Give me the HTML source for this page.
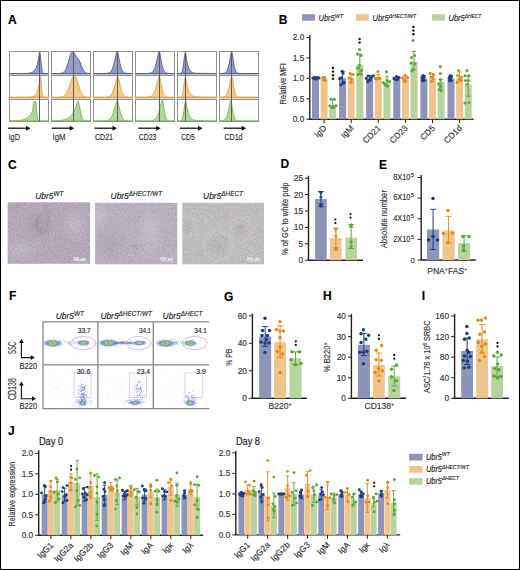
<!DOCTYPE html>
<html><head><meta charset="utf-8"><style>
html,body{margin:0;padding:0;background:#fff;overflow:hidden;width:520px;height:570px;}
svg{display:block;font-family:"Liberation Sans", sans-serif;}
text{stroke:#2a2a2a;stroke-width:0.15px;paint-order:stroke;}
text.nw{stroke:none;}
</style></head><body>
<svg width="520" height="570" viewBox="0 0 520 570">
<rect x="0.5" y="0.5" width="519" height="569" fill="#fff" stroke="#000" stroke-width="1"/>
<text x="8.00" y="23.60" font-size="12" text-anchor="start" font-weight="bold" font-style="normal" fill="#000" >A</text>
<text x="278.80" y="23.70" font-size="12" text-anchor="start" font-weight="bold" font-style="normal" fill="#000" >B</text>
<text x="8.00" y="168.50" font-size="12" text-anchor="start" font-weight="bold" font-style="normal" fill="#000" >C</text>
<text x="280.50" y="168.30" font-size="12" text-anchor="start" font-weight="bold" font-style="normal" fill="#000" >D</text>
<text x="379.00" y="168.60" font-size="12" text-anchor="start" font-weight="bold" font-style="normal" fill="#000" >E</text>
<text x="9.00" y="300.10" font-size="12" text-anchor="start" font-weight="bold" font-style="normal" fill="#000" >F</text>
<text x="224.00" y="300.80" font-size="12" text-anchor="start" font-weight="bold" font-style="normal" fill="#000" >G</text>
<text x="323.00" y="300.10" font-size="12" text-anchor="start" font-weight="bold" font-style="normal" fill="#000" >H</text>
<text x="421.80" y="300.10" font-size="12" text-anchor="start" font-weight="bold" font-style="normal" fill="#000" >I</text>
<text x="7.90" y="435.30" font-size="12" text-anchor="start" font-weight="bold" font-style="normal" fill="#000" >J</text>
<rect x="9.5" y="51.5" width="39" height="22.5" fill="none" stroke="#909090" stroke-width="1"/>
<rect x="9.5" y="75.5" width="39" height="22.299999999999997" fill="none" stroke="#909090" stroke-width="1"/>
<rect x="9.5" y="99.5" width="39" height="22" fill="none" stroke="#909090" stroke-width="1"/>
<path d="M9.60,73.50 L9.60,73.50 L9.99,73.50 L10.38,73.50 L10.76,73.50 L11.15,73.50 L11.54,73.50 L11.93,73.50 L12.32,73.50 L12.70,73.50 L13.09,73.50 L13.48,73.50 L13.87,73.50 L14.26,73.50 L14.64,73.50 L15.03,73.50 L15.42,73.50 L15.81,73.50 L16.20,73.50 L16.58,73.50 L16.97,73.50 L17.36,73.50 L17.75,73.50 L18.14,73.49 L18.52,73.49 L18.91,73.49 L19.30,73.49 L19.69,73.49 L20.08,73.49 L20.46,73.49 L20.85,73.48 L21.24,73.48 L21.63,73.48 L22.02,73.47 L22.40,73.47 L22.79,73.47 L23.18,73.46 L23.57,73.45 L23.96,73.45 L24.34,73.44 L24.73,73.43 L25.12,73.42 L25.51,73.40 L25.90,73.39 L26.28,73.37 L26.67,73.35 L27.06,73.32 L27.45,73.30 L27.84,73.26 L28.22,73.22 L28.61,73.18 L29.00,73.13 L29.39,73.07 L29.78,73.00 L30.16,72.92 L30.55,72.83 L30.94,72.72 L31.33,72.59 L31.72,72.45 L32.10,72.28 L32.49,72.08 L32.88,71.85 L33.27,71.59 L33.66,71.28 L34.04,70.92 L34.43,70.51 L34.82,70.02 L35.21,69.46 L35.60,68.81 L35.98,68.06 L36.37,67.19 L36.76,66.17 L37.15,64.99 L37.54,63.62 L37.92,62.03 L38.31,60.18 L38.70,58.04 L39.09,55.55 L39.48,52.66 L39.86,52.17 L40.25,54.64 L40.64,58.49 L41.03,62.73 L41.42,66.55 L41.80,69.45 L42.19,71.38 L42.58,72.50 L42.97,73.07 L43.36,73.34 L43.74,73.44 L44.13,73.48 L44.52,73.50 L44.91,73.50 L45.30,73.50 L45.68,73.50 L46.07,73.50 L46.46,73.50 L46.85,73.50 L47.24,73.50 L47.62,73.50 L48.01,73.50 L48.40,73.50 L48.40,73.50 Z" fill="#959cc6" stroke="#4a5a9c" stroke-width="0.9"/>
<path d="M9.60,97.30 L9.60,97.30 L9.99,97.30 L10.38,97.30 L10.76,97.30 L11.15,97.30 L11.54,97.30 L11.93,97.30 L12.32,97.30 L12.70,97.30 L13.09,97.30 L13.48,97.30 L13.87,97.30 L14.26,97.30 L14.64,97.30 L15.03,97.30 L15.42,97.30 L15.81,97.30 L16.20,97.30 L16.58,97.30 L16.97,97.30 L17.36,97.30 L17.75,97.30 L18.14,97.30 L18.52,97.30 L18.91,97.30 L19.30,97.30 L19.69,97.30 L20.08,97.30 L20.46,97.30 L20.85,97.30 L21.24,97.30 L21.63,97.30 L22.02,97.29 L22.40,97.29 L22.79,97.29 L23.18,97.29 L23.57,97.29 L23.96,97.29 L24.34,97.28 L24.73,97.28 L25.12,97.28 L25.51,97.27 L25.90,97.27 L26.28,97.26 L26.67,97.25 L27.06,97.25 L27.45,97.23 L27.84,97.22 L28.22,97.21 L28.61,97.19 L29.00,97.17 L29.39,97.14 L29.78,97.11 L30.16,97.08 L30.55,97.03 L30.94,96.98 L31.33,96.92 L31.72,96.85 L32.10,96.76 L32.49,96.66 L32.88,96.53 L33.27,96.38 L33.66,96.21 L34.04,95.99 L34.43,95.74 L34.82,95.44 L35.21,95.08 L35.60,94.66 L35.98,94.15 L36.37,93.54 L36.76,92.81 L37.15,91.95 L37.54,90.91 L37.92,89.68 L38.31,88.21 L38.70,86.46 L39.09,84.37 L39.48,81.88 L39.86,78.90 L40.25,75.89 L40.64,77.51 L41.03,81.15 L41.42,85.66 L41.80,89.90 L42.19,93.14 L42.58,95.24 L42.97,96.40 L43.36,96.95 L43.74,97.18 L44.13,97.26 L44.52,97.29 L44.91,97.30 L45.30,97.30 L45.68,97.30 L46.07,97.30 L46.46,97.30 L46.85,97.30 L47.24,97.30 L47.62,97.30 L48.01,97.30 L48.40,97.30 L48.40,97.30 Z" fill="#f6ca8c" stroke="#e39a35" stroke-width="0.9"/>
<path d="M9.60,121.00 L9.60,120.93 L9.99,120.92 L10.38,120.92 L10.76,120.91 L11.15,120.90 L11.54,120.89 L11.93,120.88 L12.32,120.87 L12.70,120.86 L13.09,120.85 L13.48,120.84 L13.87,120.82 L14.26,120.81 L14.64,120.79 L15.03,120.77 L15.42,120.75 L15.81,120.73 L16.20,120.71 L16.58,120.68 L16.97,120.66 L17.36,120.62 L17.75,120.59 L18.14,120.56 L18.52,120.52 L18.91,120.47 L19.30,120.43 L19.69,120.38 L20.08,120.32 L20.46,120.26 L20.85,120.20 L21.24,120.13 L21.63,120.05 L22.02,119.97 L22.40,119.88 L22.79,119.78 L23.18,119.67 L23.57,119.55 L23.96,119.43 L24.34,119.29 L24.73,119.14 L25.12,118.97 L25.51,118.79 L25.90,118.60 L26.28,118.39 L26.67,118.16 L27.06,117.91 L27.45,117.64 L27.84,117.34 L28.22,117.02 L28.61,116.67 L29.00,116.29 L29.39,115.87 L29.78,115.42 L30.16,114.93 L30.55,114.40 L30.94,113.82 L31.33,113.19 L31.72,112.50 L32.10,111.75 L32.49,110.94 L32.88,110.05 L33.27,103.96 L33.66,103.10 L34.04,101.77 L34.43,101.22 L34.82,101.97 L35.21,102.84 L35.60,101.24 L35.98,102.94 L36.37,107.31 L36.76,112.38 L37.15,116.49 L37.54,119.04 L37.92,120.29 L38.31,120.79 L38.70,120.95 L39.09,120.99 L39.48,121.00 L39.86,121.00 L40.25,121.00 L40.64,121.00 L41.03,121.00 L41.42,121.00 L41.80,121.00 L42.19,121.00 L42.58,121.00 L42.97,121.00 L43.36,121.00 L43.74,121.00 L44.13,121.00 L44.52,121.00 L44.91,121.00 L45.30,121.00 L45.68,121.00 L46.07,121.00 L46.46,121.00 L46.85,121.00 L47.24,121.00 L47.62,121.00 L48.01,121.00 L48.40,121.00 L48.40,121.00 Z" fill="#b3d69a" stroke="#74b255" stroke-width="0.9"/>
<line x1="39.5" y1="52" x2="39.5" y2="121.5" stroke="#5e5e5e" stroke-width="1"/>
<rect x="51.5" y="51.5" width="39" height="22.5" fill="none" stroke="#909090" stroke-width="1"/>
<rect x="51.5" y="75.5" width="39" height="22.299999999999997" fill="none" stroke="#909090" stroke-width="1"/>
<rect x="51.5" y="99.5" width="39" height="22" fill="none" stroke="#909090" stroke-width="1"/>
<path d="M51.60,73.50 L51.60,73.50 L51.99,73.50 L52.38,73.50 L52.76,73.50 L53.15,73.50 L53.54,73.50 L53.93,73.50 L54.32,73.50 L54.70,73.50 L55.09,73.50 L55.48,73.50 L55.87,73.50 L56.26,73.50 L56.64,73.50 L57.03,73.50 L57.42,73.49 L57.81,73.49 L58.20,73.48 L58.58,73.48 L58.97,73.47 L59.36,73.45 L59.75,73.43 L60.14,73.40 L60.52,73.36 L60.91,73.31 L61.30,73.24 L61.69,73.15 L62.08,73.03 L62.46,72.88 L62.85,72.69 L63.24,72.46 L63.63,72.17 L64.02,71.81 L64.40,71.39 L64.79,70.88 L65.18,70.29 L65.57,69.60 L65.96,68.81 L66.34,67.92 L66.73,66.94 L67.12,65.86 L67.51,64.69 L67.90,63.45 L68.28,62.16 L68.67,60.83 L69.06,59.49 L69.45,58.17 L69.84,56.91 L70.22,55.72 L70.61,54.65 L71.00,53.71 L71.39,52.95 L71.78,52.38 L72.16,52.02 L72.55,51.88 L72.94,51.93 L73.33,52.11 L73.72,52.41 L74.10,52.84 L74.49,53.37 L74.88,54.01 L75.27,54.75 L75.66,55.56 L76.04,56.45 L76.43,57.38 L76.82,57.98 L77.21,57.94 L77.60,58.08 L77.98,58.40 L78.37,58.88 L78.76,59.50 L79.15,60.26 L79.54,61.12 L79.92,62.06 L80.31,63.04 L80.70,64.06 L81.09,65.07 L81.48,66.06 L81.86,67.01 L82.25,67.91 L82.64,68.74 L83.03,69.49 L83.42,70.16 L83.80,70.75 L84.19,71.26 L84.58,71.70 L84.97,72.07 L85.36,72.38 L85.74,72.63 L86.13,72.83 L86.52,72.99 L86.91,73.12 L87.30,73.21 L87.68,73.27 L88.07,73.32 L88.46,73.36 L88.85,73.39 L89.24,73.41 L89.62,73.43 L90.01,73.45 L90.40,73.46 L90.40,73.50 Z" fill="#959cc6" stroke="#4a5a9c" stroke-width="0.9"/>
<path d="M51.60,97.30 L51.60,97.30 L51.99,97.30 L52.38,97.30 L52.76,97.30 L53.15,97.30 L53.54,97.30 L53.93,97.30 L54.32,97.30 L54.70,97.30 L55.09,97.30 L55.48,97.30 L55.87,97.30 L56.26,97.30 L56.64,97.30 L57.03,97.29 L57.42,97.29 L57.81,97.29 L58.20,97.28 L58.58,97.27 L58.97,97.26 L59.36,97.25 L59.75,97.23 L60.14,97.21 L60.52,97.17 L60.91,97.13 L61.30,97.08 L61.69,97.01 L62.08,96.92 L62.46,96.81 L62.85,96.68 L63.24,96.52 L63.63,96.31 L64.02,96.07 L64.40,95.78 L64.79,95.44 L65.18,95.04 L65.57,94.57 L65.96,94.04 L66.34,93.43 L66.73,92.74 L67.12,91.98 L67.51,91.14 L67.90,90.23 L68.28,89.24 L68.67,88.20 L69.06,87.10 L69.45,85.96 L69.84,84.79 L70.22,83.62 L70.61,82.46 L71.00,81.33 L71.39,80.26 L71.78,79.26 L72.16,78.35 L72.55,77.56 L72.94,76.91 L73.33,76.40 L73.72,76.06 L74.10,75.89 L74.49,75.89 L74.88,76.10 L75.27,76.51 L75.66,77.12 L76.04,77.90 L76.43,78.84 L76.82,79.90 L77.21,81.07 L77.60,82.30 L77.98,83.58 L78.37,84.87 L78.76,86.15 L79.15,87.40 L79.54,88.60 L79.92,89.72 L80.31,90.77 L80.70,91.72 L81.09,92.59 L81.48,93.36 L81.86,94.03 L82.25,94.62 L82.64,95.12 L83.03,95.55 L83.42,95.90 L83.80,96.20 L84.19,96.44 L84.58,96.64 L84.97,96.79 L85.36,96.91 L85.74,97.01 L86.13,97.08 L86.52,97.14 L86.91,97.18 L87.30,97.22 L87.68,97.24 L88.07,97.26 L88.46,97.27 L88.85,97.28 L89.24,97.29 L89.62,97.29 L90.01,97.29 L90.40,97.30 L90.40,97.30 Z" fill="#f6ca8c" stroke="#e39a35" stroke-width="0.9"/>
<path d="M51.60,121.00 L51.60,120.89 L51.99,120.88 L52.38,120.87 L52.76,120.86 L53.15,120.85 L53.54,120.84 L53.93,120.82 L54.32,120.81 L54.70,120.79 L55.09,120.78 L55.48,120.76 L55.87,120.74 L56.26,120.72 L56.64,120.70 L57.03,120.67 L57.42,120.65 L57.81,120.62 L58.20,120.59 L58.58,120.55 L58.97,120.52 L59.36,120.48 L59.75,120.44 L60.14,120.39 L60.52,120.34 L60.91,120.29 L61.30,120.23 L61.69,120.17 L62.08,120.10 L62.46,120.03 L62.85,119.95 L63.24,119.87 L63.63,119.78 L64.02,119.68 L64.40,119.57 L64.79,119.46 L65.18,119.33 L65.57,119.20 L65.96,119.05 L66.34,118.89 L66.73,118.72 L67.12,118.54 L67.51,118.34 L67.90,118.13 L68.28,117.89 L68.67,117.64 L69.06,117.37 L69.45,117.08 L69.84,116.76 L70.22,116.42 L70.61,116.05 L71.00,115.65 L71.39,115.22 L71.78,114.76 L72.16,114.25 L72.55,113.71 L72.94,113.12 L73.33,112.48 L73.72,111.80 L74.10,111.06 L74.49,110.25 L74.88,109.39 L75.27,108.45 L75.66,107.44 L76.04,106.34 L76.43,105.16 L76.82,103.88 L77.21,102.50 L77.60,101.01 L77.98,101.24 L78.37,102.00 L78.76,103.20 L79.15,104.75 L79.54,106.55 L79.92,108.48 L80.31,110.43 L80.70,112.31 L81.09,114.04 L81.48,115.57 L81.86,116.87 L82.25,117.94 L82.64,118.79 L83.03,119.45 L83.42,119.94 L83.80,120.29 L84.19,120.54 L84.58,120.71 L84.97,120.82 L85.36,120.89 L85.74,120.94 L86.13,120.96 L86.52,120.98 L86.91,120.99 L87.30,120.99 L87.68,121.00 L88.07,121.00 L88.46,121.00 L88.85,121.00 L89.24,121.00 L89.62,121.00 L90.01,121.00 L90.40,121.00 L90.40,121.00 Z" fill="#b3d69a" stroke="#74b255" stroke-width="0.9"/>
<line x1="73.5" y1="52" x2="73.5" y2="121.5" stroke="#5e5e5e" stroke-width="1"/>
<rect x="93.5" y="51.5" width="39" height="22.5" fill="none" stroke="#909090" stroke-width="1"/>
<rect x="93.5" y="75.5" width="39" height="22.299999999999997" fill="none" stroke="#909090" stroke-width="1"/>
<rect x="93.5" y="99.5" width="39" height="22" fill="none" stroke="#909090" stroke-width="1"/>
<path d="M93.60,73.50 L93.60,73.50 L93.99,73.50 L94.38,73.50 L94.76,73.50 L95.15,73.50 L95.54,73.50 L95.93,73.50 L96.32,73.50 L96.70,73.50 L97.09,73.50 L97.48,73.50 L97.87,73.50 L98.26,73.50 L98.64,73.50 L99.03,73.50 L99.42,73.50 L99.81,73.50 L100.20,73.50 L100.58,73.50 L100.97,73.50 L101.36,73.50 L101.75,73.50 L102.14,73.49 L102.52,73.49 L102.91,73.49 L103.30,73.49 L103.69,73.48 L104.08,73.48 L104.46,73.47 L104.85,73.46 L105.24,73.44 L105.63,73.42 L106.02,73.39 L106.40,73.36 L106.79,73.32 L107.18,73.26 L107.57,73.19 L107.96,73.10 L108.34,72.99 L108.73,72.84 L109.12,72.67 L109.51,72.45 L109.90,72.18 L110.28,71.85 L110.67,71.45 L111.06,70.97 L111.45,70.40 L111.84,69.73 L112.22,68.94 L112.61,68.03 L113.00,66.99 L113.39,65.81 L113.78,64.48 L114.16,63.03 L114.55,61.45 L114.94,59.77 L115.33,58.03 L115.72,56.26 L116.10,54.56 L116.49,53.00 L116.88,51.75 L117.27,51.24 L117.66,52.33 L118.04,53.96 L118.43,55.85 L118.82,57.84 L119.21,59.82 L119.60,61.70 L119.98,63.46 L120.37,65.05 L120.76,66.47 L121.15,67.71 L121.54,68.78 L121.92,69.68 L122.31,70.44 L122.70,71.07 L123.09,71.59 L123.48,72.01 L123.86,72.34 L124.25,72.61 L124.64,72.82 L125.03,72.98 L125.42,73.11 L125.80,73.21 L126.19,73.28 L126.58,73.34 L126.97,73.38 L127.36,73.41 L127.74,73.44 L128.13,73.46 L128.52,73.47 L128.91,73.48 L129.30,73.48 L129.68,73.49 L130.07,73.49 L130.46,73.49 L130.85,73.50 L131.24,73.50 L131.62,73.50 L132.01,73.50 L132.40,73.50 L132.40,73.50 Z" fill="#959cc6" stroke="#4a5a9c" stroke-width="0.9"/>
<path d="M93.60,97.30 L93.60,97.30 L93.99,97.30 L94.38,97.30 L94.76,97.30 L95.15,97.30 L95.54,97.30 L95.93,97.30 L96.32,97.30 L96.70,97.30 L97.09,97.30 L97.48,97.30 L97.87,97.30 L98.26,97.30 L98.64,97.30 L99.03,97.30 L99.42,97.30 L99.81,97.30 L100.20,97.30 L100.58,97.30 L100.97,97.30 L101.36,97.29 L101.75,97.29 L102.14,97.29 L102.52,97.28 L102.91,97.28 L103.30,97.27 L103.69,97.27 L104.08,97.26 L104.46,97.24 L104.85,97.23 L105.24,97.20 L105.63,97.18 L106.02,97.14 L106.40,97.10 L106.79,97.05 L107.18,96.98 L107.57,96.90 L107.96,96.80 L108.34,96.67 L108.73,96.52 L109.12,96.34 L109.51,96.12 L109.90,95.86 L110.28,95.55 L110.67,95.18 L111.06,94.74 L111.45,94.23 L111.84,93.65 L112.22,92.97 L112.61,92.20 L113.00,91.33 L113.39,90.35 L113.78,89.26 L114.16,88.07 L114.55,86.77 L114.94,85.39 L115.33,83.93 L115.72,82.43 L116.10,80.91 L116.49,79.43 L116.88,78.04 L117.27,76.85 L117.66,76.01 L118.04,76.28 L118.43,77.53 L118.82,79.15 L119.21,80.93 L119.60,82.76 L119.98,84.57 L120.37,86.28 L120.76,87.88 L121.15,89.32 L121.54,90.62 L121.92,91.75 L122.31,92.73 L122.70,93.58 L123.09,94.29 L123.48,94.88 L123.86,95.37 L124.25,95.78 L124.64,96.10 L125.03,96.37 L125.42,96.58 L125.80,96.75 L126.19,96.88 L126.58,96.98 L126.97,97.06 L127.36,97.12 L127.74,97.16 L128.13,97.20 L128.52,97.23 L128.91,97.25 L129.30,97.26 L129.68,97.27 L130.07,97.28 L130.46,97.29 L130.85,97.29 L131.24,97.29 L131.62,97.29 L132.01,97.30 L132.40,97.30 L132.40,97.30 Z" fill="#f6ca8c" stroke="#e39a35" stroke-width="0.9"/>
<path d="M93.60,121.00 L93.60,121.00 L93.99,121.00 L94.38,121.00 L94.76,121.00 L95.15,121.00 L95.54,121.00 L95.93,121.00 L96.32,121.00 L96.70,121.00 L97.09,121.00 L97.48,121.00 L97.87,121.00 L98.26,121.00 L98.64,121.00 L99.03,121.00 L99.42,120.99 L99.81,120.99 L100.20,120.99 L100.58,120.99 L100.97,120.99 L101.36,120.98 L101.75,120.98 L102.14,120.97 L102.52,120.96 L102.91,120.95 L103.30,120.93 L103.69,120.92 L104.08,120.90 L104.46,120.87 L104.85,120.83 L105.24,120.79 L105.63,120.74 L106.02,120.68 L106.40,120.60 L106.79,120.51 L107.18,120.40 L107.57,120.26 L107.96,120.10 L108.34,119.91 L108.73,119.69 L109.12,119.42 L109.51,119.11 L109.90,118.74 L110.28,118.32 L110.67,117.83 L111.06,117.27 L111.45,116.63 L111.84,115.92 L112.22,115.11 L112.61,114.22 L113.00,113.23 L113.39,112.16 L113.78,111.00 L114.16,109.76 L114.55,108.45 L114.94,107.10 L115.33,105.73 L115.72,104.37 L116.10,103.07 L116.49,101.89 L116.88,100.91 L117.27,100.31 L117.66,101.00 L118.04,102.34 L118.43,103.96 L118.82,105.70 L119.21,107.47 L119.60,109.19 L119.98,110.82 L120.37,112.32 L120.76,113.67 L121.15,114.88 L121.54,115.93 L121.92,116.84 L122.31,117.61 L122.70,118.27 L123.09,118.81 L123.48,119.26 L123.86,119.63 L124.25,119.93 L124.64,120.16 L125.03,120.35 L125.42,120.50 L125.80,120.62 L126.19,120.71 L126.58,120.78 L126.97,120.84 L127.36,120.88 L127.74,120.91 L128.13,120.93 L128.52,120.95 L128.91,120.96 L129.30,120.97 L129.68,120.98 L130.07,120.99 L130.46,120.99 L130.85,120.99 L131.24,121.00 L131.62,121.00 L132.01,121.00 L132.40,121.00 L132.40,121.00 Z" fill="#b3d69a" stroke="#74b255" stroke-width="0.9"/>
<line x1="117.5" y1="52" x2="117.5" y2="121.5" stroke="#5e5e5e" stroke-width="1"/>
<rect x="135.5" y="51.5" width="39" height="22.5" fill="none" stroke="#909090" stroke-width="1"/>
<rect x="135.5" y="75.5" width="39" height="22.299999999999997" fill="none" stroke="#909090" stroke-width="1"/>
<rect x="135.5" y="99.5" width="39" height="22" fill="none" stroke="#909090" stroke-width="1"/>
<path d="M135.60,73.50 L135.60,73.50 L135.99,73.50 L136.38,73.50 L136.76,73.50 L137.15,73.50 L137.54,73.50 L137.93,73.50 L138.32,73.50 L138.70,73.50 L139.09,73.50 L139.48,73.50 L139.87,73.50 L140.26,73.50 L140.64,73.50 L141.03,73.50 L141.42,73.50 L141.81,73.50 L142.20,73.50 L142.58,73.50 L142.97,73.50 L143.36,73.50 L143.75,73.50 L144.14,73.50 L144.52,73.50 L144.91,73.49 L145.30,73.49 L145.69,73.49 L146.08,73.48 L146.46,73.48 L146.85,73.47 L147.24,73.46 L147.63,73.44 L148.02,73.42 L148.40,73.40 L148.79,73.36 L149.18,73.32 L149.57,73.26 L149.96,73.19 L150.34,73.09 L150.73,72.97 L151.12,72.82 L151.51,72.62 L151.90,72.38 L152.28,72.09 L152.67,71.72 L153.06,71.28 L153.45,70.75 L153.84,70.11 L154.22,69.36 L154.61,68.48 L155.00,67.46 L155.39,66.29 L155.78,64.97 L156.16,63.50 L156.55,61.89 L156.94,60.17 L157.33,58.37 L157.72,56.53 L158.10,54.74 L158.49,53.11 L158.88,51.78 L159.27,51.25 L159.66,52.49 L160.04,54.34 L160.43,56.45 L160.82,58.63 L161.21,60.76 L161.60,62.75 L161.98,64.57 L162.37,66.17 L162.76,67.56 L163.15,68.75 L163.54,69.74 L163.92,70.55 L164.31,71.21 L164.70,71.74 L165.09,72.17 L165.48,72.49 L165.86,72.75 L166.25,72.94 L166.64,73.09 L167.03,73.20 L167.42,73.29 L167.80,73.35 L168.19,73.39 L168.58,73.42 L168.97,73.45 L169.36,73.46 L169.74,73.47 L170.13,73.48 L170.52,73.49 L170.91,73.49 L171.30,73.49 L171.68,73.50 L172.07,73.50 L172.46,73.50 L172.85,73.50 L173.24,73.50 L173.62,73.50 L174.01,73.50 L174.40,73.50 L174.40,73.50 Z" fill="#959cc6" stroke="#4a5a9c" stroke-width="0.9"/>
<path d="M135.60,97.30 L135.60,97.30 L135.99,97.30 L136.38,97.30 L136.76,97.30 L137.15,97.30 L137.54,97.30 L137.93,97.30 L138.32,97.30 L138.70,97.30 L139.09,97.30 L139.48,97.30 L139.87,97.30 L140.26,97.30 L140.64,97.30 L141.03,97.30 L141.42,97.30 L141.81,97.30 L142.20,97.30 L142.58,97.30 L142.97,97.30 L143.36,97.29 L143.75,97.29 L144.14,97.29 L144.52,97.29 L144.91,97.28 L145.30,97.27 L145.69,97.27 L146.08,97.25 L146.46,97.24 L146.85,97.22 L147.24,97.20 L147.63,97.17 L148.02,97.13 L148.40,97.09 L148.79,97.03 L149.18,96.95 L149.57,96.86 L149.96,96.75 L150.34,96.61 L150.73,96.44 L151.12,96.23 L151.51,95.98 L151.90,95.68 L152.28,95.32 L152.67,94.89 L153.06,94.39 L153.45,93.80 L153.84,93.12 L154.22,92.34 L154.61,91.46 L155.00,90.46 L155.39,89.34 L155.78,88.11 L156.16,86.77 L156.55,85.34 L156.94,83.83 L157.33,82.26 L157.72,80.69 L158.10,79.17 L158.49,77.77 L158.88,76.60 L159.27,75.88 L159.66,76.74 L160.04,78.41 L160.43,80.39 L160.82,82.49 L161.21,84.55 L161.60,86.50 L161.98,88.29 L162.37,89.89 L162.76,91.27 L163.15,92.46 L163.54,93.46 L163.92,94.28 L164.31,94.95 L164.70,95.49 L165.09,95.92 L165.48,96.26 L165.86,96.52 L166.25,96.72 L166.64,96.87 L167.03,96.99 L167.42,97.08 L167.80,97.14 L168.19,97.18 L168.58,97.22 L168.97,97.24 L169.36,97.26 L169.74,97.27 L170.13,97.28 L170.52,97.29 L170.91,97.29 L171.30,97.29 L171.68,97.30 L172.07,97.30 L172.46,97.30 L172.85,97.30 L173.24,97.30 L173.62,97.30 L174.01,97.30 L174.40,97.30 L174.40,97.30 Z" fill="#f6ca8c" stroke="#e39a35" stroke-width="0.9"/>
<path d="M135.60,121.00 L135.60,121.00 L135.99,121.00 L136.38,121.00 L136.76,121.00 L137.15,121.00 L137.54,121.00 L137.93,121.00 L138.32,121.00 L138.70,121.00 L139.09,121.00 L139.48,121.00 L139.87,121.00 L140.26,121.00 L140.64,121.00 L141.03,121.00 L141.42,121.00 L141.81,121.00 L142.20,121.00 L142.58,121.00 L142.97,121.00 L143.36,121.00 L143.75,121.00 L144.14,121.00 L144.52,121.00 L144.91,121.00 L145.30,121.00 L145.69,120.99 L146.08,120.99 L146.46,120.99 L146.85,120.99 L147.24,120.98 L147.63,120.98 L148.02,120.97 L148.40,120.96 L148.79,120.95 L149.18,120.94 L149.57,120.92 L149.96,120.90 L150.34,120.87 L150.73,120.84 L151.12,120.79 L151.51,120.74 L151.90,120.67 L152.28,120.58 L152.67,120.48 L153.06,120.35 L153.45,120.20 L153.84,120.01 L154.22,119.79 L154.61,119.52 L155.00,119.21 L155.39,118.83 L155.78,118.39 L156.16,117.88 L156.55,117.29 L156.94,116.61 L157.33,115.83 L157.72,114.96 L158.10,113.98 L158.49,112.90 L158.88,111.72 L159.27,110.44 L159.66,109.08 L160.04,107.66 L160.43,106.20 L160.82,104.74 L161.21,103.33 L161.60,102.04 L161.98,100.96 L162.37,100.31 L162.76,101.58 L163.15,103.91 L163.54,106.54 L163.92,109.15 L164.31,111.55 L164.70,113.64 L165.09,115.40 L165.48,116.82 L165.86,117.94 L166.25,118.80 L166.64,119.44 L167.03,119.92 L167.42,120.26 L167.80,120.50 L168.19,120.67 L168.58,120.78 L168.97,120.86 L169.36,120.91 L169.74,120.94 L170.13,120.96 L170.52,120.98 L170.91,120.99 L171.30,120.99 L171.68,121.00 L172.07,121.00 L172.46,121.00 L172.85,121.00 L173.24,121.00 L173.62,121.00 L174.01,121.00 L174.40,121.00 L174.40,121.00 Z" fill="#b3d69a" stroke="#74b255" stroke-width="0.9"/>
<line x1="159.5" y1="52" x2="159.5" y2="121.5" stroke="#5e5e5e" stroke-width="1"/>
<rect x="177.5" y="51.5" width="39" height="22.5" fill="none" stroke="#909090" stroke-width="1"/>
<rect x="177.5" y="75.5" width="39" height="22.299999999999997" fill="none" stroke="#909090" stroke-width="1"/>
<rect x="177.5" y="99.5" width="39" height="22" fill="none" stroke="#909090" stroke-width="1"/>
<path d="M177.60,73.50 L177.60,73.50 L177.99,73.50 L178.38,73.50 L178.76,73.50 L179.15,73.49 L179.54,73.48 L179.93,73.46 L180.32,73.41 L180.70,73.30 L181.09,73.09 L181.48,72.71 L181.87,72.08 L182.26,71.07 L182.64,69.58 L183.03,67.54 L183.42,64.95 L183.81,61.95 L184.20,58.79 L184.58,55.83 L184.97,53.48 L185.36,52.12 L185.75,53.23 L186.14,56.37 L186.52,59.03 L186.91,61.28 L187.30,63.18 L187.69,64.78 L188.08,66.13 L188.46,67.28 L188.85,68.24 L189.24,69.06 L189.63,69.75 L190.02,70.33 L190.40,70.82 L190.79,71.24 L191.18,71.59 L191.57,71.89 L191.96,72.14 L192.34,72.35 L192.73,72.53 L193.12,72.68 L193.51,72.81 L193.90,72.91 L194.28,73.00 L194.67,73.08 L195.06,73.15 L195.45,73.20 L195.84,73.22 L196.22,73.23 L196.61,73.24 L197.00,73.26 L197.39,73.27 L197.78,73.28 L198.16,73.30 L198.55,73.31 L198.94,73.32 L199.33,73.33 L199.72,73.34 L200.10,73.35 L200.49,73.36 L200.88,73.37 L201.27,73.38 L201.66,73.39 L202.04,73.40 L202.43,73.41 L202.82,73.41 L203.21,73.42 L203.60,73.43 L203.98,73.43 L204.37,73.44 L204.76,73.44 L205.15,73.45 L205.54,73.45 L205.92,73.46 L206.31,73.46 L206.70,73.47 L207.09,73.47 L207.48,73.47 L207.86,73.47 L208.25,73.48 L208.64,73.48 L209.03,73.48 L209.42,73.48 L209.80,73.49 L210.19,73.49 L210.58,73.49 L210.97,73.49 L211.36,73.49 L211.74,73.49 L212.13,73.49 L212.52,73.49 L212.91,73.49 L213.30,73.50 L213.68,73.50 L214.07,73.50 L214.46,73.50 L214.85,73.50 L215.24,73.50 L215.62,73.50 L216.01,73.50 L216.40,73.50 L216.40,73.50 Z" fill="#959cc6" stroke="#4a5a9c" stroke-width="0.9"/>
<path d="M177.60,97.30 L177.60,97.30 L177.99,97.30 L178.38,97.30 L178.76,97.30 L179.15,97.29 L179.54,97.28 L179.93,97.26 L180.32,97.21 L180.70,97.11 L181.09,96.91 L181.48,96.56 L181.87,95.95 L182.26,94.99 L182.64,93.58 L183.03,91.64 L183.42,89.20 L183.81,86.35 L184.20,83.35 L184.58,80.54 L184.97,78.32 L185.36,77.03 L185.75,77.93 L186.14,80.62 L186.52,82.93 L186.91,84.92 L187.30,86.64 L187.69,88.12 L188.08,89.39 L188.46,90.49 L188.85,91.43 L189.24,92.24 L189.63,92.94 L190.02,93.55 L190.40,94.07 L190.79,94.52 L191.18,94.90 L191.57,95.23 L191.96,95.52 L192.34,95.77 L192.73,95.98 L193.12,96.16 L193.51,96.32 L193.90,96.46 L194.28,96.53 L194.67,96.56 L195.06,96.59 L195.45,96.62 L195.84,96.66 L196.22,96.69 L196.61,96.72 L197.00,96.75 L197.39,96.78 L197.78,96.81 L198.16,96.84 L198.55,96.86 L198.94,96.89 L199.33,96.92 L199.72,96.94 L200.10,96.96 L200.49,96.99 L200.88,97.01 L201.27,97.03 L201.66,97.05 L202.04,97.07 L202.43,97.09 L202.82,97.10 L203.21,97.12 L203.60,97.13 L203.98,97.15 L204.37,97.16 L204.76,97.17 L205.15,97.18 L205.54,97.19 L205.92,97.20 L206.31,97.21 L206.70,97.22 L207.09,97.23 L207.48,97.24 L207.86,97.24 L208.25,97.25 L208.64,97.25 L209.03,97.26 L209.42,97.26 L209.80,97.27 L210.19,97.27 L210.58,97.27 L210.97,97.28 L211.36,97.28 L211.74,97.28 L212.13,97.28 L212.52,97.29 L212.91,97.29 L213.30,97.29 L213.68,97.29 L214.07,97.29 L214.46,97.29 L214.85,97.29 L215.24,97.29 L215.62,97.30 L216.01,97.30 L216.40,97.30 L216.40,97.30 Z" fill="#f6ca8c" stroke="#e39a35" stroke-width="0.9"/>
<path d="M177.60,121.00 L177.60,121.00 L177.99,121.00 L178.38,121.00 L178.76,121.00 L179.15,120.99 L179.54,120.98 L179.93,120.96 L180.32,120.91 L180.70,120.81 L181.09,120.63 L181.48,120.31 L181.87,119.78 L182.26,118.97 L182.64,117.77 L183.03,116.12 L183.42,114.02 L183.81,111.51 L184.20,108.75 L184.58,106.00 L184.97,103.56 L185.36,101.76 L185.75,100.84 L186.14,102.52 L186.52,105.08 L186.91,107.29 L187.30,109.19 L187.69,110.82 L188.08,112.24 L188.46,113.45 L188.85,114.50 L189.24,115.40 L189.63,116.17 L190.02,116.84 L190.40,117.42 L190.79,117.92 L191.18,118.34 L191.57,118.71 L191.96,119.03 L192.34,119.30 L192.73,119.54 L193.12,119.74 L193.51,119.92 L193.90,120.07 L194.28,120.20 L194.67,120.24 L195.06,120.28 L195.45,120.31 L195.84,120.34 L196.22,120.37 L196.61,120.40 L197.00,120.43 L197.39,120.46 L197.78,120.49 L198.16,120.52 L198.55,120.55 L198.94,120.57 L199.33,120.60 L199.72,120.63 L200.10,120.65 L200.49,120.67 L200.88,120.70 L201.27,120.72 L201.66,120.74 L202.04,120.76 L202.43,120.78 L202.82,120.79 L203.21,120.81 L203.60,120.82 L203.98,120.84 L204.37,120.85 L204.76,120.86 L205.15,120.88 L205.54,120.89 L205.92,120.90 L206.31,120.91 L206.70,120.92 L207.09,120.92 L207.48,120.93 L207.86,120.94 L208.25,120.94 L208.64,120.95 L209.03,120.96 L209.42,120.96 L209.80,120.96 L210.19,120.97 L210.58,120.97 L210.97,120.97 L211.36,120.98 L211.74,120.98 L212.13,120.98 L212.52,120.98 L212.91,120.99 L213.30,120.99 L213.68,120.99 L214.07,120.99 L214.46,120.99 L214.85,120.99 L215.24,120.99 L215.62,120.99 L216.01,121.00 L216.40,121.00 L216.40,121.00 Z" fill="#b3d69a" stroke="#74b255" stroke-width="0.9"/>
<line x1="185.5" y1="52" x2="185.5" y2="121.5" stroke="#5e5e5e" stroke-width="1"/>
<rect x="219.5" y="51.5" width="39" height="22.5" fill="none" stroke="#909090" stroke-width="1"/>
<rect x="219.5" y="75.5" width="39" height="22.299999999999997" fill="none" stroke="#909090" stroke-width="1"/>
<rect x="219.5" y="99.5" width="39" height="22" fill="none" stroke="#909090" stroke-width="1"/>
<path d="M219.60,73.50 L219.60,73.49 L219.99,73.49 L220.38,73.49 L220.76,73.48 L221.15,73.47 L221.54,73.46 L221.93,73.45 L222.32,73.42 L222.70,73.39 L223.09,73.35 L223.48,73.29 L223.87,73.20 L224.26,73.09 L224.64,72.95 L225.03,72.75 L225.42,72.50 L225.81,72.17 L226.20,71.75 L226.58,71.22 L226.97,70.56 L227.36,69.74 L227.75,68.76 L228.14,67.58 L228.52,66.19 L228.91,64.58 L229.30,62.77 L229.69,60.78 L230.08,58.65 L230.46,56.47 L230.85,54.36 L231.24,52.51 L231.63,51.26 L232.02,52.22 L232.40,54.47 L232.79,57.11 L233.18,59.79 L233.57,62.31 L233.96,64.58 L234.34,66.53 L234.73,68.15 L235.12,69.47 L235.51,70.51 L235.90,71.32 L236.28,71.93 L236.67,72.39 L237.06,72.72 L237.45,72.96 L237.84,73.14 L238.22,73.25 L238.61,73.34 L239.00,73.39 L239.39,73.43 L239.78,73.46 L240.16,73.47 L240.55,73.48 L240.94,73.49 L241.33,73.49 L241.72,73.50 L242.10,73.50 L242.49,73.50 L242.88,73.50 L243.27,73.50 L243.66,73.50 L244.04,73.50 L244.43,73.50 L244.82,73.50 L245.21,73.50 L245.60,73.50 L245.98,73.50 L246.37,73.50 L246.76,73.50 L247.15,73.50 L247.54,73.50 L247.92,73.50 L248.31,73.50 L248.70,73.50 L249.09,73.50 L249.48,73.50 L249.86,73.50 L250.25,73.50 L250.64,73.50 L251.03,73.50 L251.42,73.50 L251.80,73.50 L252.19,73.50 L252.58,73.50 L252.97,73.50 L253.36,73.50 L253.74,73.50 L254.13,73.50 L254.52,73.50 L254.91,73.50 L255.30,73.50 L255.68,73.50 L256.07,73.50 L256.46,73.50 L256.85,73.50 L257.24,73.50 L257.62,73.50 L258.01,73.50 L258.40,73.50 L258.40,73.50 Z" fill="#959cc6" stroke="#4a5a9c" stroke-width="0.9"/>
<path d="M219.60,97.30 L219.60,97.29 L219.99,97.28 L220.38,97.27 L220.76,97.26 L221.15,97.25 L221.54,97.22 L221.93,97.20 L222.32,97.16 L222.70,97.11 L223.09,97.04 L223.48,96.95 L223.87,96.84 L224.26,96.69 L224.64,96.50 L225.03,96.26 L225.42,95.96 L225.81,95.58 L226.20,95.11 L226.58,94.54 L226.97,93.84 L227.36,93.01 L227.75,92.03 L228.14,90.88 L228.52,89.57 L228.91,88.08 L229.30,86.44 L229.69,84.66 L230.08,82.78 L230.46,80.86 L230.85,79.01 L231.24,77.35 L231.63,76.13 L232.02,76.44 L232.40,78.42 L232.79,80.89 L233.18,83.48 L233.57,85.96 L233.96,88.20 L234.34,90.15 L234.73,91.79 L235.12,93.13 L235.51,94.20 L235.90,95.03 L236.28,95.66 L236.67,96.13 L237.06,96.48 L237.45,96.73 L237.84,96.91 L238.22,97.04 L238.61,97.13 L239.00,97.19 L239.39,97.23 L239.78,97.25 L240.16,97.27 L240.55,97.28 L240.94,97.29 L241.33,97.29 L241.72,97.30 L242.10,97.30 L242.49,97.30 L242.88,97.30 L243.27,97.30 L243.66,97.30 L244.04,97.30 L244.43,97.30 L244.82,97.30 L245.21,97.30 L245.60,97.30 L245.98,97.30 L246.37,97.30 L246.76,97.30 L247.15,97.30 L247.54,97.30 L247.92,97.30 L248.31,97.30 L248.70,97.30 L249.09,97.30 L249.48,97.30 L249.86,97.30 L250.25,97.30 L250.64,97.30 L251.03,97.30 L251.42,97.30 L251.80,97.30 L252.19,97.30 L252.58,97.30 L252.97,97.30 L253.36,97.30 L253.74,97.30 L254.13,97.30 L254.52,97.30 L254.91,97.30 L255.30,97.30 L255.68,97.30 L256.07,97.30 L256.46,97.30 L256.85,97.30 L257.24,97.30 L257.62,97.30 L258.01,97.30 L258.40,97.30 L258.40,97.30 Z" fill="#f6ca8c" stroke="#e39a35" stroke-width="0.9"/>
<path d="M219.60,121.00 L219.60,120.97 L219.99,120.96 L220.38,120.94 L220.76,120.92 L221.15,120.89 L221.54,120.85 L221.93,120.80 L222.32,120.73 L222.70,120.63 L223.09,120.51 L223.48,120.36 L223.87,120.16 L224.26,119.91 L224.64,119.60 L225.03,119.20 L225.42,118.72 L225.81,118.13 L226.20,117.42 L226.58,116.57 L226.97,115.57 L227.36,114.42 L227.75,113.09 L228.14,111.61 L228.52,109.98 L228.91,108.22 L229.30,106.39 L229.69,104.55 L230.08,102.80 L230.46,101.30 L230.85,100.34 L231.24,101.38 L231.63,103.50 L232.02,105.96 L232.40,108.44 L232.79,110.77 L233.18,112.85 L233.57,114.64 L233.96,116.13 L234.34,117.33 L234.73,118.28 L235.12,119.02 L235.51,119.58 L235.90,119.99 L236.28,120.30 L236.67,120.52 L237.06,120.67 L237.45,120.78 L237.84,120.85 L238.22,120.90 L238.61,120.94 L239.00,120.96 L239.39,120.97 L239.78,120.98 L240.16,120.99 L240.55,120.99 L240.94,121.00 L241.33,121.00 L241.72,121.00 L242.10,121.00 L242.49,121.00 L242.88,121.00 L243.27,121.00 L243.66,121.00 L244.04,121.00 L244.43,121.00 L244.82,121.00 L245.21,121.00 L245.60,121.00 L245.98,121.00 L246.37,121.00 L246.76,121.00 L247.15,121.00 L247.54,121.00 L247.92,121.00 L248.31,121.00 L248.70,121.00 L249.09,121.00 L249.48,121.00 L249.86,121.00 L250.25,121.00 L250.64,121.00 L251.03,121.00 L251.42,121.00 L251.80,121.00 L252.19,121.00 L252.58,121.00 L252.97,121.00 L253.36,121.00 L253.74,121.00 L254.13,121.00 L254.52,121.00 L254.91,121.00 L255.30,121.00 L255.68,121.00 L256.07,121.00 L256.46,121.00 L256.85,121.00 L257.24,121.00 L257.62,121.00 L258.01,121.00 L258.40,121.00 L258.40,121.00 Z" fill="#b3d69a" stroke="#74b255" stroke-width="0.9"/>
<line x1="231.5" y1="52" x2="231.5" y2="121.5" stroke="#5e5e5e" stroke-width="1"/>
<line x1="8" y1="128.2" x2="27.5" y2="128.2" stroke="#111" stroke-width="1.3"/>
<path d="M26.0,125.7 L30.5,128.2 L26.0,130.7 Z" fill="#111"/>
<text x="8.50" y="139.60" font-size="9.9" text-anchor="start" font-weight="normal" font-style="normal" fill="#2a2a2a" textLength="11.5" lengthAdjust="spacingAndGlyphs" >IgD</text>
<line x1="51.7" y1="128.2" x2="71.2" y2="128.2" stroke="#111" stroke-width="1.3"/>
<path d="M69.7,125.7 L74.2,128.2 L69.7,130.7 Z" fill="#111"/>
<text x="52.50" y="139.60" font-size="9.9" text-anchor="start" font-weight="normal" font-style="normal" fill="#2a2a2a" textLength="13" lengthAdjust="spacingAndGlyphs" >IgM</text>
<line x1="94.5" y1="128.2" x2="114.0" y2="128.2" stroke="#111" stroke-width="1.3"/>
<path d="M112.5,125.7 L117.0,128.2 L112.5,130.7 Z" fill="#111"/>
<text x="95.00" y="139.60" font-size="9.9" text-anchor="start" font-weight="normal" font-style="normal" fill="#2a2a2a" textLength="18" lengthAdjust="spacingAndGlyphs" >CD21</text>
<line x1="138.2" y1="128.2" x2="157.7" y2="128.2" stroke="#111" stroke-width="1.3"/>
<path d="M156.2,125.7 L160.7,128.2 L156.2,130.7 Z" fill="#111"/>
<text x="138.80" y="139.60" font-size="9.9" text-anchor="start" font-weight="normal" font-style="normal" fill="#2a2a2a" textLength="17.5" lengthAdjust="spacingAndGlyphs" >CD23</text>
<line x1="180" y1="128.2" x2="199.5" y2="128.2" stroke="#111" stroke-width="1.3"/>
<path d="M198.0,125.7 L202.5,128.2 L198.0,130.7 Z" fill="#111"/>
<text x="181.30" y="139.60" font-size="9.9" text-anchor="start" font-weight="normal" font-style="normal" fill="#2a2a2a" textLength="13.3" lengthAdjust="spacingAndGlyphs" >CD5</text>
<line x1="223.7" y1="128.2" x2="243.2" y2="128.2" stroke="#111" stroke-width="1.3"/>
<path d="M241.7,125.7 L246.2,128.2 L241.7,130.7 Z" fill="#111"/>
<text x="224.50" y="139.60" font-size="9.9" text-anchor="start" font-weight="normal" font-style="normal" fill="#2a2a2a" textLength="18" lengthAdjust="spacingAndGlyphs" >CD1d</text>
<rect x="302" y="14.2" width="13" height="6.5" fill="#8d93b9"/>
<text x="318.5" y="20.7" font-size="8.5" font-style="italic" fill="#222"><tspan textLength="16.3" lengthAdjust="spacingAndGlyphs">Ubr5</tspan><tspan font-size="5.61" dy="-3.2" textLength="8.5" lengthAdjust="spacingAndGlyphs">WT</tspan></text>
<rect x="356" y="14.2" width="13" height="6.5" fill="#efc58d"/>
<text x="372.5" y="20.7" font-size="8.5" font-style="italic" fill="#222"><tspan textLength="16.3" lengthAdjust="spacingAndGlyphs">Ubr5</tspan><tspan font-size="5.61" dy="-3.2" textLength="27.5" lengthAdjust="spacingAndGlyphs">ΔHECT/WT</tspan></text>
<rect x="432" y="14.2" width="13" height="6.5" fill="#b8d49e"/>
<text x="448.5" y="20.7" font-size="8.5" font-style="italic" fill="#222"><tspan textLength="16.3" lengthAdjust="spacingAndGlyphs">Ubr5</tspan><tspan font-size="5.61" dy="-3.2" textLength="16.4" lengthAdjust="spacingAndGlyphs">ΔHECT</tspan></text>
<line x1="309.8" y1="35" x2="309.8" y2="119.2" stroke="#222" stroke-width="1.4"/>
<line x1="309.1" y1="119.2" x2="473.5" y2="119.2" stroke="#222" stroke-width="1.4"/>
<line x1="306.3" y1="37.5" x2="309.8" y2="37.5" stroke="#222" stroke-width="1"/>
<text x="304.30" y="40.49" font-size="8.3" text-anchor="end" font-weight="normal" font-style="normal" fill="#333" >2.0</text>
<line x1="306.3" y1="57.925" x2="309.8" y2="57.925" stroke="#222" stroke-width="1"/>
<text x="304.30" y="60.91" font-size="8.3" text-anchor="end" font-weight="normal" font-style="normal" fill="#333" >1.5</text>
<line x1="306.3" y1="78.35" x2="309.8" y2="78.35" stroke="#222" stroke-width="1"/>
<text x="304.30" y="81.34" font-size="8.3" text-anchor="end" font-weight="normal" font-style="normal" fill="#333" >1.0</text>
<line x1="306.3" y1="98.775" x2="309.8" y2="98.775" stroke="#222" stroke-width="1"/>
<text x="304.30" y="101.76" font-size="8.3" text-anchor="end" font-weight="normal" font-style="normal" fill="#333" >0.5</text>
<line x1="306.3" y1="119.2" x2="309.8" y2="119.2" stroke="#222" stroke-width="1"/>
<text x="304.30" y="122.19" font-size="8.3" text-anchor="end" font-weight="normal" font-style="normal" fill="#333" >0.0</text>
<text transform="translate(285.50,83.70) rotate(-90)" x="0" y="0" font-size="8.5" text-anchor="middle" fill="#333" textLength="41" lengthAdjust="spacingAndGlyphs">Relative MFI</text>
<rect x="312.00" y="78.35" width="7.00" height="40.85" fill="#8d93b9"/>
<rect x="320.60" y="78.76" width="7.00" height="40.44" fill="#efc58d"/>
<rect x="329.20" y="107.35" width="7.00" height="11.85" fill="#b8d49e"/>
<line x1="315.50" y1="77.20" x2="315.50" y2="79.50" stroke="#1f3d80" stroke-width="1"/>
<line x1="313.50" y1="77.20" x2="317.50" y2="77.20" stroke="#1f3d80" stroke-width="1"/>
<line x1="313.50" y1="79.50" x2="317.50" y2="79.50" stroke="#1f3d80" stroke-width="1"/>
<circle cx="313.00" cy="78.00" r="1.55" fill="#1f3d80"/>
<circle cx="314.50" cy="77.30" r="1.55" fill="#1f3d80"/>
<circle cx="316.00" cy="78.20" r="1.55" fill="#1f3d80"/>
<circle cx="317.50" cy="77.50" r="1.55" fill="#1f3d80"/>
<circle cx="319.00" cy="78.00" r="1.55" fill="#1f3d80"/>
<circle cx="315.50" cy="79.00" r="1.55" fill="#1f3d80"/>
<line x1="324.10" y1="77.00" x2="324.10" y2="80.50" stroke="#e38b19" stroke-width="1"/>
<line x1="322.10" y1="77.00" x2="326.10" y2="77.00" stroke="#e38b19" stroke-width="1"/>
<line x1="322.10" y1="80.50" x2="326.10" y2="80.50" stroke="#e38b19" stroke-width="1"/>
<circle cx="323.00" cy="77.30" r="1.55" fill="#e38b19"/>
<circle cx="324.80" cy="77.80" r="1.55" fill="#e38b19"/>
<circle cx="323.50" cy="79.20" r="1.55" fill="#e38b19"/>
<circle cx="325.30" cy="80.20" r="1.55" fill="#e38b19"/>
<circle cx="324.20" cy="78.50" r="1.55" fill="#e38b19"/>
<line x1="332.70" y1="99.50" x2="332.70" y2="108.00" stroke="#5ba73a" stroke-width="1"/>
<line x1="330.70" y1="99.50" x2="334.70" y2="99.50" stroke="#5ba73a" stroke-width="1"/>
<line x1="330.70" y1="108.00" x2="334.70" y2="108.00" stroke="#5ba73a" stroke-width="1"/>
<circle cx="331.00" cy="99.20" r="1.55" fill="#5ba73a"/>
<circle cx="334.30" cy="99.20" r="1.55" fill="#5ba73a"/>
<circle cx="330.00" cy="106.00" r="1.55" fill="#5ba73a"/>
<circle cx="332.00" cy="106.80" r="1.55" fill="#5ba73a"/>
<circle cx="334.00" cy="106.50" r="1.55" fill="#5ba73a"/>
<circle cx="336.00" cy="105.80" r="1.55" fill="#5ba73a"/>
<circle cx="333.00" cy="107.50" r="1.55" fill="#5ba73a"/>
<line x1="324.1" y1="119.2" x2="324.1" y2="123.0" stroke="#222" stroke-width="1"/>
<text transform="translate(327.10,128.70) rotate(-45)" x="0" y="0" font-size="8.5" text-anchor="end" fill="#333">IgD</text>
<rect x="339.10" y="78.35" width="7.00" height="40.85" fill="#8d93b9"/>
<rect x="347.70" y="78.35" width="7.00" height="40.85" fill="#efc58d"/>
<rect x="356.30" y="64.87" width="7.00" height="54.33" fill="#b8d49e"/>
<line x1="342.60" y1="71.50" x2="342.60" y2="84.00" stroke="#1f3d80" stroke-width="1"/>
<line x1="340.60" y1="71.50" x2="344.60" y2="71.50" stroke="#1f3d80" stroke-width="1"/>
<line x1="340.60" y1="84.00" x2="344.60" y2="84.00" stroke="#1f3d80" stroke-width="1"/>
<circle cx="342.20" cy="71.20" r="1.55" fill="#1f3d80"/>
<circle cx="343.00" cy="73.20" r="1.55" fill="#1f3d80"/>
<circle cx="341.50" cy="77.80" r="1.55" fill="#1f3d80"/>
<circle cx="339.80" cy="78.40" r="1.55" fill="#1f3d80"/>
<circle cx="344.00" cy="82.40" r="1.55" fill="#1f3d80"/>
<circle cx="340.80" cy="84.70" r="1.55" fill="#1f3d80"/>
<line x1="351.20" y1="73.50" x2="351.20" y2="82.00" stroke="#e38b19" stroke-width="1"/>
<line x1="349.20" y1="73.50" x2="353.20" y2="73.50" stroke="#e38b19" stroke-width="1"/>
<line x1="349.20" y1="82.00" x2="353.20" y2="82.00" stroke="#e38b19" stroke-width="1"/>
<circle cx="350.00" cy="73.40" r="1.55" fill="#e38b19"/>
<circle cx="353.00" cy="74.50" r="1.55" fill="#e38b19"/>
<circle cx="349.20" cy="78.00" r="1.55" fill="#e38b19"/>
<circle cx="351.50" cy="79.00" r="1.55" fill="#e38b19"/>
<circle cx="351.00" cy="82.50" r="1.55" fill="#e38b19"/>
<line x1="359.80" y1="54.00" x2="359.80" y2="74.50" stroke="#5ba73a" stroke-width="1"/>
<line x1="357.80" y1="54.00" x2="361.80" y2="54.00" stroke="#5ba73a" stroke-width="1"/>
<line x1="357.80" y1="74.50" x2="361.80" y2="74.50" stroke="#5ba73a" stroke-width="1"/>
<circle cx="359.50" cy="49.50" r="1.55" fill="#5ba73a"/>
<circle cx="357.50" cy="54.10" r="1.55" fill="#5ba73a"/>
<circle cx="361.00" cy="55.50" r="1.55" fill="#5ba73a"/>
<circle cx="359.50" cy="65.00" r="1.55" fill="#5ba73a"/>
<circle cx="357.50" cy="68.00" r="1.55" fill="#5ba73a"/>
<circle cx="361.50" cy="70.50" r="1.55" fill="#5ba73a"/>
<circle cx="358.00" cy="74.50" r="1.55" fill="#5ba73a"/>
<circle cx="361.00" cy="74.00" r="1.55" fill="#5ba73a"/>
<line x1="351.20000000000005" y1="119.2" x2="351.20000000000005" y2="123.0" stroke="#222" stroke-width="1"/>
<text transform="translate(354.20,128.70) rotate(-45)" x="0" y="0" font-size="8.5" text-anchor="end" fill="#333">IgM</text>
<rect x="366.20" y="79.58" width="7.00" height="39.62" fill="#8d93b9"/>
<rect x="374.80" y="79.58" width="7.00" height="39.62" fill="#efc58d"/>
<rect x="383.40" y="82.44" width="7.00" height="36.77" fill="#b8d49e"/>
<line x1="369.70" y1="75.50" x2="369.70" y2="81.00" stroke="#1f3d80" stroke-width="1"/>
<line x1="367.70" y1="75.50" x2="371.70" y2="75.50" stroke="#1f3d80" stroke-width="1"/>
<line x1="367.70" y1="81.00" x2="371.70" y2="81.00" stroke="#1f3d80" stroke-width="1"/>
<circle cx="366.30" cy="78.40" r="1.55" fill="#1f3d80"/>
<circle cx="368.00" cy="76.00" r="1.55" fill="#1f3d80"/>
<circle cx="371.50" cy="77.50" r="1.55" fill="#1f3d80"/>
<circle cx="373.30" cy="75.80" r="1.55" fill="#1f3d80"/>
<circle cx="369.00" cy="80.00" r="1.55" fill="#1f3d80"/>
<circle cx="367.80" cy="81.60" r="1.55" fill="#1f3d80"/>
<circle cx="370.50" cy="79.00" r="1.55" fill="#1f3d80"/>
<line x1="378.30" y1="74.50" x2="378.30" y2="79.50" stroke="#e38b19" stroke-width="1"/>
<line x1="376.30" y1="74.50" x2="380.30" y2="74.50" stroke="#e38b19" stroke-width="1"/>
<line x1="376.30" y1="79.50" x2="380.30" y2="79.50" stroke="#e38b19" stroke-width="1"/>
<circle cx="377.90" cy="71.60" r="1.55" fill="#e38b19"/>
<circle cx="375.50" cy="78.40" r="1.55" fill="#e38b19"/>
<circle cx="377.50" cy="79.00" r="1.55" fill="#e38b19"/>
<circle cx="380.00" cy="78.60" r="1.55" fill="#e38b19"/>
<circle cx="378.50" cy="78.00" r="1.55" fill="#e38b19"/>
<line x1="386.90" y1="76.80" x2="386.90" y2="86.00" stroke="#5ba73a" stroke-width="1"/>
<line x1="384.90" y1="76.80" x2="388.90" y2="76.80" stroke="#5ba73a" stroke-width="1"/>
<line x1="384.90" y1="86.00" x2="388.90" y2="86.00" stroke="#5ba73a" stroke-width="1"/>
<circle cx="386.40" cy="71.80" r="1.55" fill="#5ba73a"/>
<circle cx="383.50" cy="82.50" r="1.55" fill="#5ba73a"/>
<circle cx="387.00" cy="80.50" r="1.55" fill="#5ba73a"/>
<circle cx="389.50" cy="81.50" r="1.55" fill="#5ba73a"/>
<circle cx="385.00" cy="84.50" r="1.55" fill="#5ba73a"/>
<circle cx="387.50" cy="86.30" r="1.55" fill="#5ba73a"/>
<line x1="378.3" y1="119.2" x2="378.3" y2="123.0" stroke="#222" stroke-width="1"/>
<text transform="translate(381.30,128.70) rotate(-45)" x="0" y="0" font-size="8.5" text-anchor="end" fill="#333">CD21</text>
<rect x="393.30" y="78.35" width="7.00" height="40.85" fill="#8d93b9"/>
<rect x="401.90" y="78.35" width="7.00" height="40.85" fill="#efc58d"/>
<rect x="410.50" y="62.01" width="7.00" height="57.19" fill="#b8d49e"/>
<line x1="396.80" y1="76.50" x2="396.80" y2="80.00" stroke="#1f3d80" stroke-width="1"/>
<line x1="394.80" y1="76.50" x2="398.80" y2="76.50" stroke="#1f3d80" stroke-width="1"/>
<line x1="394.80" y1="80.00" x2="398.80" y2="80.00" stroke="#1f3d80" stroke-width="1"/>
<circle cx="394.00" cy="78.40" r="1.55" fill="#1f3d80"/>
<circle cx="396.50" cy="76.50" r="1.55" fill="#1f3d80"/>
<circle cx="399.00" cy="77.50" r="1.55" fill="#1f3d80"/>
<circle cx="396.00" cy="79.80" r="1.55" fill="#1f3d80"/>
<circle cx="397.50" cy="79.00" r="1.55" fill="#1f3d80"/>
<line x1="405.40" y1="75.50" x2="405.40" y2="81.00" stroke="#e38b19" stroke-width="1"/>
<line x1="403.40" y1="75.50" x2="407.40" y2="75.50" stroke="#e38b19" stroke-width="1"/>
<line x1="403.40" y1="81.00" x2="407.40" y2="81.00" stroke="#e38b19" stroke-width="1"/>
<circle cx="402.50" cy="77.80" r="1.55" fill="#e38b19"/>
<circle cx="405.00" cy="75.30" r="1.55" fill="#e38b19"/>
<circle cx="407.50" cy="77.50" r="1.55" fill="#e38b19"/>
<circle cx="404.00" cy="80.00" r="1.55" fill="#e38b19"/>
<circle cx="405.00" cy="81.50" r="1.55" fill="#e38b19"/>
<line x1="414.00" y1="51.40" x2="414.00" y2="70.00" stroke="#5ba73a" stroke-width="1"/>
<line x1="412.00" y1="51.40" x2="416.00" y2="51.40" stroke="#5ba73a" stroke-width="1"/>
<line x1="412.00" y1="70.00" x2="416.00" y2="70.00" stroke="#5ba73a" stroke-width="1"/>
<circle cx="413.00" cy="40.50" r="1.55" fill="#5ba73a"/>
<circle cx="411.50" cy="57.50" r="1.55" fill="#5ba73a"/>
<circle cx="414.50" cy="55.50" r="1.55" fill="#5ba73a"/>
<circle cx="411.00" cy="63.00" r="1.55" fill="#5ba73a"/>
<circle cx="415.00" cy="63.80" r="1.55" fill="#5ba73a"/>
<circle cx="413.00" cy="69.50" r="1.55" fill="#5ba73a"/>
<circle cx="412.00" cy="71.00" r="1.55" fill="#5ba73a"/>
<line x1="405.40000000000003" y1="119.2" x2="405.40000000000003" y2="123.0" stroke="#222" stroke-width="1"/>
<text transform="translate(408.40,128.70) rotate(-45)" x="0" y="0" font-size="8.5" text-anchor="end" fill="#333">CD23</text>
<rect x="420.40" y="78.35" width="7.00" height="40.85" fill="#8d93b9"/>
<rect x="429.00" y="78.35" width="7.00" height="40.85" fill="#efc58d"/>
<rect x="437.60" y="81.62" width="7.00" height="37.58" fill="#b8d49e"/>
<line x1="423.90" y1="75.50" x2="423.90" y2="80.50" stroke="#1f3d80" stroke-width="1"/>
<line x1="421.90" y1="75.50" x2="425.90" y2="75.50" stroke="#1f3d80" stroke-width="1"/>
<line x1="421.90" y1="80.50" x2="425.90" y2="80.50" stroke="#1f3d80" stroke-width="1"/>
<circle cx="423.00" cy="75.50" r="1.55" fill="#1f3d80"/>
<circle cx="422.00" cy="77.50" r="1.55" fill="#1f3d80"/>
<circle cx="424.20" cy="77.00" r="1.55" fill="#1f3d80"/>
<circle cx="423.00" cy="79.30" r="1.55" fill="#1f3d80"/>
<circle cx="422.50" cy="80.60" r="1.55" fill="#1f3d80"/>
<circle cx="424.00" cy="80.60" r="1.55" fill="#1f3d80"/>
<line x1="432.50" y1="73.50" x2="432.50" y2="81.00" stroke="#e38b19" stroke-width="1"/>
<line x1="430.50" y1="73.50" x2="434.50" y2="73.50" stroke="#e38b19" stroke-width="1"/>
<line x1="430.50" y1="81.00" x2="434.50" y2="81.00" stroke="#e38b19" stroke-width="1"/>
<circle cx="430.00" cy="73.40" r="1.55" fill="#e38b19"/>
<circle cx="433.50" cy="75.00" r="1.55" fill="#e38b19"/>
<circle cx="431.00" cy="77.00" r="1.55" fill="#e38b19"/>
<circle cx="433.00" cy="78.40" r="1.55" fill="#e38b19"/>
<circle cx="431.50" cy="81.50" r="1.55" fill="#e38b19"/>
<line x1="441.10" y1="79.60" x2="441.10" y2="90.00" stroke="#5ba73a" stroke-width="1"/>
<line x1="439.10" y1="79.60" x2="443.10" y2="79.60" stroke="#5ba73a" stroke-width="1"/>
<line x1="439.10" y1="90.00" x2="443.10" y2="90.00" stroke="#5ba73a" stroke-width="1"/>
<circle cx="440.30" cy="66.60" r="1.55" fill="#5ba73a"/>
<circle cx="440.30" cy="73.50" r="1.55" fill="#5ba73a"/>
<circle cx="440.30" cy="79.60" r="1.55" fill="#5ba73a"/>
<circle cx="439.00" cy="84.00" r="1.55" fill="#5ba73a"/>
<circle cx="440.50" cy="86.60" r="1.55" fill="#5ba73a"/>
<circle cx="439.50" cy="89.50" r="1.55" fill="#5ba73a"/>
<circle cx="441.00" cy="90.80" r="1.55" fill="#5ba73a"/>
<line x1="432.5" y1="119.2" x2="432.5" y2="123.0" stroke="#222" stroke-width="1"/>
<text transform="translate(435.50,128.70) rotate(-45)" x="0" y="0" font-size="8.5" text-anchor="end" fill="#333">CD5</text>
<rect x="447.50" y="78.35" width="7.00" height="40.85" fill="#8d93b9"/>
<rect x="456.10" y="78.35" width="7.00" height="40.85" fill="#efc58d"/>
<rect x="464.70" y="84.48" width="7.00" height="34.72" fill="#b8d49e"/>
<line x1="451.00" y1="75.50" x2="451.00" y2="80.50" stroke="#1f3d80" stroke-width="1"/>
<line x1="449.00" y1="75.50" x2="453.00" y2="75.50" stroke="#1f3d80" stroke-width="1"/>
<line x1="449.00" y1="80.50" x2="453.00" y2="80.50" stroke="#1f3d80" stroke-width="1"/>
<circle cx="450.20" cy="75.50" r="1.55" fill="#1f3d80"/>
<circle cx="449.20" cy="77.50" r="1.55" fill="#1f3d80"/>
<circle cx="451.30" cy="77.00" r="1.55" fill="#1f3d80"/>
<circle cx="450.20" cy="79.30" r="1.55" fill="#1f3d80"/>
<circle cx="449.60" cy="80.60" r="1.55" fill="#1f3d80"/>
<circle cx="451.00" cy="80.60" r="1.55" fill="#1f3d80"/>
<line x1="459.60" y1="72.00" x2="459.60" y2="81.00" stroke="#e38b19" stroke-width="1"/>
<line x1="457.60" y1="72.00" x2="461.60" y2="72.00" stroke="#e38b19" stroke-width="1"/>
<line x1="457.60" y1="81.00" x2="461.60" y2="81.00" stroke="#e38b19" stroke-width="1"/>
<circle cx="458.50" cy="70.50" r="1.55" fill="#e38b19"/>
<circle cx="457.50" cy="75.50" r="1.55" fill="#e38b19"/>
<circle cx="461.50" cy="77.00" r="1.55" fill="#e38b19"/>
<circle cx="459.50" cy="79.00" r="1.55" fill="#e38b19"/>
<circle cx="457.00" cy="82.50" r="1.55" fill="#e38b19"/>
<circle cx="461.00" cy="80.50" r="1.55" fill="#e38b19"/>
<line x1="468.20" y1="75.80" x2="468.20" y2="96.20" stroke="#5ba73a" stroke-width="1"/>
<line x1="466.20" y1="75.80" x2="470.20" y2="75.80" stroke="#5ba73a" stroke-width="1"/>
<line x1="466.20" y1="96.20" x2="470.20" y2="96.20" stroke="#5ba73a" stroke-width="1"/>
<circle cx="467.00" cy="70.50" r="1.55" fill="#5ba73a"/>
<circle cx="465.00" cy="75.80" r="1.55" fill="#5ba73a"/>
<circle cx="469.00" cy="75.80" r="1.55" fill="#5ba73a"/>
<circle cx="465.50" cy="80.50" r="1.55" fill="#5ba73a"/>
<circle cx="468.50" cy="80.50" r="1.55" fill="#5ba73a"/>
<circle cx="467.00" cy="84.20" r="1.55" fill="#5ba73a"/>
<circle cx="465.00" cy="103.00" r="1.55" fill="#5ba73a"/>
<circle cx="469.00" cy="102.50" r="1.55" fill="#5ba73a"/>
<line x1="459.6" y1="119.2" x2="459.6" y2="123.0" stroke="#222" stroke-width="1"/>
<text transform="translate(462.60,128.70) rotate(-45)" x="0" y="0" font-size="8.5" text-anchor="end" fill="#333">CD1d</text>
<circle cx="333.00" cy="68.00" r="1.2" fill="#111"/>
<circle cx="333.00" cy="71.60" r="1.2" fill="#111"/>
<circle cx="333.00" cy="75.20" r="1.2" fill="#111"/>
<circle cx="333.00" cy="78.80" r="1.2" fill="#111"/>
<circle cx="359.60" cy="39.00" r="1.2" fill="#111"/>
<circle cx="359.60" cy="42.60" r="1.2" fill="#111"/>
<circle cx="413.40" cy="27.00" r="1.2" fill="#111"/>
<circle cx="413.40" cy="30.60" r="1.2" fill="#111"/>
<circle cx="413.40" cy="34.20" r="1.2" fill="#111"/>
<defs><filter id="tl" x="0" y="0" width="1" height="1" color-interpolation-filters="sRGB"><feTurbulence type="fractalNoise" baseFrequency="0.6" numOctaves="2" seed="4"/><feColorMatrix type="matrix" values="0 0 0 0 1  0 0 0 0 1  0 0 0 0 1  3 0 0 0 -1.5"/><feComposite in2="SourceGraphic" operator="in"/></filter><filter id="td" x="0" y="0" width="1" height="1" color-interpolation-filters="sRGB"><feTurbulence type="fractalNoise" baseFrequency="0.6" numOctaves="2" seed="9"/><feColorMatrix type="matrix" values="0 0 0 0 0.33  0 0 0 0 0.3  0 0 0 0 0.36  -3 0 0 0 1.5"/><feComposite in2="SourceGraphic" operator="in"/></filter><filter id="fb3" x="-20%" y="-20%" width="140%" height="140%"><feGaussianBlur stdDeviation="1.6"/></filter><radialGradient id="brn"><stop offset="0" stop-color="#b08a70" stop-opacity="0.45"/><stop offset="1" stop-color="#b08a70" stop-opacity="0"/></radialGradient><radialGradient id="lt"><stop offset="0" stop-color="#ffffff" stop-opacity="0.18"/><stop offset="1" stop-color="#ffffff" stop-opacity="0"/></radialGradient><radialGradient id="dk2"><stop offset="0" stop-color="#8a8890" stop-opacity="0.14"/><stop offset="1" stop-color="#8a8890" stop-opacity="0"/></radialGradient><radialGradient id="dk"><stop offset="0" stop-color="#806c90" stop-opacity="0.18"/><stop offset="1" stop-color="#806c90" stop-opacity="0"/></radialGradient></defs>
<rect x="7.6" y="202.3" width="82.5" height="61.5" fill="#b3a8b8"/>
<g clip-path="url(#clipimg0)">
<clipPath id="clipimg0"><rect x="7.6" y="202.3" width="82.5" height="61.5"/></clipPath>
<ellipse cx="38" cy="224" rx="14" ry="17" fill="url(#dk)"/>
<ellipse cx="20" cy="250" rx="20" ry="14" fill="url(#lt)"/>
<ellipse cx="75" cy="225" rx="16" ry="20" fill="url(#lt)"/>
<path d="M44,202 C45,209 50,214 49,222 C48,230 44,235 40,232 C35,228 36,220 40,216" stroke="#a07860" stroke-width="2.6" fill="none" opacity="0.32" filter="url(#fb3)"/>
<path d="M18,203 C19,206 18,209 17,212" stroke="#a07860" stroke-width="2" fill="none" opacity="0.28" filter="url(#fb3)"/>
<path d="M70,235 C74,233 80,236 86,234" stroke="#a07860" stroke-width="2" fill="none" opacity="0.2" filter="url(#fb3)"/>
<rect x="7.6" y="202.3" width="82.5" height="61.5" fill="#fff" filter="url(#tl)" opacity="0.22"/>
<rect x="7.6" y="202.3" width="82.5" height="61.5" fill="#000" filter="url(#td)" opacity="0.17"/>
</g>
<text class="nw" x="86.1" y="259.6" font-size="3.8" font-weight="bold" text-anchor="end" fill="#fff" opacity="0.9">200 µm</text>
<line x1="74.1" y1="260.5" x2="86.1" y2="260.5" stroke="#fff" stroke-width="0.6" opacity="0.9"/>
<rect x="95.1" y="202.8" width="82.20000000000002" height="61.5" fill="#b9b0bd"/>
<g clip-path="url(#clipimg1)">
<clipPath id="clipimg1"><rect x="95.1" y="202.8" width="82.20000000000002" height="61.5"/></clipPath>
<ellipse cx="110" cy="245" rx="16" ry="18" fill="url(#dk)"/>
<ellipse cx="150" cy="232" rx="14" ry="26" fill="url(#lt)"/>
<ellipse cx="100" cy="215" rx="10" ry="14" fill="url(#lt)"/>
<ellipse cx="135.2" cy="246.4" rx="5" ry="3.6" fill="url(#brn)"/>
<ellipse cx="139.2" cy="216.5" rx="2.5" ry="2" fill="url(#brn)"/>
<rect x="95.1" y="202.8" width="82.20000000000002" height="61.5" fill="#fff" filter="url(#tl)" opacity="0.22"/>
<rect x="95.1" y="202.8" width="82.20000000000002" height="61.5" fill="#000" filter="url(#td)" opacity="0.17"/>
</g>
<text class="nw" x="173.3" y="260.1" font-size="3.8" font-weight="bold" text-anchor="end" fill="#fff" opacity="0.9">200 µm</text>
<line x1="161.3" y1="261.0" x2="173.3" y2="261.0" stroke="#fff" stroke-width="0.6" opacity="0.9"/>
<rect x="182.3" y="202.8" width="81.69999999999999" height="61.5" fill="#bfbcbf"/>
<g clip-path="url(#clipimg2)">
<clipPath id="clipimg2"><rect x="182.3" y="202.8" width="81.69999999999999" height="61.5"/></clipPath>
<ellipse cx="187.5" cy="226" rx="8" ry="10" fill="url(#dk2)"/>
<ellipse cx="218" cy="246" rx="14" ry="14" fill="url(#dk2)"/>
<ellipse cx="240.8" cy="229.5" rx="10" ry="12" fill="url(#dk2)"/>
<ellipse cx="187.5" cy="226" rx="8.5" ry="10.5" stroke="#dcd9d6" stroke-width="2" fill="none" opacity="0.35" filter="url(#fb3)"/>
<ellipse cx="218" cy="246" rx="14.5" ry="14.5" stroke="#dcd9d6" stroke-width="2" fill="none" opacity="0.35" filter="url(#fb3)"/>
<ellipse cx="240.8" cy="229.5" rx="10.5" ry="12.5" stroke="#dcd9d6" stroke-width="2" fill="none" opacity="0.3" filter="url(#fb3)"/>
<ellipse cx="240.8" cy="227" rx="3.5" ry="3" fill="url(#brn)"/>
<circle cx="246.4" cy="223.5" r="0.6" fill="#b89470" opacity="0.45"/>
<circle cx="203.0" cy="252.1" r="0.6" fill="#b89470" opacity="0.45"/>
<circle cx="193.2" cy="232.2" r="0.6" fill="#b89470" opacity="0.45"/>
<circle cx="227.6" cy="240.0" r="0.6" fill="#b89470" opacity="0.45"/>
<circle cx="195.6" cy="241.1" r="0.6" fill="#b89470" opacity="0.45"/>
<circle cx="223.2" cy="253.7" r="0.6" fill="#b89470" opacity="0.45"/>
<circle cx="186.5" cy="259.8" r="0.6" fill="#b89470" opacity="0.45"/>
<circle cx="197.7" cy="251.6" r="0.6" fill="#b89470" opacity="0.45"/>
<circle cx="223.7" cy="252.9" r="0.6" fill="#b89470" opacity="0.45"/>
<circle cx="198.5" cy="223.3" r="0.6" fill="#b89470" opacity="0.45"/>
<circle cx="191.1" cy="249.6" r="0.6" fill="#b89470" opacity="0.45"/>
<circle cx="225.8" cy="216.6" r="0.6" fill="#b89470" opacity="0.45"/>
<circle cx="199.2" cy="209.5" r="0.6" fill="#b89470" opacity="0.45"/>
<circle cx="199.9" cy="237.0" r="0.6" fill="#b89470" opacity="0.45"/>
<circle cx="218.3" cy="245.3" r="0.6" fill="#b89470" opacity="0.45"/>
<circle cx="190.2" cy="253.1" r="0.6" fill="#b89470" opacity="0.45"/>
<circle cx="260.6" cy="247.3" r="0.6" fill="#b89470" opacity="0.45"/>
<circle cx="242.0" cy="253.7" r="0.6" fill="#b89470" opacity="0.45"/>
<circle cx="191.7" cy="231.3" r="0.6" fill="#b89470" opacity="0.45"/>
<circle cx="190.5" cy="249.7" r="0.6" fill="#b89470" opacity="0.45"/>
<circle cx="226.1" cy="210.9" r="0.6" fill="#b89470" opacity="0.45"/>
<circle cx="218.9" cy="249.5" r="0.6" fill="#b89470" opacity="0.45"/>
<circle cx="227.2" cy="211.8" r="0.6" fill="#b89470" opacity="0.45"/>
<circle cx="257.1" cy="208.0" r="0.6" fill="#b89470" opacity="0.45"/>
<circle cx="249.8" cy="260.8" r="0.6" fill="#b89470" opacity="0.45"/>
<circle cx="242.7" cy="259.2" r="0.6" fill="#b89470" opacity="0.45"/>
<circle cx="225.6" cy="217.4" r="0.6" fill="#b89470" opacity="0.45"/>
<circle cx="221.0" cy="247.2" r="0.6" fill="#b89470" opacity="0.45"/>
<circle cx="244.0" cy="226.9" r="0.6" fill="#b89470" opacity="0.45"/>
<circle cx="257.9" cy="206.8" r="0.6" fill="#b89470" opacity="0.45"/>
<circle cx="222.8" cy="207.1" r="0.6" fill="#b89470" opacity="0.45"/>
<circle cx="212.1" cy="261.7" r="0.6" fill="#b89470" opacity="0.45"/>
<circle cx="193.5" cy="261.5" r="0.6" fill="#b89470" opacity="0.45"/>
<circle cx="254.6" cy="244.4" r="0.6" fill="#b89470" opacity="0.45"/>
<circle cx="188.6" cy="231.9" r="0.6" fill="#b89470" opacity="0.45"/>
<circle cx="238.1" cy="210.3" r="0.6" fill="#b89470" opacity="0.45"/>
<circle cx="207.5" cy="210.1" r="0.6" fill="#b89470" opacity="0.45"/>
<circle cx="249.8" cy="257.4" r="0.6" fill="#b89470" opacity="0.45"/>
<circle cx="256.1" cy="248.0" r="0.6" fill="#b89470" opacity="0.45"/>
<circle cx="229.0" cy="208.4" r="0.6" fill="#b89470" opacity="0.45"/>
<rect x="182.3" y="202.8" width="81.69999999999999" height="61.5" fill="#fff" filter="url(#tl)" opacity="0.22"/>
<rect x="182.3" y="202.8" width="81.69999999999999" height="61.5" fill="#000" filter="url(#td)" opacity="0.17"/>
</g>
<text class="nw" x="260" y="260.1" font-size="3.8" font-weight="bold" text-anchor="end" fill="#fff" opacity="0.9">200 µm</text>
<line x1="248" y1="261.0" x2="260" y2="261.0" stroke="#fff" stroke-width="0.6" opacity="0.9"/>
<text x="49.30" y="198.50" font-size="8.4" font-style="italic" text-anchor="middle" fill="#222">Ubr5<tspan font-size="6.4" dy="-3">WT</tspan></text>
<text x="136.40" y="198.50" font-size="8.4" font-style="italic" text-anchor="middle" fill="#222">Ubr5<tspan font-size="6.4" dy="-3">ΔHECT/WT</tspan></text>
<text x="223.00" y="198.50" font-size="8.4" font-style="italic" text-anchor="middle" fill="#222">Ubr5<tspan font-size="6.4" dy="-3">ΔHECT</tspan></text>
<line x1="308.5" y1="175.7" x2="308.5" y2="260.2" stroke="#222" stroke-width="1.4"/>
<line x1="307.8" y1="260.2" x2="363" y2="260.2" stroke="#222" stroke-width="1.4"/>
<line x1="305.0" y1="178.2" x2="308.5" y2="178.2" stroke="#222" stroke-width="1"/>
<text x="303.00" y="181.19" font-size="8.3" text-anchor="end" font-weight="normal" font-style="normal" fill="#333" >25</text>
<line x1="305.0" y1="194.6" x2="308.5" y2="194.6" stroke="#222" stroke-width="1"/>
<text x="303.00" y="197.59" font-size="8.3" text-anchor="end" font-weight="normal" font-style="normal" fill="#333" >20</text>
<line x1="305.0" y1="211.0" x2="308.5" y2="211.0" stroke="#222" stroke-width="1"/>
<text x="303.00" y="213.99" font-size="8.3" text-anchor="end" font-weight="normal" font-style="normal" fill="#333" >15</text>
<line x1="305.0" y1="227.39999999999998" x2="308.5" y2="227.39999999999998" stroke="#222" stroke-width="1"/>
<text x="303.00" y="230.39" font-size="8.3" text-anchor="end" font-weight="normal" font-style="normal" fill="#333" >10</text>
<line x1="305.0" y1="243.79999999999998" x2="308.5" y2="243.79999999999998" stroke="#222" stroke-width="1"/>
<text x="303.00" y="246.79" font-size="8.3" text-anchor="end" font-weight="normal" font-style="normal" fill="#333" >5</text>
<line x1="305.0" y1="260.2" x2="308.5" y2="260.2" stroke="#222" stroke-width="1"/>
<text x="303.00" y="263.19" font-size="8.3" text-anchor="end" font-weight="normal" font-style="normal" fill="#333" >0</text>
<text transform="translate(288.00,218.75) rotate(-90)" x="0" y="0" font-size="8.8" text-anchor="middle" fill="#333" textLength="72.5" lengthAdjust="spacingAndGlyphs">% of GC to white pulp</text>
<rect x="315.10" y="198.90" width="11.60" height="61.30" fill="#8d93b9"/>
<rect x="330.00" y="238.10" width="11.60" height="22.10" fill="#efc58d"/>
<rect x="345.40" y="237.70" width="11.60" height="22.50" fill="#b8d49e"/>
<line x1="320.9" y1="191.5" x2="320.9" y2="206.6" stroke="#1f3d80" stroke-width="1"/>
<line x1="318.09999999999997" y1="191.5" x2="323.7" y2="191.5" stroke="#1f3d80" stroke-width="1"/>
<line x1="318.09999999999997" y1="206.6" x2="323.7" y2="206.6" stroke="#1f3d80" stroke-width="1"/>
<line x1="335.9" y1="228.5" x2="335.9" y2="249.9" stroke="#e38b19" stroke-width="1"/>
<line x1="333.09999999999997" y1="228.5" x2="338.7" y2="228.5" stroke="#e38b19" stroke-width="1"/>
<line x1="333.09999999999997" y1="249.9" x2="338.7" y2="249.9" stroke="#e38b19" stroke-width="1"/>
<line x1="351.1" y1="224.5" x2="351.1" y2="248.5" stroke="#5ba73a" stroke-width="1"/>
<line x1="348.3" y1="224.5" x2="353.90000000000003" y2="224.5" stroke="#5ba73a" stroke-width="1"/>
<line x1="348.3" y1="248.5" x2="353.90000000000003" y2="248.5" stroke="#5ba73a" stroke-width="1"/>
<path d="M318.30,190.92 L323.50,190.92 L320.90,195.60 Z" fill="#1f3d80"/>
<path d="M318.30,203.52 L323.50,203.52 L320.90,208.20 Z" fill="#1f3d80"/>
<circle cx="320.90" cy="196.90" r="1.5" fill="#1f3d80"/>
<path d="M333.30,227.52 L338.50,227.52 L335.90,232.20 Z" fill="#e38b19"/>
<path d="M333.30,246.92 L338.50,246.92 L335.90,251.60 Z" fill="#e38b19"/>
<circle cx="335.90" cy="236.10" r="1.6" fill="#e38b19"/>
<path d="M348.50,227.48 L353.70,227.48 L351.10,222.80 Z" fill="#5ba73a"/>
<circle cx="351.10" cy="241.80" r="1.6" fill="#5ba73a"/>
<circle cx="351.10" cy="246.50" r="1.6" fill="#5ba73a"/>
<circle cx="335.40" cy="219.50" r="1.1" fill="#111"/>
<circle cx="335.40" cy="223.10" r="1.1" fill="#111"/>
<circle cx="350.50" cy="214.00" r="1.1" fill="#111"/>
<circle cx="350.50" cy="217.60" r="1.1" fill="#111"/>
<line x1="421.2" y1="175" x2="421.2" y2="260" stroke="#222" stroke-width="1.4"/>
<line x1="420.5" y1="260" x2="475.8" y2="260" stroke="#222" stroke-width="1.4"/>
<line x1="417.7" y1="177.50" x2="421.2" y2="177.50" stroke="#222" stroke-width="1"/>
<text x="393.2" y="179.70" font-size="8.3" fill="#333"><tspan textLength="17.3" lengthAdjust="spacingAndGlyphs">8X10</tspan><tspan font-size="5.6" dy="-3.0" dx="0.3">5</tspan></text>
<line x1="417.7" y1="198.12" x2="421.2" y2="198.12" stroke="#222" stroke-width="1"/>
<text x="393.2" y="200.32" font-size="8.3" fill="#333"><tspan textLength="17.3" lengthAdjust="spacingAndGlyphs">6X10</tspan><tspan font-size="5.6" dy="-3.0" dx="0.3">5</tspan></text>
<line x1="417.7" y1="218.75" x2="421.2" y2="218.75" stroke="#222" stroke-width="1"/>
<text x="393.2" y="220.95" font-size="8.3" fill="#333"><tspan textLength="17.3" lengthAdjust="spacingAndGlyphs">4X10</tspan><tspan font-size="5.6" dy="-3.0" dx="0.3">5</tspan></text>
<line x1="417.7" y1="239.38" x2="421.2" y2="239.38" stroke="#222" stroke-width="1"/>
<text x="393.2" y="241.57" font-size="8.3" fill="#333"><tspan textLength="17.3" lengthAdjust="spacingAndGlyphs">2X10</tspan><tspan font-size="5.6" dy="-3.0" dx="0.3">5</tspan></text>
<line x1="417.7" y1="260" x2="421.2" y2="260" stroke="#222" stroke-width="1"/>
<text x="414.90" y="262.80" font-size="7.8" text-anchor="end" font-weight="normal" font-style="normal" fill="#333" >0</text>
<text transform="translate(386.50,219.20) rotate(-90)" x="0" y="0" font-size="8.8" text-anchor="middle" fill="#333" textLength="58.3" lengthAdjust="spacingAndGlyphs">Absolute number</text>
<rect x="427.00" y="229.50" width="12.20" height="30.50" fill="#8d93b9"/>
<rect x="442.50" y="230.50" width="12.20" height="29.50" fill="#efc58d"/>
<rect x="458.00" y="243.00" width="12.20" height="17.00" fill="#b8d49e"/>
<line x1="433.10" y1="209.30" x2="433.10" y2="249.50" stroke="#1f3d80" stroke-width="1"/>
<line x1="430.30" y1="209.30" x2="435.90" y2="209.30" stroke="#1f3d80" stroke-width="1"/>
<line x1="430.30" y1="249.50" x2="435.90" y2="249.50" stroke="#1f3d80" stroke-width="1"/>
<line x1="448.60" y1="216.30" x2="448.60" y2="243.00" stroke="#e38b19" stroke-width="1"/>
<line x1="445.80" y1="216.30" x2="451.40" y2="216.30" stroke="#e38b19" stroke-width="1"/>
<line x1="445.80" y1="243.00" x2="451.40" y2="243.00" stroke="#e38b19" stroke-width="1"/>
<line x1="464.10" y1="235.80" x2="464.10" y2="251.20" stroke="#5ba73a" stroke-width="1"/>
<line x1="461.30" y1="235.80" x2="466.90" y2="235.80" stroke="#5ba73a" stroke-width="1"/>
<line x1="461.30" y1="251.20" x2="466.90" y2="251.20" stroke="#5ba73a" stroke-width="1"/>
<circle cx="433.00" cy="198.50" r="1.8" fill="#1f3d80"/>
<circle cx="433.00" cy="236.50" r="1.8" fill="#1f3d80"/>
<circle cx="428.50" cy="240.00" r="1.8" fill="#1f3d80"/>
<circle cx="437.50" cy="240.00" r="1.8" fill="#1f3d80"/>
<circle cx="448.00" cy="210.50" r="1.8" fill="#e38b19"/>
<circle cx="443.50" cy="233.50" r="1.8" fill="#e38b19"/>
<circle cx="452.50" cy="233.00" r="1.8" fill="#e38b19"/>
<circle cx="448.00" cy="242.50" r="1.8" fill="#e38b19"/>
<circle cx="463.00" cy="236.50" r="1.8" fill="#5ba73a"/>
<circle cx="469.00" cy="236.50" r="1.8" fill="#5ba73a"/>
<circle cx="463.50" cy="246.00" r="1.8" fill="#5ba73a"/>
<circle cx="463.50" cy="250.00" r="1.8" fill="#5ba73a"/>
<text x="447.3" y="273.6" font-size="8.5" text-anchor="middle" fill="#333">PNA<tspan font-size="5.5" dy="-3">+</tspan><tspan dy="3">FAS</tspan><tspan font-size="5.5" dy="-3">+</tspan></text>
<defs><filter id="fb" x="-50%" y="-50%" width="200%" height="200%"><feGaussianBlur stdDeviation="0.55"/></filter></defs>
<text x="69.80" y="318.60" font-size="8.4" font-style="italic" text-anchor="middle" fill="#222">Ubr5<tspan font-size="6.4" dy="-3">WT</tspan></text>
<text x="126.20" y="318.60" font-size="8.4" font-style="italic" text-anchor="middle" fill="#222">Ubr5<tspan font-size="6.4" dy="-3">ΔHECT/WT</tspan></text>
<text x="182.50" y="318.60" font-size="8.4" font-style="italic" text-anchor="middle" fill="#222">Ubr5<tspan font-size="6.4" dy="-3">ΔHECT</tspan></text>
<rect x="78.0" y="344.6" width="0.9" height="0.9" fill="#b4b8e4" opacity="0.6"/>
<rect x="68.2" y="341.5" width="0.9" height="0.9" fill="#5470cc" opacity="0.6"/>
<rect x="59.0" y="342.6" width="0.9" height="0.9" fill="#8090d8" opacity="0.6"/>
<rect x="59.5" y="340.5" width="0.9" height="0.9" fill="#b4b8e4" opacity="0.6"/>
<rect x="69.3" y="342.7" width="0.9" height="0.9" fill="#5470cc" opacity="0.6"/>
<rect x="72.1" y="341.3" width="0.9" height="0.9" fill="#8090d8" opacity="0.6"/>
<rect x="67.7" y="342.5" width="0.9" height="0.9" fill="#5470cc" opacity="0.6"/>
<rect x="55.7" y="343.3" width="0.9" height="0.9" fill="#b4b8e4" opacity="0.6"/>
<rect x="70.3" y="345.9" width="0.9" height="0.9" fill="#b4b8e4" opacity="0.6"/>
<rect x="69.3" y="342.3" width="0.9" height="0.9" fill="#5470cc" opacity="0.6"/>
<rect x="77.6" y="342.8" width="0.9" height="0.9" fill="#8090d8" opacity="0.6"/>
<rect x="75.0" y="342.0" width="0.9" height="0.9" fill="#5470cc" opacity="0.6"/>
<rect x="69.4" y="344.0" width="0.9" height="0.9" fill="#8090d8" opacity="0.6"/>
<rect x="73.3" y="342.7" width="0.9" height="0.9" fill="#5470cc" opacity="0.6"/>
<rect x="59.0" y="343.2" width="0.9" height="0.9" fill="#8090d8" opacity="0.6"/>
<rect x="68.3" y="343.6" width="0.9" height="0.9" fill="#5470cc" opacity="0.6"/>
<rect x="69.4" y="344.1" width="0.9" height="0.9" fill="#8090d8" opacity="0.6"/>
<rect x="67.3" y="342.8" width="0.9" height="0.9" fill="#5470cc" opacity="0.6"/>
<rect x="73.0" y="341.0" width="0.9" height="0.9" fill="#8090d8" opacity="0.6"/>
<rect x="64.5" y="341.8" width="0.9" height="0.9" fill="#5470cc" opacity="0.6"/>
<rect x="83.5" y="342.4" width="0.9" height="0.9" fill="#b4b8e4" opacity="0.6"/>
<rect x="72.9" y="343.4" width="0.9" height="0.9" fill="#5470cc" opacity="0.6"/>
<rect x="65.5" y="340.4" width="0.9" height="0.9" fill="#8090d8" opacity="0.6"/>
<rect x="75.4" y="342.0" width="0.9" height="0.9" fill="#8090d8" opacity="0.6"/>
<rect x="73.4" y="340.7" width="0.9" height="0.9" fill="#8090d8" opacity="0.6"/>
<rect x="46.7" y="343.4" width="0.9" height="0.9" fill="#8090d8" opacity="0.6"/>
<rect x="60.0" y="341.4" width="0.9" height="0.9" fill="#8090d8" opacity="0.6"/>
<rect x="46.1" y="342.4" width="0.9" height="0.9" fill="#8090d8" opacity="0.6"/>
<rect x="56.9" y="345.0" width="0.9" height="0.9" fill="#8090d8" opacity="0.6"/>
<rect x="46.8" y="339.7" width="0.9" height="0.9" fill="#b4b8e4" opacity="0.6"/>
<rect x="58.3" y="343.6" width="0.9" height="0.9" fill="#5470cc" opacity="0.6"/>
<rect x="63.3" y="344.7" width="0.9" height="0.9" fill="#b4b8e4" opacity="0.6"/>
<rect x="53.4" y="341.9" width="0.9" height="0.9" fill="#5470cc" opacity="0.6"/>
<rect x="69.5" y="341.9" width="0.9" height="0.9" fill="#b4b8e4" opacity="0.6"/>
<rect x="49.3" y="340.0" width="0.9" height="0.9" fill="#8090d8" opacity="0.6"/>
<rect x="54.6" y="342.9" width="0.9" height="0.9" fill="#5470cc" opacity="0.6"/>
<rect x="52.0" y="342.4" width="0.9" height="0.9" fill="#5470cc" opacity="0.6"/>
<rect x="55.7" y="344.1" width="0.9" height="0.9" fill="#5470cc" opacity="0.6"/>
<rect x="60.6" y="343.0" width="0.9" height="0.9" fill="#8090d8" opacity="0.6"/>
<rect x="43.3" y="344.1" width="0.9" height="0.9" fill="#b4b8e4" opacity="0.6"/>
<rect x="45.5" y="342.2" width="0.9" height="0.9" fill="#8090d8" opacity="0.6"/>
<rect x="45.2" y="342.6" width="0.9" height="0.9" fill="#8090d8" opacity="0.6"/>
<rect x="49.4" y="343.0" width="0.9" height="0.9" fill="#5470cc" opacity="0.6"/>
<rect x="73.9" y="342.4" width="0.9" height="0.9" fill="#b4b8e4" opacity="0.6"/>
<rect x="59.1" y="339.6" width="0.9" height="0.9" fill="#8090d8" opacity="0.6"/>
<rect x="52.3" y="344.0" width="0.9" height="0.9" fill="#5470cc" opacity="0.6"/>
<rect x="53.5" y="343.4" width="0.9" height="0.9" fill="#5470cc" opacity="0.6"/>
<rect x="54.7" y="340.3" width="0.9" height="0.9" fill="#8090d8" opacity="0.6"/>
<rect x="57.4" y="340.8" width="0.9" height="0.9" fill="#5470cc" opacity="0.6"/>
<rect x="65.3" y="341.4" width="0.9" height="0.9" fill="#b4b8e4" opacity="0.6"/>
<rect x="58.2" y="342.6" width="0.9" height="0.9" fill="#5470cc" opacity="0.6"/>
<rect x="59.8" y="341.2" width="0.9" height="0.9" fill="#8090d8" opacity="0.6"/>
<rect x="60.0" y="342.3" width="0.9" height="0.9" fill="#8090d8" opacity="0.6"/>
<rect x="61.6" y="343.9" width="0.9" height="0.9" fill="#8090d8" opacity="0.6"/>
<rect x="54.9" y="340.8" width="0.9" height="0.9" fill="#5470cc" opacity="0.6"/>
<rect x="58.7" y="343.6" width="0.9" height="0.9" fill="#5470cc" opacity="0.6"/>
<rect x="63.9" y="341.7" width="0.9" height="0.9" fill="#b4b8e4" opacity="0.6"/>
<rect x="57.4" y="343.7" width="0.9" height="0.9" fill="#5470cc" opacity="0.6"/>
<rect x="55.7" y="343.0" width="0.9" height="0.9" fill="#5470cc" opacity="0.6"/>
<rect x="55.1" y="341.2" width="0.9" height="0.9" fill="#5470cc" opacity="0.6"/>
<rect x="48.0" y="341.7" width="0.9" height="0.9" fill="#8090d8" opacity="0.6"/>
<rect x="57.6" y="345.9" width="0.9" height="0.9" fill="#b4b8e4" opacity="0.6"/>
<rect x="59.9" y="344.9" width="0.9" height="0.9" fill="#8090d8" opacity="0.6"/>
<rect x="58.7" y="344.1" width="0.9" height="0.9" fill="#8090d8" opacity="0.6"/>
<rect x="55.2" y="344.2" width="0.9" height="0.9" fill="#5470cc" opacity="0.6"/>
<rect x="64.7" y="341.8" width="0.9" height="0.9" fill="#b4b8e4" opacity="0.6"/>
<rect x="49.9" y="346.9" width="0.9" height="0.9" fill="#b4b8e4" opacity="0.6"/>
<rect x="55.5" y="344.7" width="0.9" height="0.9" fill="#8090d8" opacity="0.6"/>
<rect x="59.3" y="340.1" width="0.9" height="0.9" fill="#8090d8" opacity="0.6"/>
<rect x="68.7" y="346.5" width="0.9" height="0.9" fill="#b4b8e4" opacity="0.6"/>
<rect x="55.1" y="344.2" width="0.9" height="0.9" fill="#5470cc" opacity="0.6"/>
<rect x="54.8" y="340.6" width="0.9" height="0.9" fill="#5470cc" opacity="0.6"/>
<rect x="53.4" y="343.4" width="0.9" height="0.9" fill="#5470cc" opacity="0.6"/>
<rect x="60.7" y="344.1" width="0.9" height="0.9" fill="#8090d8" opacity="0.6"/>
<rect x="54.4" y="345.5" width="0.9" height="0.9" fill="#8090d8" opacity="0.6"/>
<rect x="49.5" y="344.3" width="0.9" height="0.9" fill="#8090d8" opacity="0.6"/>
<rect x="60.7" y="341.9" width="0.9" height="0.9" fill="#8090d8" opacity="0.6"/>
<rect x="43.3" y="340.6" width="0.9" height="0.9" fill="#b4b8e4" opacity="0.6"/>
<rect x="55.5" y="343.7" width="0.9" height="0.9" fill="#5470cc" opacity="0.6"/>
<rect x="63.3" y="340.3" width="0.9" height="0.9" fill="#b4b8e4" opacity="0.6"/>
<rect x="54.1" y="344.0" width="0.9" height="0.9" fill="#5470cc" opacity="0.6"/>
<rect x="53.1" y="337.3" width="0.9" height="0.9" fill="#b4b8e4" opacity="0.6"/>
<rect x="58.9" y="347.6" width="0.9" height="0.9" fill="#b4b8e4" opacity="0.6"/>
<rect x="60.1" y="340.5" width="0.9" height="0.9" fill="#8090d8" opacity="0.6"/>
<rect x="51.6" y="343.0" width="0.9" height="0.9" fill="#5470cc" opacity="0.6"/>
<rect x="69.0" y="343.9" width="0.9" height="0.9" fill="#b4b8e4" opacity="0.6"/>
<rect x="54.7" y="346.0" width="0.9" height="0.9" fill="#8090d8" opacity="0.6"/>
<rect x="53.6" y="346.6" width="0.9" height="0.9" fill="#b4b8e4" opacity="0.6"/>
<rect x="49.9" y="341.5" width="0.9" height="0.9" fill="#5470cc" opacity="0.6"/>
<rect x="58.4" y="345.7" width="0.9" height="0.9" fill="#b4b8e4" opacity="0.6"/>
<rect x="58.0" y="343.2" width="0.9" height="0.9" fill="#5470cc" opacity="0.6"/>
<rect x="43.1" y="341.0" width="0.9" height="0.9" fill="#b4b8e4" opacity="0.6"/>
<rect x="50.4" y="341.4" width="0.9" height="0.9" fill="#5470cc" opacity="0.6"/>
<rect x="57.6" y="341.8" width="0.9" height="0.9" fill="#5470cc" opacity="0.6"/>
<rect x="58.8" y="342.7" width="0.9" height="0.9" fill="#5470cc" opacity="0.6"/>
<rect x="86.9" y="344.9" width="0.9" height="0.9" fill="#8090d8" opacity="0.6"/>
<rect x="80.0" y="341.0" width="0.9" height="0.9" fill="#8090d8" opacity="0.6"/>
<rect x="85.0" y="345.7" width="0.9" height="0.9" fill="#b4b8e4" opacity="0.6"/>
<rect x="85.3" y="340.5" width="0.9" height="0.9" fill="#8090d8" opacity="0.6"/>
<rect x="80.0" y="342.5" width="0.9" height="0.9" fill="#5470cc" opacity="0.6"/>
<rect x="87.7" y="342.6" width="0.9" height="0.9" fill="#5470cc" opacity="0.6"/>
<rect x="81.9" y="342.2" width="0.9" height="0.9" fill="#5470cc" opacity="0.6"/>
<rect x="84.2" y="341.3" width="0.9" height="0.9" fill="#5470cc" opacity="0.6"/>
<rect x="83.5" y="343.1" width="0.9" height="0.9" fill="#5470cc" opacity="0.6"/>
<rect x="90.7" y="342.5" width="0.9" height="0.9" fill="#b4b8e4" opacity="0.6"/>
<rect x="87.8" y="340.8" width="0.9" height="0.9" fill="#8090d8" opacity="0.6"/>
<rect x="87.3" y="342.9" width="0.9" height="0.9" fill="#5470cc" opacity="0.6"/>
<rect x="81.1" y="342.6" width="0.9" height="0.9" fill="#5470cc" opacity="0.6"/>
<rect x="87.5" y="342.0" width="0.9" height="0.9" fill="#5470cc" opacity="0.6"/>
<rect x="88.0" y="345.3" width="0.9" height="0.9" fill="#b4b8e4" opacity="0.6"/>
<rect x="90.7" y="345.5" width="0.9" height="0.9" fill="#b4b8e4" opacity="0.6"/>
<rect x="77.9" y="343.2" width="0.9" height="0.9" fill="#8090d8" opacity="0.6"/>
<rect x="80.5" y="344.3" width="0.9" height="0.9" fill="#8090d8" opacity="0.6"/>
<rect x="83.8" y="343.0" width="0.9" height="0.9" fill="#5470cc" opacity="0.6"/>
<rect x="85.5" y="341.6" width="0.9" height="0.9" fill="#5470cc" opacity="0.6"/>
<rect x="83.9" y="341.3" width="0.9" height="0.9" fill="#5470cc" opacity="0.6"/>
<rect x="92.7" y="341.8" width="0.9" height="0.9" fill="#b4b8e4" opacity="0.6"/>
<rect x="83.6" y="339.5" width="0.9" height="0.9" fill="#b4b8e4" opacity="0.6"/>
<rect x="77.0" y="341.1" width="0.9" height="0.9" fill="#b4b8e4" opacity="0.6"/>
<rect x="87.0" y="344.0" width="0.9" height="0.9" fill="#8090d8" opacity="0.6"/>
<rect x="84.8" y="341.5" width="0.9" height="0.9" fill="#5470cc" opacity="0.6"/>
<rect x="91.7" y="340.8" width="0.9" height="0.9" fill="#b4b8e4" opacity="0.6"/>
<rect x="79.7" y="343.5" width="0.9" height="0.9" fill="#5470cc" opacity="0.6"/>
<rect x="79.1" y="343.1" width="0.9" height="0.9" fill="#5470cc" opacity="0.6"/>
<rect x="87.8" y="342.5" width="0.9" height="0.9" fill="#5470cc" opacity="0.6"/>
<rect x="85.3" y="342.7" width="0.9" height="0.9" fill="#5470cc" opacity="0.6"/>
<rect x="80.5" y="337.0" width="0.9" height="0.9" fill="#b4b8e4" opacity="0.6"/>
<rect x="78.1" y="342.6" width="0.9" height="0.9" fill="#8090d8" opacity="0.6"/>
<rect x="76.2" y="341.6" width="0.9" height="0.9" fill="#b4b8e4" opacity="0.6"/>
<rect x="84.4" y="345.0" width="0.9" height="0.9" fill="#8090d8" opacity="0.6"/>
<rect x="77.5" y="341.7" width="0.9" height="0.9" fill="#8090d8" opacity="0.6"/>
<rect x="84.5" y="343.5" width="0.9" height="0.9" fill="#5470cc" opacity="0.6"/>
<rect x="77.4" y="345.9" width="0.9" height="0.9" fill="#b4b8e4" opacity="0.6"/>
<rect x="79.9" y="344.5" width="0.9" height="0.9" fill="#8090d8" opacity="0.6"/>
<rect x="82.6" y="343.3" width="0.9" height="0.9" fill="#5470cc" opacity="0.6"/>
<rect x="90.9" y="343.9" width="0.9" height="0.9" fill="#b4b8e4" opacity="0.6"/>
<rect x="84.1" y="340.8" width="0.9" height="0.9" fill="#5470cc" opacity="0.6"/>
<rect x="80.6" y="340.1" width="0.9" height="0.9" fill="#8090d8" opacity="0.6"/>
<rect x="92.5" y="339.9" width="0.9" height="0.9" fill="#b4b8e4" opacity="0.6"/>
<rect x="72.1" y="345.5" width="0.9" height="0.9" fill="#b4b8e4" opacity="0.6"/>
<rect x="142.4" y="341.6" width="0.9" height="0.9" fill="#b4b8e4" opacity="0.6"/>
<rect x="126.9" y="342.8" width="0.9" height="0.9" fill="#5470cc" opacity="0.6"/>
<rect x="130.4" y="340.6" width="0.9" height="0.9" fill="#b4b8e4" opacity="0.6"/>
<rect x="120.4" y="341.5" width="0.9" height="0.9" fill="#5470cc" opacity="0.6"/>
<rect x="115.1" y="341.4" width="0.9" height="0.9" fill="#8090d8" opacity="0.6"/>
<rect x="119.6" y="342.1" width="0.9" height="0.9" fill="#5470cc" opacity="0.6"/>
<rect x="116.4" y="343.1" width="0.9" height="0.9" fill="#8090d8" opacity="0.6"/>
<rect x="119.3" y="338.1" width="0.9" height="0.9" fill="#b4b8e4" opacity="0.6"/>
<rect x="133.2" y="342.0" width="0.9" height="0.9" fill="#8090d8" opacity="0.6"/>
<rect x="117.8" y="342.9" width="0.9" height="0.9" fill="#5470cc" opacity="0.6"/>
<rect x="125.5" y="342.6" width="0.9" height="0.9" fill="#5470cc" opacity="0.6"/>
<rect x="116.9" y="342.8" width="0.9" height="0.9" fill="#5470cc" opacity="0.6"/>
<rect x="111.4" y="344.6" width="0.9" height="0.9" fill="#b4b8e4" opacity="0.6"/>
<rect x="113.6" y="342.3" width="0.9" height="0.9" fill="#8090d8" opacity="0.6"/>
<rect x="123.9" y="342.9" width="0.9" height="0.9" fill="#5470cc" opacity="0.6"/>
<rect x="121.7" y="343.2" width="0.9" height="0.9" fill="#5470cc" opacity="0.6"/>
<rect x="94.6" y="342.2" width="0.9" height="0.9" fill="#b4b8e4" opacity="0.6"/>
<rect x="121.4" y="341.8" width="0.9" height="0.9" fill="#5470cc" opacity="0.6"/>
<rect x="134.9" y="341.0" width="0.9" height="0.9" fill="#b4b8e4" opacity="0.6"/>
<rect x="122.0" y="339.5" width="0.9" height="0.9" fill="#b4b8e4" opacity="0.6"/>
<rect x="124.8" y="340.1" width="0.9" height="0.9" fill="#b4b8e4" opacity="0.6"/>
<rect x="110.0" y="345.7" width="0.9" height="0.9" fill="#b4b8e4" opacity="0.6"/>
<rect x="128.3" y="342.4" width="0.9" height="0.9" fill="#5470cc" opacity="0.6"/>
<rect x="124.0" y="340.3" width="0.9" height="0.9" fill="#b4b8e4" opacity="0.6"/>
<rect x="114.2" y="343.0" width="0.9" height="0.9" fill="#8090d8" opacity="0.6"/>
<rect x="105.5" y="342.7" width="0.9" height="0.9" fill="#b4b8e4" opacity="0.6"/>
<rect x="108.6" y="342.5" width="0.9" height="0.9" fill="#b4b8e4" opacity="0.6"/>
<rect x="113.6" y="344.9" width="0.9" height="0.9" fill="#b4b8e4" opacity="0.6"/>
<rect x="130.9" y="341.6" width="0.9" height="0.9" fill="#8090d8" opacity="0.6"/>
<rect x="107.3" y="341.3" width="0.9" height="0.9" fill="#b4b8e4" opacity="0.6"/>
<rect x="122.2" y="341.0" width="0.9" height="0.9" fill="#8090d8" opacity="0.6"/>
<rect x="124.9" y="343.8" width="0.9" height="0.9" fill="#5470cc" opacity="0.6"/>
<rect x="122.2" y="341.7" width="0.9" height="0.9" fill="#5470cc" opacity="0.6"/>
<rect x="129.0" y="341.9" width="0.9" height="0.9" fill="#5470cc" opacity="0.6"/>
<rect x="129.5" y="341.9" width="0.9" height="0.9" fill="#5470cc" opacity="0.6"/>
<rect x="135.8" y="342.0" width="0.9" height="0.9" fill="#8090d8" opacity="0.6"/>
<rect x="114.0" y="342.5" width="0.9" height="0.9" fill="#8090d8" opacity="0.6"/>
<rect x="117.5" y="341.0" width="0.9" height="0.9" fill="#8090d8" opacity="0.6"/>
<rect x="121.6" y="343.4" width="0.9" height="0.9" fill="#5470cc" opacity="0.6"/>
<rect x="105.1" y="342.3" width="0.9" height="0.9" fill="#b4b8e4" opacity="0.6"/>
<rect x="121.4" y="342.2" width="0.9" height="0.9" fill="#5470cc" opacity="0.6"/>
<rect x="129.2" y="340.5" width="0.9" height="0.9" fill="#b4b8e4" opacity="0.6"/>
<rect x="128.1" y="342.0" width="0.9" height="0.9" fill="#5470cc" opacity="0.6"/>
<rect x="123.6" y="342.1" width="0.9" height="0.9" fill="#5470cc" opacity="0.6"/>
<rect x="120.0" y="341.6" width="0.9" height="0.9" fill="#5470cc" opacity="0.6"/>
<rect x="126.1" y="345.4" width="0.9" height="0.9" fill="#b4b8e4" opacity="0.6"/>
<rect x="131.3" y="343.6" width="0.9" height="0.9" fill="#8090d8" opacity="0.6"/>
<rect x="127.3" y="341.7" width="0.9" height="0.9" fill="#5470cc" opacity="0.6"/>
<rect x="127.8" y="345.3" width="0.9" height="0.9" fill="#b4b8e4" opacity="0.6"/>
<rect x="112.5" y="343.6" width="0.9" height="0.9" fill="#b4b8e4" opacity="0.6"/>
<rect x="131.1" y="342.8" width="0.9" height="0.9" fill="#5470cc" opacity="0.6"/>
<rect x="129.3" y="344.4" width="0.9" height="0.9" fill="#8090d8" opacity="0.6"/>
<rect x="141.0" y="344.3" width="0.9" height="0.9" fill="#b4b8e4" opacity="0.6"/>
<rect x="136.5" y="342.9" width="0.9" height="0.9" fill="#b4b8e4" opacity="0.6"/>
<rect x="129.8" y="342.7" width="0.9" height="0.9" fill="#5470cc" opacity="0.6"/>
<rect x="125.5" y="341.8" width="0.9" height="0.9" fill="#5470cc" opacity="0.6"/>
<rect x="128.7" y="344.5" width="0.9" height="0.9" fill="#8090d8" opacity="0.6"/>
<rect x="121.9" y="342.8" width="0.9" height="0.9" fill="#5470cc" opacity="0.6"/>
<rect x="128.3" y="342.5" width="0.9" height="0.9" fill="#5470cc" opacity="0.6"/>
<rect x="130.9" y="342.8" width="0.9" height="0.9" fill="#5470cc" opacity="0.6"/>
<rect x="101.4" y="343.1" width="0.9" height="0.9" fill="#8090d8" opacity="0.6"/>
<rect x="108.4" y="341.5" width="0.9" height="0.9" fill="#5470cc" opacity="0.6"/>
<rect x="115.9" y="342.7" width="0.9" height="0.9" fill="#5470cc" opacity="0.6"/>
<rect x="108.4" y="346.5" width="0.9" height="0.9" fill="#b4b8e4" opacity="0.6"/>
<rect x="107.1" y="339.8" width="0.9" height="0.9" fill="#8090d8" opacity="0.6"/>
<rect x="101.8" y="341.4" width="0.9" height="0.9" fill="#8090d8" opacity="0.6"/>
<rect x="114.0" y="344.4" width="0.9" height="0.9" fill="#8090d8" opacity="0.6"/>
<rect x="116.9" y="346.6" width="0.9" height="0.9" fill="#b4b8e4" opacity="0.6"/>
<rect x="120.4" y="344.0" width="0.9" height="0.9" fill="#b4b8e4" opacity="0.6"/>
<rect x="118.2" y="344.1" width="0.9" height="0.9" fill="#8090d8" opacity="0.6"/>
<rect x="106.9" y="344.5" width="0.9" height="0.9" fill="#8090d8" opacity="0.6"/>
<rect x="110.7" y="342.2" width="0.9" height="0.9" fill="#5470cc" opacity="0.6"/>
<rect x="122.4" y="344.4" width="0.9" height="0.9" fill="#b4b8e4" opacity="0.6"/>
<rect x="107.4" y="342.5" width="0.9" height="0.9" fill="#5470cc" opacity="0.6"/>
<rect x="124.5" y="342.1" width="0.9" height="0.9" fill="#b4b8e4" opacity="0.6"/>
<rect x="114.8" y="344.0" width="0.9" height="0.9" fill="#8090d8" opacity="0.6"/>
<rect x="113.5" y="344.0" width="0.9" height="0.9" fill="#5470cc" opacity="0.6"/>
<rect x="107.5" y="341.6" width="0.9" height="0.9" fill="#5470cc" opacity="0.6"/>
<rect x="109.4" y="341.9" width="0.9" height="0.9" fill="#5470cc" opacity="0.6"/>
<rect x="115.3" y="346.1" width="0.9" height="0.9" fill="#b4b8e4" opacity="0.6"/>
<rect x="105.0" y="343.9" width="0.9" height="0.9" fill="#8090d8" opacity="0.6"/>
<rect x="104.4" y="341.1" width="0.9" height="0.9" fill="#8090d8" opacity="0.6"/>
<rect x="108.9" y="342.9" width="0.9" height="0.9" fill="#5470cc" opacity="0.6"/>
<rect x="107.7" y="336.9" width="0.9" height="0.9" fill="#b4b8e4" opacity="0.6"/>
<rect x="118.8" y="342.1" width="0.9" height="0.9" fill="#8090d8" opacity="0.6"/>
<rect x="106.5" y="344.2" width="0.9" height="0.9" fill="#5470cc" opacity="0.6"/>
<rect x="106.8" y="339.5" width="0.9" height="0.9" fill="#8090d8" opacity="0.6"/>
<rect x="113.4" y="343.6" width="0.9" height="0.9" fill="#5470cc" opacity="0.6"/>
<rect x="105.4" y="344.5" width="0.9" height="0.9" fill="#8090d8" opacity="0.6"/>
<rect x="112.7" y="340.1" width="0.9" height="0.9" fill="#8090d8" opacity="0.6"/>
<rect x="121.0" y="343.3" width="0.9" height="0.9" fill="#b4b8e4" opacity="0.6"/>
<rect x="103.5" y="343.7" width="0.9" height="0.9" fill="#8090d8" opacity="0.6"/>
<rect x="111.2" y="344.8" width="0.9" height="0.9" fill="#8090d8" opacity="0.6"/>
<rect x="102.2" y="345.0" width="0.9" height="0.9" fill="#b4b8e4" opacity="0.6"/>
<rect x="116.1" y="344.2" width="0.9" height="0.9" fill="#8090d8" opacity="0.6"/>
<rect x="114.1" y="345.6" width="0.9" height="0.9" fill="#8090d8" opacity="0.6"/>
<rect x="114.7" y="343.0" width="0.9" height="0.9" fill="#5470cc" opacity="0.6"/>
<rect x="105.3" y="345.1" width="0.9" height="0.9" fill="#8090d8" opacity="0.6"/>
<rect x="116.4" y="343.3" width="0.9" height="0.9" fill="#8090d8" opacity="0.6"/>
<rect x="111.3" y="344.3" width="0.9" height="0.9" fill="#5470cc" opacity="0.6"/>
<rect x="95.1" y="343.4" width="0.9" height="0.9" fill="#b4b8e4" opacity="0.6"/>
<rect x="95.2" y="343.2" width="0.9" height="0.9" fill="#b4b8e4" opacity="0.6"/>
<rect x="116.8" y="346.9" width="0.9" height="0.9" fill="#b4b8e4" opacity="0.6"/>
<rect x="107.5" y="343.6" width="0.9" height="0.9" fill="#5470cc" opacity="0.6"/>
<rect x="109.9" y="337.7" width="0.9" height="0.9" fill="#b4b8e4" opacity="0.6"/>
<rect x="114.8" y="342.6" width="0.9" height="0.9" fill="#5470cc" opacity="0.6"/>
<rect x="110.8" y="340.6" width="0.9" height="0.9" fill="#5470cc" opacity="0.6"/>
<rect x="110.1" y="342.8" width="0.9" height="0.9" fill="#5470cc" opacity="0.6"/>
<rect x="118.1" y="343.3" width="0.9" height="0.9" fill="#8090d8" opacity="0.6"/>
<rect x="131.6" y="341.7" width="0.9" height="0.9" fill="#b4b8e4" opacity="0.6"/>
<rect x="108.7" y="342.5" width="0.9" height="0.9" fill="#5470cc" opacity="0.6"/>
<rect x="105.4" y="346.0" width="0.9" height="0.9" fill="#b4b8e4" opacity="0.6"/>
<rect x="114.3" y="339.8" width="0.9" height="0.9" fill="#8090d8" opacity="0.6"/>
<rect x="111.0" y="345.2" width="0.9" height="0.9" fill="#8090d8" opacity="0.6"/>
<rect x="101.7" y="343.0" width="0.9" height="0.9" fill="#8090d8" opacity="0.6"/>
<rect x="108.9" y="347.9" width="0.9" height="0.9" fill="#b4b8e4" opacity="0.6"/>
<rect x="112.9" y="341.7" width="0.9" height="0.9" fill="#5470cc" opacity="0.6"/>
<rect x="106.9" y="346.9" width="0.9" height="0.9" fill="#b4b8e4" opacity="0.6"/>
<rect x="107.5" y="347.7" width="0.9" height="0.9" fill="#b4b8e4" opacity="0.6"/>
<rect x="100.8" y="342.2" width="0.9" height="0.9" fill="#8090d8" opacity="0.6"/>
<rect x="108.9" y="341.1" width="0.9" height="0.9" fill="#5470cc" opacity="0.6"/>
<rect x="109.0" y="344.2" width="0.9" height="0.9" fill="#5470cc" opacity="0.6"/>
<rect x="106.3" y="339.5" width="0.9" height="0.9" fill="#8090d8" opacity="0.6"/>
<rect x="118.5" y="345.9" width="0.9" height="0.9" fill="#b4b8e4" opacity="0.6"/>
<rect x="106.1" y="343.3" width="0.9" height="0.9" fill="#5470cc" opacity="0.6"/>
<rect x="94.7" y="345.0" width="0.9" height="0.9" fill="#b4b8e4" opacity="0.6"/>
<rect x="102.2" y="341.4" width="0.9" height="0.9" fill="#8090d8" opacity="0.6"/>
<rect x="123.5" y="339.8" width="0.9" height="0.9" fill="#b4b8e4" opacity="0.6"/>
<rect x="110.5" y="340.3" width="0.9" height="0.9" fill="#8090d8" opacity="0.6"/>
<rect x="99.1" y="340.1" width="0.9" height="0.9" fill="#b4b8e4" opacity="0.6"/>
<rect x="141.7" y="342.3" width="0.9" height="0.9" fill="#5470cc" opacity="0.6"/>
<rect x="155.5" y="343.5" width="0.9" height="0.9" fill="#b4b8e4" opacity="0.6"/>
<rect x="140.3" y="343.4" width="0.9" height="0.9" fill="#5470cc" opacity="0.6"/>
<rect x="136.9" y="341.2" width="0.9" height="0.9" fill="#5470cc" opacity="0.6"/>
<rect x="141.9" y="341.7" width="0.9" height="0.9" fill="#5470cc" opacity="0.6"/>
<rect x="143.2" y="342.2" width="0.9" height="0.9" fill="#5470cc" opacity="0.6"/>
<rect x="131.0" y="340.1" width="0.9" height="0.9" fill="#b4b8e4" opacity="0.6"/>
<rect x="135.3" y="338.8" width="0.9" height="0.9" fill="#b4b8e4" opacity="0.6"/>
<rect x="139.0" y="342.0" width="0.9" height="0.9" fill="#5470cc" opacity="0.6"/>
<rect x="143.8" y="340.9" width="0.9" height="0.9" fill="#8090d8" opacity="0.6"/>
<rect x="138.3" y="343.6" width="0.9" height="0.9" fill="#5470cc" opacity="0.6"/>
<rect x="142.8" y="340.6" width="0.9" height="0.9" fill="#8090d8" opacity="0.6"/>
<rect x="146.5" y="341.4" width="0.9" height="0.9" fill="#b4b8e4" opacity="0.6"/>
<rect x="145.0" y="342.0" width="0.9" height="0.9" fill="#8090d8" opacity="0.6"/>
<rect x="137.4" y="340.2" width="0.9" height="0.9" fill="#8090d8" opacity="0.6"/>
<rect x="138.8" y="347.1" width="0.9" height="0.9" fill="#b4b8e4" opacity="0.6"/>
<rect x="136.3" y="345.4" width="0.9" height="0.9" fill="#b4b8e4" opacity="0.6"/>
<rect x="145.6" y="341.8" width="0.9" height="0.9" fill="#8090d8" opacity="0.6"/>
<rect x="144.6" y="345.2" width="0.9" height="0.9" fill="#b4b8e4" opacity="0.6"/>
<rect x="137.9" y="341.5" width="0.9" height="0.9" fill="#5470cc" opacity="0.6"/>
<rect x="144.6" y="343.2" width="0.9" height="0.9" fill="#8090d8" opacity="0.6"/>
<rect x="149.4" y="343.4" width="0.9" height="0.9" fill="#b4b8e4" opacity="0.6"/>
<rect x="133.9" y="342.5" width="0.9" height="0.9" fill="#8090d8" opacity="0.6"/>
<rect x="133.8" y="344.0" width="0.9" height="0.9" fill="#8090d8" opacity="0.6"/>
<rect x="142.7" y="341.8" width="0.9" height="0.9" fill="#5470cc" opacity="0.6"/>
<rect x="135.2" y="344.2" width="0.9" height="0.9" fill="#8090d8" opacity="0.6"/>
<rect x="137.6" y="344.9" width="0.9" height="0.9" fill="#8090d8" opacity="0.6"/>
<rect x="134.7" y="342.0" width="0.9" height="0.9" fill="#8090d8" opacity="0.6"/>
<rect x="136.8" y="340.6" width="0.9" height="0.9" fill="#8090d8" opacity="0.6"/>
<rect x="152.2" y="345.7" width="0.9" height="0.9" fill="#b4b8e4" opacity="0.6"/>
<rect x="136.4" y="344.1" width="0.9" height="0.9" fill="#8090d8" opacity="0.6"/>
<rect x="130.9" y="344.9" width="0.9" height="0.9" fill="#b4b8e4" opacity="0.6"/>
<rect x="144.5" y="341.9" width="0.9" height="0.9" fill="#8090d8" opacity="0.6"/>
<rect x="137.7" y="343.0" width="0.9" height="0.9" fill="#5470cc" opacity="0.6"/>
<rect x="141.5" y="341.9" width="0.9" height="0.9" fill="#5470cc" opacity="0.6"/>
<rect x="135.4" y="342.1" width="0.9" height="0.9" fill="#5470cc" opacity="0.6"/>
<rect x="137.4" y="344.0" width="0.9" height="0.9" fill="#5470cc" opacity="0.6"/>
<rect x="139.8" y="343.0" width="0.9" height="0.9" fill="#5470cc" opacity="0.6"/>
<rect x="131.5" y="341.8" width="0.9" height="0.9" fill="#b4b8e4" opacity="0.6"/>
<rect x="137.5" y="341.6" width="0.9" height="0.9" fill="#5470cc" opacity="0.6"/>
<rect x="138.8" y="342.0" width="0.9" height="0.9" fill="#5470cc" opacity="0.6"/>
<rect x="132.2" y="344.3" width="0.9" height="0.9" fill="#b4b8e4" opacity="0.6"/>
<rect x="143.7" y="341.6" width="0.9" height="0.9" fill="#8090d8" opacity="0.6"/>
<rect x="142.4" y="340.8" width="0.9" height="0.9" fill="#8090d8" opacity="0.6"/>
<rect x="133.5" y="342.2" width="0.9" height="0.9" fill="#8090d8" opacity="0.6"/>
<rect x="178.2" y="344.3" width="0.9" height="0.9" fill="#8090d8" opacity="0.6"/>
<rect x="169.9" y="343.9" width="0.9" height="0.9" fill="#8090d8" opacity="0.6"/>
<rect x="175.3" y="342.2" width="0.9" height="0.9" fill="#5470cc" opacity="0.6"/>
<rect x="192.6" y="342.8" width="0.9" height="0.9" fill="#b4b8e4" opacity="0.6"/>
<rect x="177.1" y="343.6" width="0.9" height="0.9" fill="#5470cc" opacity="0.6"/>
<rect x="186.4" y="342.5" width="0.9" height="0.9" fill="#8090d8" opacity="0.6"/>
<rect x="182.1" y="341.2" width="0.9" height="0.9" fill="#8090d8" opacity="0.6"/>
<rect x="174.5" y="341.9" width="0.9" height="0.9" fill="#5470cc" opacity="0.6"/>
<rect x="166.7" y="340.4" width="0.9" height="0.9" fill="#b4b8e4" opacity="0.6"/>
<rect x="164.4" y="342.2" width="0.9" height="0.9" fill="#b4b8e4" opacity="0.6"/>
<rect x="176.0" y="342.1" width="0.9" height="0.9" fill="#5470cc" opacity="0.6"/>
<rect x="178.0" y="340.7" width="0.9" height="0.9" fill="#8090d8" opacity="0.6"/>
<rect x="176.8" y="342.9" width="0.9" height="0.9" fill="#5470cc" opacity="0.6"/>
<rect x="183.4" y="341.4" width="0.9" height="0.9" fill="#8090d8" opacity="0.6"/>
<rect x="174.2" y="339.7" width="0.9" height="0.9" fill="#b4b8e4" opacity="0.6"/>
<rect x="173.4" y="339.5" width="0.9" height="0.9" fill="#b4b8e4" opacity="0.6"/>
<rect x="166.0" y="344.1" width="0.9" height="0.9" fill="#b4b8e4" opacity="0.6"/>
<rect x="159.8" y="343.7" width="0.9" height="0.9" fill="#b4b8e4" opacity="0.6"/>
<rect x="180.0" y="342.1" width="0.9" height="0.9" fill="#5470cc" opacity="0.6"/>
<rect x="181.1" y="343.3" width="0.9" height="0.9" fill="#5470cc" opacity="0.6"/>
<rect x="185.8" y="342.2" width="0.9" height="0.9" fill="#8090d8" opacity="0.6"/>
<rect x="172.7" y="341.7" width="0.9" height="0.9" fill="#5470cc" opacity="0.6"/>
<rect x="169.5" y="342.5" width="0.9" height="0.9" fill="#5470cc" opacity="0.6"/>
<rect x="171.1" y="344.0" width="0.9" height="0.9" fill="#8090d8" opacity="0.6"/>
<rect x="162.4" y="341.0" width="0.9" height="0.9" fill="#b4b8e4" opacity="0.6"/>
<rect x="169.8" y="339.6" width="0.9" height="0.9" fill="#b4b8e4" opacity="0.6"/>
<rect x="192.6" y="339.2" width="0.9" height="0.9" fill="#b4b8e4" opacity="0.6"/>
<rect x="175.1" y="341.8" width="0.9" height="0.9" fill="#5470cc" opacity="0.6"/>
<rect x="190.6" y="339.8" width="0.9" height="0.9" fill="#b4b8e4" opacity="0.6"/>
<rect x="186.0" y="341.5" width="0.9" height="0.9" fill="#8090d8" opacity="0.6"/>
<rect x="176.2" y="341.6" width="0.9" height="0.9" fill="#5470cc" opacity="0.6"/>
<rect x="182.5" y="341.0" width="0.9" height="0.9" fill="#8090d8" opacity="0.6"/>
<rect x="176.8" y="343.0" width="0.9" height="0.9" fill="#5470cc" opacity="0.6"/>
<rect x="192.1" y="339.2" width="0.9" height="0.9" fill="#b4b8e4" opacity="0.6"/>
<rect x="189.6" y="343.9" width="0.9" height="0.9" fill="#b4b8e4" opacity="0.6"/>
<rect x="166.5" y="345.9" width="0.9" height="0.9" fill="#8090d8" opacity="0.6"/>
<rect x="162.4" y="338.6" width="0.9" height="0.9" fill="#b4b8e4" opacity="0.6"/>
<rect x="168.8" y="344.0" width="0.9" height="0.9" fill="#5470cc" opacity="0.6"/>
<rect x="169.6" y="343.8" width="0.9" height="0.9" fill="#5470cc" opacity="0.6"/>
<rect x="166.7" y="341.4" width="0.9" height="0.9" fill="#5470cc" opacity="0.6"/>
<rect x="163.0" y="342.3" width="0.9" height="0.9" fill="#5470cc" opacity="0.6"/>
<rect x="165.3" y="344.8" width="0.9" height="0.9" fill="#8090d8" opacity="0.6"/>
<rect x="171.3" y="340.0" width="0.9" height="0.9" fill="#8090d8" opacity="0.6"/>
<rect x="171.9" y="342.7" width="0.9" height="0.9" fill="#5470cc" opacity="0.6"/>
<rect x="174.4" y="346.1" width="0.9" height="0.9" fill="#b4b8e4" opacity="0.6"/>
<rect x="171.0" y="338.8" width="0.9" height="0.9" fill="#b4b8e4" opacity="0.6"/>
<rect x="171.6" y="339.3" width="0.9" height="0.9" fill="#b4b8e4" opacity="0.6"/>
<rect x="177.2" y="341.3" width="0.9" height="0.9" fill="#b4b8e4" opacity="0.6"/>
<rect x="166.6" y="346.8" width="0.9" height="0.9" fill="#b4b8e4" opacity="0.6"/>
<rect x="157.0" y="342.9" width="0.9" height="0.9" fill="#b4b8e4" opacity="0.6"/>
<rect x="161.2" y="341.6" width="0.9" height="0.9" fill="#8090d8" opacity="0.6"/>
<rect x="162.9" y="344.3" width="0.9" height="0.9" fill="#8090d8" opacity="0.6"/>
<rect x="165.9" y="343.6" width="0.9" height="0.9" fill="#5470cc" opacity="0.6"/>
<rect x="171.6" y="339.0" width="0.9" height="0.9" fill="#b4b8e4" opacity="0.6"/>
<rect x="176.2" y="342.2" width="0.9" height="0.9" fill="#8090d8" opacity="0.6"/>
<rect x="157.7" y="341.3" width="0.9" height="0.9" fill="#b4b8e4" opacity="0.6"/>
<rect x="173.0" y="345.0" width="0.9" height="0.9" fill="#8090d8" opacity="0.6"/>
<rect x="163.5" y="343.0" width="0.9" height="0.9" fill="#5470cc" opacity="0.6"/>
<rect x="169.2" y="345.1" width="0.9" height="0.9" fill="#8090d8" opacity="0.6"/>
<rect x="166.9" y="345.0" width="0.9" height="0.9" fill="#8090d8" opacity="0.6"/>
<rect x="162.3" y="341.2" width="0.9" height="0.9" fill="#8090d8" opacity="0.6"/>
<rect x="171.8" y="344.4" width="0.9" height="0.9" fill="#8090d8" opacity="0.6"/>
<rect x="167.5" y="344.2" width="0.9" height="0.9" fill="#5470cc" opacity="0.6"/>
<rect x="169.0" y="344.5" width="0.9" height="0.9" fill="#5470cc" opacity="0.6"/>
<rect x="174.9" y="344.0" width="0.9" height="0.9" fill="#8090d8" opacity="0.6"/>
<rect x="172.8" y="341.9" width="0.9" height="0.9" fill="#5470cc" opacity="0.6"/>
<rect x="164.3" y="337.5" width="0.9" height="0.9" fill="#b4b8e4" opacity="0.6"/>
<rect x="170.2" y="342.9" width="0.9" height="0.9" fill="#5470cc" opacity="0.6"/>
<rect x="171.0" y="338.6" width="0.9" height="0.9" fill="#b4b8e4" opacity="0.6"/>
<rect x="164.8" y="341.6" width="0.9" height="0.9" fill="#5470cc" opacity="0.6"/>
<rect x="156.7" y="344.8" width="0.9" height="0.9" fill="#b4b8e4" opacity="0.6"/>
<rect x="175.2" y="339.9" width="0.9" height="0.9" fill="#b4b8e4" opacity="0.6"/>
<rect x="170.5" y="346.7" width="0.9" height="0.9" fill="#b4b8e4" opacity="0.6"/>
<rect x="160.3" y="345.0" width="0.9" height="0.9" fill="#b4b8e4" opacity="0.6"/>
<rect x="177.5" y="347.0" width="0.9" height="0.9" fill="#b4b8e4" opacity="0.6"/>
<rect x="159.4" y="340.4" width="0.9" height="0.9" fill="#b4b8e4" opacity="0.6"/>
<rect x="169.0" y="345.5" width="0.9" height="0.9" fill="#8090d8" opacity="0.6"/>
<rect x="160.0" y="341.1" width="0.9" height="0.9" fill="#8090d8" opacity="0.6"/>
<rect x="160.9" y="345.3" width="0.9" height="0.9" fill="#b4b8e4" opacity="0.6"/>
<rect x="164.3" y="344.1" width="0.9" height="0.9" fill="#5470cc" opacity="0.6"/>
<rect x="171.7" y="345.4" width="0.9" height="0.9" fill="#8090d8" opacity="0.6"/>
<rect x="170.3" y="343.6" width="0.9" height="0.9" fill="#5470cc" opacity="0.6"/>
<rect x="174.9" y="343.9" width="0.9" height="0.9" fill="#8090d8" opacity="0.6"/>
<rect x="160.0" y="341.6" width="0.9" height="0.9" fill="#8090d8" opacity="0.6"/>
<rect x="173.3" y="343.1" width="0.9" height="0.9" fill="#8090d8" opacity="0.6"/>
<rect x="165.6" y="343.4" width="0.9" height="0.9" fill="#5470cc" opacity="0.6"/>
<rect x="188.1" y="342.7" width="0.9" height="0.9" fill="#b4b8e4" opacity="0.6"/>
<rect x="170.7" y="343.8" width="0.9" height="0.9" fill="#5470cc" opacity="0.6"/>
<rect x="166.1" y="345.5" width="0.9" height="0.9" fill="#8090d8" opacity="0.6"/>
<rect x="173.0" y="343.7" width="0.9" height="0.9" fill="#8090d8" opacity="0.6"/>
<rect x="159.4" y="345.7" width="0.9" height="0.9" fill="#b4b8e4" opacity="0.6"/>
<rect x="172.5" y="342.6" width="0.9" height="0.9" fill="#5470cc" opacity="0.6"/>
<rect x="151.2" y="342.7" width="0.9" height="0.9" fill="#b4b8e4" opacity="0.6"/>
<rect x="160.3" y="342.3" width="0.9" height="0.9" fill="#8090d8" opacity="0.6"/>
<rect x="164.6" y="340.9" width="0.9" height="0.9" fill="#5470cc" opacity="0.6"/>
<rect x="174.0" y="343.1" width="0.9" height="0.9" fill="#8090d8" opacity="0.6"/>
<rect x="175.4" y="340.6" width="0.9" height="0.9" fill="#b4b8e4" opacity="0.6"/>
<rect x="166.6" y="345.9" width="0.9" height="0.9" fill="#8090d8" opacity="0.6"/>
<rect x="169.8" y="341.2" width="0.9" height="0.9" fill="#5470cc" opacity="0.6"/>
<rect x="162.3" y="341.5" width="0.9" height="0.9" fill="#5470cc" opacity="0.6"/>
<rect x="167.2" y="344.4" width="0.9" height="0.9" fill="#5470cc" opacity="0.6"/>
<rect x="168.6" y="344.5" width="0.9" height="0.9" fill="#5470cc" opacity="0.6"/>
<rect x="172.9" y="343.1" width="0.9" height="0.9" fill="#8090d8" opacity="0.6"/>
<rect x="175.7" y="344.5" width="0.9" height="0.9" fill="#b4b8e4" opacity="0.6"/>
<rect x="166.6" y="342.4" width="0.9" height="0.9" fill="#5470cc" opacity="0.6"/>
<rect x="199.5" y="340.6" width="0.9" height="0.9" fill="#b4b8e4" opacity="0.6"/>
<rect x="191.2" y="342.1" width="0.9" height="0.9" fill="#5470cc" opacity="0.6"/>
<rect x="185.8" y="341.5" width="0.9" height="0.9" fill="#8090d8" opacity="0.6"/>
<rect x="187.4" y="342.4" width="0.9" height="0.9" fill="#5470cc" opacity="0.6"/>
<rect x="191.5" y="344.4" width="0.9" height="0.9" fill="#8090d8" opacity="0.6"/>
<rect x="190.6" y="344.5" width="0.9" height="0.9" fill="#8090d8" opacity="0.6"/>
<rect x="191.6" y="342.7" width="0.9" height="0.9" fill="#5470cc" opacity="0.6"/>
<rect x="188.6" y="340.7" width="0.9" height="0.9" fill="#8090d8" opacity="0.6"/>
<rect x="182.4" y="342.3" width="0.9" height="0.9" fill="#b4b8e4" opacity="0.6"/>
<rect x="188.8" y="343.0" width="0.9" height="0.9" fill="#5470cc" opacity="0.6"/>
<rect x="191.0" y="340.2" width="0.9" height="0.9" fill="#8090d8" opacity="0.6"/>
<rect x="186.3" y="340.5" width="0.9" height="0.9" fill="#8090d8" opacity="0.6"/>
<rect x="194.0" y="342.2" width="0.9" height="0.9" fill="#5470cc" opacity="0.6"/>
<rect x="190.0" y="340.8" width="0.9" height="0.9" fill="#5470cc" opacity="0.6"/>
<rect x="183.8" y="341.4" width="0.9" height="0.9" fill="#8090d8" opacity="0.6"/>
<rect x="189.0" y="343.3" width="0.9" height="0.9" fill="#5470cc" opacity="0.6"/>
<rect x="182.7" y="343.0" width="0.9" height="0.9" fill="#b4b8e4" opacity="0.6"/>
<rect x="185.6" y="341.5" width="0.9" height="0.9" fill="#8090d8" opacity="0.6"/>
<rect x="188.0" y="341.7" width="0.9" height="0.9" fill="#5470cc" opacity="0.6"/>
<rect x="191.5" y="344.0" width="0.9" height="0.9" fill="#5470cc" opacity="0.6"/>
<rect x="190.9" y="341.5" width="0.9" height="0.9" fill="#5470cc" opacity="0.6"/>
<rect x="191.3" y="343.1" width="0.9" height="0.9" fill="#5470cc" opacity="0.6"/>
<rect x="193.3" y="342.9" width="0.9" height="0.9" fill="#5470cc" opacity="0.6"/>
<rect x="182.3" y="341.1" width="0.9" height="0.9" fill="#b4b8e4" opacity="0.6"/>
<rect x="187.6" y="344.1" width="0.9" height="0.9" fill="#5470cc" opacity="0.6"/>
<rect x="188.8" y="344.0" width="0.9" height="0.9" fill="#5470cc" opacity="0.6"/>
<rect x="190.7" y="340.3" width="0.9" height="0.9" fill="#8090d8" opacity="0.6"/>
<rect x="189.6" y="343.4" width="0.9" height="0.9" fill="#5470cc" opacity="0.6"/>
<rect x="191.2" y="339.8" width="0.9" height="0.9" fill="#8090d8" opacity="0.6"/>
<rect x="191.3" y="341.4" width="0.9" height="0.9" fill="#5470cc" opacity="0.6"/>
<rect x="180.1" y="341.4" width="0.9" height="0.9" fill="#b4b8e4" opacity="0.6"/>
<rect x="180.7" y="340.2" width="0.9" height="0.9" fill="#b4b8e4" opacity="0.6"/>
<rect x="195.8" y="346.8" width="0.9" height="0.9" fill="#b4b8e4" opacity="0.6"/>
<rect x="194.1" y="343.2" width="0.9" height="0.9" fill="#8090d8" opacity="0.6"/>
<rect x="197.9" y="343.0" width="0.9" height="0.9" fill="#b4b8e4" opacity="0.6"/>
<rect x="185.1" y="338.1" width="0.9" height="0.9" fill="#b4b8e4" opacity="0.6"/>
<rect x="193.5" y="338.4" width="0.9" height="0.9" fill="#b4b8e4" opacity="0.6"/>
<rect x="176.7" y="341.3" width="0.9" height="0.9" fill="#b4b8e4" opacity="0.6"/>
<rect x="189.7" y="340.9" width="0.9" height="0.9" fill="#5470cc" opacity="0.6"/>
<rect x="194.1" y="342.3" width="0.9" height="0.9" fill="#5470cc" opacity="0.6"/>
<rect x="190.4" y="343.2" width="0.9" height="0.9" fill="#5470cc" opacity="0.6"/>
<rect x="186.8" y="342.8" width="0.9" height="0.9" fill="#5470cc" opacity="0.6"/>
<rect x="199.8" y="340.8" width="0.9" height="0.9" fill="#b4b8e4" opacity="0.6"/>
<rect x="190.2" y="343.4" width="0.9" height="0.9" fill="#5470cc" opacity="0.6"/>
<rect x="187.1" y="342.4" width="0.9" height="0.9" fill="#5470cc" opacity="0.6"/>
<g filter="url(#fb)">
<ellipse cx="52.5" cy="343.2" rx="9.75" ry="3.9000000000000004" fill="#9aa8e4" opacity="0.45"/>
<ellipse cx="52.5" cy="343.2" rx="7.5" ry="3.0" fill="#5a78d4" opacity="0.6"/>
<ellipse cx="52.5" cy="343.2" rx="5.3999999999999995" ry="2.25" fill="#58b8b0" opacity="0.85"/>
<ellipse cx="52.5" cy="343.2" rx="3.75" ry="1.6500000000000001" fill="#9ccc58"/>
<ellipse cx="52.5" cy="343.2" rx="2.475" ry="1.2000000000000002" fill="#dcc828"/>
<ellipse cx="52.5" cy="343.2" rx="1.2750000000000001" ry="0.75" fill="#ec7018"/>
</g>
<g filter="url(#fb)">
<ellipse cx="83.5" cy="342.8" rx="6.760000000000001" ry="2.8600000000000003" fill="#9aa8e4" opacity="0.45"/>
<ellipse cx="83.5" cy="342.8" rx="5.2" ry="2.2" fill="#5a78d4" opacity="0.6"/>
<ellipse cx="83.5" cy="342.8" rx="3.7439999999999998" ry="1.6500000000000001" fill="#58b8b0" opacity="0.85"/>
<ellipse cx="83.5" cy="342.8" rx="2.6" ry="1.2100000000000002" fill="#9ccc58"/>
<ellipse cx="83.5" cy="342.8" rx="1.7160000000000002" ry="0.8800000000000001" fill="#dcc828"/>
<ellipse cx="83.5" cy="342.8" rx="0.8840000000000001" ry="0.55" fill="#ec7018"/>
</g>
<g filter="url(#fb)">
<ellipse cx="108.5" cy="342.9" rx="10.4" ry="3.9000000000000004" fill="#9aa8e4" opacity="0.45"/>
<ellipse cx="108.5" cy="342.9" rx="8" ry="3.0" fill="#5a78d4" opacity="0.6"/>
<ellipse cx="108.5" cy="342.9" rx="5.76" ry="2.25" fill="#58b8b0" opacity="0.85"/>
<ellipse cx="108.5" cy="342.9" rx="4.0" ry="1.6500000000000001" fill="#9ccc58"/>
<ellipse cx="108.5" cy="342.9" rx="2.64" ry="1.2000000000000002" fill="#dcc828"/>
<ellipse cx="108.5" cy="342.9" rx="1.36" ry="0.75" fill="#ec7018"/>
</g>
<g filter="url(#fb)">
<ellipse cx="139.5" cy="343" rx="7.15" ry="2.6" fill="#9aa8e4" opacity="0.45"/>
<ellipse cx="139.5" cy="343" rx="5.5" ry="2.0" fill="#5a78d4" opacity="0.6"/>
<ellipse cx="139.5" cy="343" rx="3.96" ry="1.5" fill="#58b8b0" opacity="0.85"/>
<ellipse cx="139.5" cy="343" rx="2.75" ry="1.1" fill="#9ccc58"/>
<ellipse cx="139.5" cy="343" rx="1.8150000000000002" ry="0.8" fill="#dcc828"/>
</g>
<ellipse cx="124" cy="342.9" rx="11" ry="1.3" fill="#4868c8" opacity="0.55" filter="url(#fb)"/>
<g filter="url(#fb)">
<ellipse cx="165.5" cy="343.3" rx="9.75" ry="3.9000000000000004" fill="#9aa8e4" opacity="0.45"/>
<ellipse cx="165.5" cy="343.3" rx="7.5" ry="3.0" fill="#5a78d4" opacity="0.6"/>
<ellipse cx="165.5" cy="343.3" rx="5.3999999999999995" ry="2.25" fill="#58b8b0" opacity="0.85"/>
<ellipse cx="165.5" cy="343.3" rx="3.75" ry="1.6500000000000001" fill="#9ccc58"/>
<ellipse cx="165.5" cy="343.3" rx="2.475" ry="1.2000000000000002" fill="#dcc828"/>
<ellipse cx="165.5" cy="343.3" rx="1.2750000000000001" ry="0.75" fill="#ec7018"/>
</g>
<g filter="url(#fb)">
<ellipse cx="190.2" cy="343.3" rx="7.15" ry="3.25" fill="#9aa8e4" opacity="0.45"/>
<ellipse cx="190.2" cy="343.3" rx="5.5" ry="2.5" fill="#5a78d4" opacity="0.6"/>
<ellipse cx="190.2" cy="343.3" rx="3.96" ry="1.875" fill="#58b8b0" opacity="0.85"/>
<ellipse cx="190.2" cy="343.3" rx="2.75" ry="1.375" fill="#9ccc58"/>
<ellipse cx="190.2" cy="343.3" rx="1.8150000000000002" ry="1.0" fill="#dcc828"/>
<ellipse cx="190.2" cy="343.3" rx="0.935" ry="0.625" fill="#ec7018"/>
</g>
<ellipse cx="83.3" cy="343.1" rx="12.7" ry="6.6" fill="none" stroke="#cba6d2" stroke-width="0.75"/>
<ellipse cx="138.5" cy="343.1" rx="12.3" ry="6.6" fill="none" stroke="#cba6d2" stroke-width="0.75"/>
<ellipse cx="194.5" cy="343.1" rx="12.4" ry="6.6" fill="none" stroke="#cba6d2" stroke-width="0.75"/>
<rect x="74" y="373" width="17.099999999999994" height="24.6" fill="none" stroke="#e2c2e2" stroke-width="0.8"/>
<rect x="129.4" y="373" width="17.099999999999994" height="24.6" fill="none" stroke="#e2c2e2" stroke-width="0.8"/>
<rect x="185" y="373" width="17.30000000000001" height="24.6" fill="none" stroke="#e2c2e2" stroke-width="0.8"/>
<rect x="83.8" y="392.8" width="0.9" height="0.9" fill="#5470cc" opacity="0.55"/>
<rect x="79.5" y="399.2" width="0.9" height="0.9" fill="#8090d8" opacity="0.55"/>
<rect x="83.4" y="395.2" width="0.9" height="0.9" fill="#5470cc" opacity="0.55"/>
<rect x="83.0" y="404.3" width="0.9" height="0.9" fill="#b4b8e4" opacity="0.55"/>
<rect x="85.1" y="401.7" width="0.9" height="0.9" fill="#b4b8e4" opacity="0.55"/>
<rect x="81.8" y="389.3" width="0.9" height="0.9" fill="#5470cc" opacity="0.55"/>
<rect x="79.8" y="390.9" width="0.9" height="0.9" fill="#8090d8" opacity="0.55"/>
<rect x="75.1" y="404.8" width="0.9" height="0.9" fill="#b4b8e4" opacity="0.55"/>
<rect x="83.0" y="393.3" width="0.9" height="0.9" fill="#5470cc" opacity="0.55"/>
<rect x="85.0" y="389.9" width="0.9" height="0.9" fill="#8090d8" opacity="0.55"/>
<rect x="83.3" y="398.5" width="0.9" height="0.9" fill="#5470cc" opacity="0.55"/>
<rect x="78.3" y="405.6" width="0.9" height="0.9" fill="#b4b8e4" opacity="0.55"/>
<rect x="83.0" y="397.3" width="0.9" height="0.9" fill="#5470cc" opacity="0.55"/>
<rect x="79.7" y="388.1" width="0.9" height="0.9" fill="#8090d8" opacity="0.55"/>
<rect x="87.3" y="388.7" width="0.9" height="0.9" fill="#b4b8e4" opacity="0.55"/>
<rect x="81.5" y="396.3" width="0.9" height="0.9" fill="#5470cc" opacity="0.55"/>
<rect x="86.7" y="394.7" width="0.9" height="0.9" fill="#b4b8e4" opacity="0.55"/>
<rect x="85.1" y="385.1" width="0.9" height="0.9" fill="#8090d8" opacity="0.55"/>
<rect x="83.5" y="404.8" width="0.9" height="0.9" fill="#b4b8e4" opacity="0.55"/>
<rect x="82.3" y="388.0" width="0.9" height="0.9" fill="#5470cc" opacity="0.55"/>
<rect x="81.4" y="388.7" width="0.9" height="0.9" fill="#5470cc" opacity="0.55"/>
<rect x="84.8" y="394.2" width="0.9" height="0.9" fill="#5470cc" opacity="0.55"/>
<rect x="81.2" y="398.6" width="0.9" height="0.9" fill="#8090d8" opacity="0.55"/>
<rect x="79.6" y="381.9" width="0.9" height="0.9" fill="#b4b8e4" opacity="0.55"/>
<rect x="89.5" y="387.9" width="0.9" height="0.9" fill="#b4b8e4" opacity="0.55"/>
<rect x="87.1" y="392.0" width="0.9" height="0.9" fill="#b4b8e4" opacity="0.55"/>
<rect x="82.0" y="396.6" width="0.9" height="0.9" fill="#5470cc" opacity="0.55"/>
<rect x="80.2" y="386.4" width="0.9" height="0.9" fill="#8090d8" opacity="0.55"/>
<rect x="82.0" y="389.8" width="0.9" height="0.9" fill="#5470cc" opacity="0.55"/>
<rect x="79.3" y="386.1" width="0.9" height="0.9" fill="#8090d8" opacity="0.55"/>
<rect x="84.7" y="396.5" width="0.9" height="0.9" fill="#8090d8" opacity="0.55"/>
<rect x="85.7" y="387.1" width="0.9" height="0.9" fill="#8090d8" opacity="0.55"/>
<rect x="84.3" y="392.3" width="0.9" height="0.9" fill="#5470cc" opacity="0.55"/>
<rect x="78.1" y="396.1" width="0.9" height="0.9" fill="#b4b8e4" opacity="0.55"/>
<rect x="78.2" y="396.8" width="0.9" height="0.9" fill="#b4b8e4" opacity="0.55"/>
<rect x="81.3" y="391.2" width="0.9" height="0.9" fill="#5470cc" opacity="0.55"/>
<rect x="88.6" y="404.2" width="0.9" height="0.9" fill="#b4b8e4" opacity="0.55"/>
<rect x="83.8" y="395.7" width="0.9" height="0.9" fill="#5470cc" opacity="0.55"/>
<rect x="80.5" y="402.1" width="0.9" height="0.9" fill="#8090d8" opacity="0.55"/>
<rect x="84.3" y="386.2" width="0.9" height="0.9" fill="#8090d8" opacity="0.55"/>
<rect x="78.0" y="392.7" width="0.9" height="0.9" fill="#b4b8e4" opacity="0.55"/>
<rect x="82.1" y="399.2" width="0.9" height="0.9" fill="#5470cc" opacity="0.55"/>
<rect x="79.7" y="386.1" width="0.9" height="0.9" fill="#8090d8" opacity="0.55"/>
<rect x="83.8" y="393.4" width="0.9" height="0.9" fill="#5470cc" opacity="0.55"/>
<rect x="85.3" y="401.1" width="0.9" height="0.9" fill="#b4b8e4" opacity="0.55"/>
<rect x="82.8" y="387.2" width="0.9" height="0.9" fill="#5470cc" opacity="0.55"/>
<rect x="82.3" y="393.4" width="0.9" height="0.9" fill="#5470cc" opacity="0.55"/>
<rect x="81.1" y="396.6" width="0.9" height="0.9" fill="#5470cc" opacity="0.55"/>
<rect x="82.9" y="394.5" width="0.9" height="0.9" fill="#5470cc" opacity="0.55"/>
<rect x="86.2" y="402.4" width="0.9" height="0.9" fill="#b4b8e4" opacity="0.55"/>
<rect x="86.0" y="395.5" width="0.9" height="0.9" fill="#8090d8" opacity="0.55"/>
<rect x="83.0" y="397.0" width="0.9" height="0.9" fill="#5470cc" opacity="0.55"/>
<rect x="83.5" y="387.2" width="0.9" height="0.9" fill="#5470cc" opacity="0.55"/>
<rect x="83.7" y="399.6" width="0.9" height="0.9" fill="#8090d8" opacity="0.55"/>
<rect x="81.5" y="384.5" width="0.9" height="0.9" fill="#8090d8" opacity="0.55"/>
<rect x="84.2" y="387.1" width="0.9" height="0.9" fill="#8090d8" opacity="0.55"/>
<rect x="78.5" y="390.9" width="0.9" height="0.9" fill="#b4b8e4" opacity="0.55"/>
<rect x="78.5" y="395.2" width="0.9" height="0.9" fill="#b4b8e4" opacity="0.55"/>
<rect x="81.2" y="393.3" width="0.9" height="0.9" fill="#5470cc" opacity="0.55"/>
<rect x="85.8" y="401.1" width="0.9" height="0.9" fill="#b4b8e4" opacity="0.55"/>
<rect x="82.3" y="375.8" width="0.9" height="0.9" fill="#b4b8e4" opacity="0.55"/>
<rect x="81.3" y="384.0" width="0.9" height="0.9" fill="#8090d8" opacity="0.55"/>
<rect x="85.1" y="404.4" width="0.9" height="0.9" fill="#b4b8e4" opacity="0.55"/>
<rect x="84.6" y="397.5" width="0.9" height="0.9" fill="#8090d8" opacity="0.55"/>
<rect x="84.2" y="397.8" width="0.9" height="0.9" fill="#5470cc" opacity="0.55"/>
<rect x="81.6" y="399.4" width="0.9" height="0.9" fill="#8090d8" opacity="0.55"/>
<rect x="81.8" y="384.1" width="0.9" height="0.9" fill="#8090d8" opacity="0.55"/>
<rect x="82.8" y="404.7" width="0.9" height="0.9" fill="#b4b8e4" opacity="0.55"/>
<rect x="82.1" y="379.5" width="0.9" height="0.9" fill="#b4b8e4" opacity="0.55"/>
<rect x="86.1" y="394.5" width="0.9" height="0.9" fill="#8090d8" opacity="0.55"/>
<rect x="84.1" y="389.2" width="0.9" height="0.9" fill="#5470cc" opacity="0.55"/>
<rect x="84.0" y="404.8" width="0.9" height="0.9" fill="#b4b8e4" opacity="0.55"/>
<rect x="80.8" y="397.9" width="0.9" height="0.9" fill="#8090d8" opacity="0.55"/>
<rect x="83.6" y="386.3" width="0.9" height="0.9" fill="#5470cc" opacity="0.55"/>
<rect x="83.1" y="397.2" width="0.9" height="0.9" fill="#5470cc" opacity="0.55"/>
<rect x="80.3" y="401.5" width="0.9" height="0.9" fill="#8090d8" opacity="0.55"/>
<rect x="79.5" y="401.4" width="0.9" height="0.9" fill="#b4b8e4" opacity="0.55"/>
<rect x="84.4" y="394.7" width="0.9" height="0.9" fill="#5470cc" opacity="0.55"/>
<rect x="80.4" y="386.9" width="0.9" height="0.9" fill="#8090d8" opacity="0.55"/>
<rect x="76.5" y="392.6" width="0.9" height="0.9" fill="#b4b8e4" opacity="0.55"/>
<rect x="82.3" y="396.9" width="0.9" height="0.9" fill="#5470cc" opacity="0.55"/>
<rect x="85.5" y="394.2" width="0.9" height="0.9" fill="#8090d8" opacity="0.55"/>
<rect x="81.7" y="400.1" width="0.9" height="0.9" fill="#8090d8" opacity="0.55"/>
<rect x="82.6" y="392.6" width="0.9" height="0.9" fill="#5470cc" opacity="0.55"/>
<rect x="79.4" y="400.6" width="0.9" height="0.9" fill="#b4b8e4" opacity="0.55"/>
<rect x="80.2" y="389.1" width="0.9" height="0.9" fill="#8090d8" opacity="0.55"/>
<rect x="82.9" y="387.5" width="0.9" height="0.9" fill="#5470cc" opacity="0.55"/>
<rect x="78.6" y="384.2" width="0.9" height="0.9" fill="#b4b8e4" opacity="0.55"/>
<rect x="80.3" y="391.0" width="0.9" height="0.9" fill="#5470cc" opacity="0.55"/>
<rect x="85.3" y="397.7" width="0.9" height="0.9" fill="#8090d8" opacity="0.55"/>
<rect x="83.5" y="398.8" width="0.9" height="0.9" fill="#5470cc" opacity="0.55"/>
<rect x="76.6" y="388.2" width="0.9" height="0.9" fill="#b4b8e4" opacity="0.55"/>
<rect x="81.1" y="385.0" width="0.9" height="0.9" fill="#8090d8" opacity="0.55"/>
<rect x="84.0" y="387.9" width="0.9" height="0.9" fill="#5470cc" opacity="0.55"/>
<rect x="79.6" y="399.4" width="0.9" height="0.9" fill="#8090d8" opacity="0.55"/>
<rect x="80.8" y="390.9" width="0.9" height="0.9" fill="#5470cc" opacity="0.55"/>
<rect x="78.5" y="399.5" width="0.9" height="0.9" fill="#b4b8e4" opacity="0.55"/>
<rect x="82.7" y="403.5" width="0.9" height="0.9" fill="#8090d8" opacity="0.55"/>
<rect x="88.7" y="397.7" width="0.9" height="0.9" fill="#b4b8e4" opacity="0.55"/>
<rect x="81.6" y="386.9" width="0.9" height="0.9" fill="#5470cc" opacity="0.55"/>
<rect x="87.2" y="391.2" width="0.9" height="0.9" fill="#b4b8e4" opacity="0.55"/>
<rect x="84.4" y="394.5" width="0.9" height="0.9" fill="#5470cc" opacity="0.55"/>
<rect x="73.3" y="393.8" width="0.9" height="0.9" fill="#b4b8e4" opacity="0.55"/>
<rect x="83.1" y="394.2" width="0.9" height="0.9" fill="#5470cc" opacity="0.55"/>
<rect x="82.2" y="394.5" width="0.9" height="0.9" fill="#5470cc" opacity="0.55"/>
<rect x="79.8" y="397.3" width="0.9" height="0.9" fill="#8090d8" opacity="0.55"/>
<rect x="81.2" y="394.0" width="0.9" height="0.9" fill="#5470cc" opacity="0.55"/>
<rect x="87.2" y="394.4" width="0.9" height="0.9" fill="#b4b8e4" opacity="0.55"/>
<rect x="79.8" y="395.5" width="0.9" height="0.9" fill="#8090d8" opacity="0.55"/>
<rect x="78.6" y="394.0" width="0.9" height="0.9" fill="#8090d8" opacity="0.55"/>
<rect x="86.5" y="384.9" width="0.9" height="0.9" fill="#b4b8e4" opacity="0.55"/>
<rect x="82.2" y="386.2" width="0.9" height="0.9" fill="#5470cc" opacity="0.55"/>
<rect x="83.1" y="395.2" width="0.9" height="0.9" fill="#5470cc" opacity="0.55"/>
<rect x="83.1" y="390.7" width="0.9" height="0.9" fill="#5470cc" opacity="0.55"/>
<rect x="77.4" y="386.1" width="0.9" height="0.9" fill="#b4b8e4" opacity="0.55"/>
<rect x="81.4" y="398.8" width="0.9" height="0.9" fill="#5470cc" opacity="0.55"/>
<rect x="77.1" y="400.8" width="0.9" height="0.9" fill="#b4b8e4" opacity="0.55"/>
<rect x="80.6" y="380.3" width="0.9" height="0.9" fill="#b4b8e4" opacity="0.55"/>
<rect x="86.6" y="395.3" width="0.9" height="0.9" fill="#b4b8e4" opacity="0.55"/>
<rect x="80.0" y="394.7" width="0.9" height="0.9" fill="#8090d8" opacity="0.55"/>
<rect x="84.3" y="382.1" width="0.9" height="0.9" fill="#b4b8e4" opacity="0.55"/>
<rect x="86.2" y="386.4" width="0.9" height="0.9" fill="#b4b8e4" opacity="0.55"/>
<rect x="84.9" y="388.6" width="0.9" height="0.9" fill="#8090d8" opacity="0.55"/>
<rect x="78.3" y="388.3" width="0.9" height="0.9" fill="#b4b8e4" opacity="0.55"/>
<rect x="81.2" y="393.6" width="0.9" height="0.9" fill="#5470cc" opacity="0.55"/>
<rect x="78.0" y="385.3" width="0.9" height="0.9" fill="#b4b8e4" opacity="0.55"/>
<rect x="83.5" y="389.9" width="0.9" height="0.9" fill="#5470cc" opacity="0.55"/>
<rect x="81.2" y="396.0" width="0.9" height="0.9" fill="#5470cc" opacity="0.55"/>
<rect x="80.6" y="395.4" width="0.9" height="0.9" fill="#5470cc" opacity="0.55"/>
<rect x="82.2" y="400.0" width="0.9" height="0.9" fill="#8090d8" opacity="0.55"/>
<rect x="81.4" y="386.9" width="0.9" height="0.9" fill="#5470cc" opacity="0.55"/>
<rect x="83.3" y="397.2" width="0.9" height="0.9" fill="#5470cc" opacity="0.55"/>
<rect x="84.7" y="402.8" width="0.9" height="0.9" fill="#b4b8e4" opacity="0.55"/>
<rect x="86.1" y="400.3" width="0.9" height="0.9" fill="#b4b8e4" opacity="0.55"/>
<rect x="82.1" y="404.7" width="0.9" height="0.9" fill="#b4b8e4" opacity="0.55"/>
<rect x="81.6" y="393.7" width="0.9" height="0.9" fill="#5470cc" opacity="0.55"/>
<rect x="86.4" y="399.6" width="0.9" height="0.9" fill="#b4b8e4" opacity="0.55"/>
<rect x="79.7" y="390.4" width="0.9" height="0.9" fill="#8090d8" opacity="0.55"/>
<rect x="80.2" y="401.1" width="0.9" height="0.9" fill="#8090d8" opacity="0.55"/>
<rect x="81.6" y="392.8" width="0.9" height="0.9" fill="#5470cc" opacity="0.55"/>
<rect x="80.7" y="389.0" width="0.9" height="0.9" fill="#5470cc" opacity="0.55"/>
<rect x="84.4" y="385.3" width="0.9" height="0.9" fill="#8090d8" opacity="0.55"/>
<rect x="82.7" y="389.0" width="0.9" height="0.9" fill="#5470cc" opacity="0.55"/>
<rect x="81.6" y="383.3" width="0.9" height="0.9" fill="#8090d8" opacity="0.55"/>
<rect x="85.7" y="380.8" width="0.9" height="0.9" fill="#b4b8e4" opacity="0.55"/>
<rect x="79.2" y="389.6" width="0.9" height="0.9" fill="#8090d8" opacity="0.55"/>
<rect x="82.8" y="387.1" width="0.9" height="0.9" fill="#5470cc" opacity="0.55"/>
<rect x="78.2" y="389.1" width="0.9" height="0.9" fill="#b4b8e4" opacity="0.55"/>
<rect x="79.9" y="387.7" width="0.9" height="0.9" fill="#8090d8" opacity="0.55"/>
<rect x="86.9" y="377.6" width="0.9" height="0.9" fill="#b4b8e4" opacity="0.55"/>
<rect x="82.5" y="395.3" width="0.9" height="0.9" fill="#5470cc" opacity="0.55"/>
<rect x="81.4" y="390.0" width="0.9" height="0.9" fill="#5470cc" opacity="0.55"/>
<rect x="85.4" y="391.0" width="0.9" height="0.9" fill="#8090d8" opacity="0.55"/>
<rect x="77.9" y="389.8" width="0.9" height="0.9" fill="#b4b8e4" opacity="0.55"/>
<rect x="83.5" y="389.7" width="0.9" height="0.9" fill="#5470cc" opacity="0.55"/>
<rect x="81.0" y="393.8" width="0.9" height="0.9" fill="#5470cc" opacity="0.55"/>
<rect x="81.2" y="393.5" width="0.9" height="0.9" fill="#5470cc" opacity="0.55"/>
<rect x="84.3" y="388.0" width="0.9" height="0.9" fill="#5470cc" opacity="0.55"/>
<rect x="78.3" y="402.1" width="0.9" height="0.9" fill="#b4b8e4" opacity="0.55"/>
<rect x="83.6" y="386.9" width="0.9" height="0.9" fill="#5470cc" opacity="0.55"/>
<rect x="78.7" y="392.6" width="0.9" height="0.9" fill="#8090d8" opacity="0.55"/>
<rect x="83.1" y="396.1" width="0.9" height="0.9" fill="#5470cc" opacity="0.55"/>
<rect x="83.5" y="389.3" width="0.9" height="0.9" fill="#5470cc" opacity="0.55"/>
<rect x="84.0" y="402.3" width="0.9" height="0.9" fill="#5470cc" opacity="0.6"/>
<rect x="78.7" y="406.0" width="0.9" height="0.9" fill="#b4b8e4" opacity="0.6"/>
<rect x="75.2" y="401.6" width="0.9" height="0.9" fill="#b4b8e4" opacity="0.6"/>
<rect x="85.4" y="403.1" width="0.9" height="0.9" fill="#8090d8" opacity="0.6"/>
<rect x="84.2" y="399.3" width="0.9" height="0.9" fill="#8090d8" opacity="0.6"/>
<rect x="89.3" y="400.0" width="0.9" height="0.9" fill="#b4b8e4" opacity="0.6"/>
<rect x="81.4" y="401.6" width="0.9" height="0.9" fill="#5470cc" opacity="0.6"/>
<rect x="81.6" y="400.4" width="0.9" height="0.9" fill="#5470cc" opacity="0.6"/>
<rect x="88.0" y="401.8" width="0.9" height="0.9" fill="#b4b8e4" opacity="0.6"/>
<rect x="85.7" y="398.1" width="0.9" height="0.9" fill="#b4b8e4" opacity="0.6"/>
<rect x="84.1" y="401.1" width="0.9" height="0.9" fill="#5470cc" opacity="0.6"/>
<rect x="83.3" y="402.1" width="0.9" height="0.9" fill="#5470cc" opacity="0.6"/>
<rect x="83.5" y="401.4" width="0.9" height="0.9" fill="#5470cc" opacity="0.6"/>
<rect x="82.0" y="401.9" width="0.9" height="0.9" fill="#5470cc" opacity="0.6"/>
<rect x="82.6" y="401.7" width="0.9" height="0.9" fill="#5470cc" opacity="0.6"/>
<rect x="80.1" y="402.6" width="0.9" height="0.9" fill="#5470cc" opacity="0.6"/>
<rect x="78.2" y="406.3" width="0.9" height="0.9" fill="#b4b8e4" opacity="0.6"/>
<rect x="85.2" y="405.1" width="0.9" height="0.9" fill="#b4b8e4" opacity="0.6"/>
<rect x="81.2" y="398.7" width="0.9" height="0.9" fill="#8090d8" opacity="0.6"/>
<rect x="75.5" y="399.8" width="0.9" height="0.9" fill="#b4b8e4" opacity="0.6"/>
<rect x="79.1" y="400.7" width="0.9" height="0.9" fill="#5470cc" opacity="0.6"/>
<rect x="80.1" y="403.0" width="0.9" height="0.9" fill="#5470cc" opacity="0.6"/>
<rect x="72.0" y="405.3" width="0.9" height="0.9" fill="#b4b8e4" opacity="0.6"/>
<rect x="80.2" y="401.9" width="0.9" height="0.9" fill="#5470cc" opacity="0.6"/>
<rect x="74.3" y="402.1" width="0.9" height="0.9" fill="#b4b8e4" opacity="0.6"/>
<rect x="75.7" y="402.7" width="0.9" height="0.9" fill="#8090d8" opacity="0.6"/>
<rect x="82.8" y="402.0" width="0.9" height="0.9" fill="#5470cc" opacity="0.6"/>
<rect x="80.9" y="401.0" width="0.9" height="0.9" fill="#5470cc" opacity="0.6"/>
<rect x="80.3" y="403.6" width="0.9" height="0.9" fill="#5470cc" opacity="0.6"/>
<rect x="81.9" y="402.1" width="0.9" height="0.9" fill="#5470cc" opacity="0.6"/>
<rect x="91.4" y="401.8" width="0.9" height="0.9" fill="#b4b8e4" opacity="0.6"/>
<rect x="77.8" y="396.5" width="0.9" height="0.9" fill="#b4b8e4" opacity="0.6"/>
<rect x="71.6" y="401.8" width="0.9" height="0.9" fill="#b4b8e4" opacity="0.6"/>
<rect x="85.2" y="399.2" width="0.9" height="0.9" fill="#8090d8" opacity="0.6"/>
<rect x="76.8" y="401.1" width="0.9" height="0.9" fill="#8090d8" opacity="0.6"/>
<rect x="82.1" y="403.7" width="0.9" height="0.9" fill="#5470cc" opacity="0.6"/>
<rect x="81.1" y="400.1" width="0.9" height="0.9" fill="#5470cc" opacity="0.6"/>
<rect x="84.4" y="399.4" width="0.9" height="0.9" fill="#8090d8" opacity="0.6"/>
<rect x="75.7" y="399.1" width="0.9" height="0.9" fill="#b4b8e4" opacity="0.6"/>
<rect x="80.2" y="400.6" width="0.9" height="0.9" fill="#5470cc" opacity="0.6"/>
<rect x="81.6" y="401.7" width="0.9" height="0.9" fill="#5470cc" opacity="0.6"/>
<rect x="91.2" y="402.5" width="0.9" height="0.9" fill="#b4b8e4" opacity="0.6"/>
<rect x="72.8" y="398.4" width="0.9" height="0.9" fill="#b4b8e4" opacity="0.6"/>
<rect x="82.2" y="399.7" width="0.9" height="0.9" fill="#5470cc" opacity="0.6"/>
<rect x="90.4" y="400.5" width="0.9" height="0.9" fill="#b4b8e4" opacity="0.6"/>
<rect x="79.9" y="401.8" width="0.9" height="0.9" fill="#5470cc" opacity="0.6"/>
<rect x="80.5" y="402.8" width="0.9" height="0.9" fill="#5470cc" opacity="0.6"/>
<rect x="80.4" y="402.2" width="0.9" height="0.9" fill="#5470cc" opacity="0.6"/>
<rect x="79.0" y="395.6" width="0.9" height="0.9" fill="#b4b8e4" opacity="0.6"/>
<rect x="83.2" y="405.3" width="0.9" height="0.9" fill="#b4b8e4" opacity="0.6"/>
<rect x="77.6" y="400.3" width="0.9" height="0.9" fill="#8090d8" opacity="0.6"/>
<rect x="84.8" y="400.4" width="0.9" height="0.9" fill="#5470cc" opacity="0.6"/>
<rect x="82.0" y="401.0" width="0.9" height="0.9" fill="#5470cc" opacity="0.6"/>
<rect x="84.0" y="401.2" width="0.9" height="0.9" fill="#5470cc" opacity="0.6"/>
<rect x="89.8" y="401.7" width="0.9" height="0.9" fill="#b4b8e4" opacity="0.6"/>
<rect x="80.5" y="398.3" width="0.9" height="0.9" fill="#8090d8" opacity="0.6"/>
<rect x="81.9" y="399.4" width="0.9" height="0.9" fill="#5470cc" opacity="0.6"/>
<rect x="84.2" y="402.8" width="0.9" height="0.9" fill="#5470cc" opacity="0.6"/>
<rect x="92.4" y="399.8" width="0.9" height="0.9" fill="#b4b8e4" opacity="0.6"/>
<rect x="82.1" y="403.9" width="0.9" height="0.9" fill="#8090d8" opacity="0.6"/>
<rect x="73.3" y="403.0" width="0.9" height="0.9" fill="#b4b8e4" opacity="0.6"/>
<rect x="89.1" y="401.7" width="0.9" height="0.9" fill="#b4b8e4" opacity="0.6"/>
<rect x="81.4" y="404.3" width="0.9" height="0.9" fill="#8090d8" opacity="0.6"/>
<rect x="82.7" y="402.2" width="0.9" height="0.9" fill="#5470cc" opacity="0.6"/>
<rect x="85.1" y="399.8" width="0.9" height="0.9" fill="#8090d8" opacity="0.6"/>
<rect x="89.4" y="400.8" width="0.9" height="0.9" fill="#b4b8e4" opacity="0.6"/>
<rect x="81.6" y="400.7" width="0.9" height="0.9" fill="#5470cc" opacity="0.6"/>
<rect x="71.0" y="397.9" width="0.9" height="0.9" fill="#b4b8e4" opacity="0.6"/>
<rect x="80.1" y="401.5" width="0.9" height="0.9" fill="#5470cc" opacity="0.6"/>
<rect x="84.5" y="401.3" width="0.9" height="0.9" fill="#5470cc" opacity="0.6"/>
<rect x="78.9" y="404.7" width="0.9" height="0.9" fill="#b4b8e4" opacity="0.6"/>
<rect x="79.0" y="401.5" width="0.9" height="0.9" fill="#5470cc" opacity="0.6"/>
<rect x="87.1" y="401.3" width="0.9" height="0.9" fill="#8090d8" opacity="0.6"/>
<rect x="81.0" y="401.9" width="0.9" height="0.9" fill="#5470cc" opacity="0.6"/>
<rect x="74.9" y="401.3" width="0.9" height="0.9" fill="#b4b8e4" opacity="0.6"/>
<rect x="82.3" y="402.4" width="0.9" height="0.9" fill="#5470cc" opacity="0.6"/>
<rect x="80.1" y="396.7" width="0.9" height="0.9" fill="#b4b8e4" opacity="0.6"/>
<rect x="78.3" y="403.3" width="0.9" height="0.9" fill="#8090d8" opacity="0.6"/>
<rect x="78.4" y="399.5" width="0.9" height="0.9" fill="#8090d8" opacity="0.6"/>
<rect x="83.8" y="402.8" width="0.9" height="0.9" fill="#5470cc" opacity="0.6"/>
<rect x="82.3" y="403.0" width="0.9" height="0.9" fill="#5470cc" opacity="0.6"/>
<rect x="84.9" y="402.7" width="0.9" height="0.9" fill="#5470cc" opacity="0.6"/>
<rect x="83.0" y="405.7" width="0.9" height="0.9" fill="#b4b8e4" opacity="0.6"/>
<rect x="82.7" y="399.9" width="0.9" height="0.9" fill="#5470cc" opacity="0.6"/>
<rect x="84.5" y="403.9" width="0.9" height="0.9" fill="#8090d8" opacity="0.6"/>
<rect x="76.7" y="402.0" width="0.9" height="0.9" fill="#8090d8" opacity="0.6"/>
<rect x="85.1" y="403.4" width="0.9" height="0.9" fill="#8090d8" opacity="0.6"/>
<rect x="81.8" y="399.2" width="0.9" height="0.9" fill="#8090d8" opacity="0.6"/>
<rect x="81.3" y="406.5" width="0.9" height="0.9" fill="#b4b8e4" opacity="0.6"/>
<rect x="81.4" y="401.4" width="0.9" height="0.9" fill="#5470cc" opacity="0.6"/>
<rect x="79.4" y="402.0" width="0.9" height="0.9" fill="#5470cc" opacity="0.6"/>
<rect x="82.5" y="399.3" width="0.9" height="0.9" fill="#8090d8" opacity="0.6"/>
<rect x="90.0" y="404.3" width="0.9" height="0.9" fill="#b4b8e4" opacity="0.6"/>
<rect x="83.2" y="398.7" width="0.9" height="0.9" fill="#8090d8" opacity="0.6"/>
<rect x="80.1" y="401.2" width="0.9" height="0.9" fill="#5470cc" opacity="0.6"/>
<rect x="84.9" y="401.3" width="0.9" height="0.9" fill="#5470cc" opacity="0.6"/>
<rect x="77.0" y="401.2" width="0.9" height="0.9" fill="#8090d8" opacity="0.6"/>
<rect x="80.8" y="401.6" width="0.9" height="0.9" fill="#5470cc" opacity="0.6"/>
<rect x="85.2" y="400.0" width="0.9" height="0.9" fill="#8090d8" opacity="0.6"/>
<rect x="75.3" y="404.3" width="0.9" height="0.9" fill="#b4b8e4" opacity="0.6"/>
<rect x="85.6" y="398.9" width="0.9" height="0.9" fill="#b4b8e4" opacity="0.6"/>
<rect x="84.7" y="400.4" width="0.9" height="0.9" fill="#5470cc" opacity="0.6"/>
<rect x="84.5" y="402.8" width="0.9" height="0.9" fill="#5470cc" opacity="0.6"/>
<rect x="75.9" y="399.2" width="0.9" height="0.9" fill="#b4b8e4" opacity="0.6"/>
<rect x="81.0" y="398.5" width="0.9" height="0.9" fill="#8090d8" opacity="0.6"/>
<rect x="76.8" y="399.6" width="0.9" height="0.9" fill="#8090d8" opacity="0.6"/>
<rect x="80.9" y="401.4" width="0.9" height="0.9" fill="#5470cc" opacity="0.6"/>
<g filter="url(#fb)">
<ellipse cx="82.5" cy="403.3" rx="4.16" ry="2.4699999999999998" fill="#9aa8e4" opacity="0.45"/>
<ellipse cx="82.5" cy="403.3" rx="3.2" ry="1.9" fill="#5a78d4" opacity="0.6"/>
<ellipse cx="82.5" cy="403.3" rx="2.304" ry="1.4249999999999998" fill="#58b8b0" opacity="0.85"/>
<ellipse cx="82.5" cy="403.3" rx="1.6" ry="1.045" fill="#9ccc58"/>
<ellipse cx="82.5" cy="403.3" rx="1.056" ry="0.76" fill="#dcc828"/>
</g>
<rect x="137.0" y="394.8" width="0.9" height="0.9" fill="#5470cc" opacity="0.5"/>
<rect x="141.9" y="404.0" width="0.9" height="0.9" fill="#b4b8e4" opacity="0.5"/>
<rect x="134.5" y="386.9" width="0.9" height="0.9" fill="#8090d8" opacity="0.5"/>
<rect x="135.8" y="389.5" width="0.9" height="0.9" fill="#5470cc" opacity="0.5"/>
<rect x="138.1" y="383.1" width="0.9" height="0.9" fill="#8090d8" opacity="0.5"/>
<rect x="139.4" y="382.2" width="0.9" height="0.9" fill="#8090d8" opacity="0.5"/>
<rect x="140.3" y="385.6" width="0.9" height="0.9" fill="#8090d8" opacity="0.5"/>
<rect x="139.5" y="394.6" width="0.9" height="0.9" fill="#5470cc" opacity="0.5"/>
<rect x="138.2" y="387.7" width="0.9" height="0.9" fill="#5470cc" opacity="0.5"/>
<rect x="136.2" y="384.1" width="0.9" height="0.9" fill="#8090d8" opacity="0.5"/>
<rect x="143.4" y="395.7" width="0.9" height="0.9" fill="#b4b8e4" opacity="0.5"/>
<rect x="144.4" y="394.2" width="0.9" height="0.9" fill="#b4b8e4" opacity="0.5"/>
<rect x="139.7" y="387.7" width="0.9" height="0.9" fill="#5470cc" opacity="0.5"/>
<rect x="137.8" y="381.1" width="0.9" height="0.9" fill="#b4b8e4" opacity="0.5"/>
<rect x="141.7" y="398.4" width="0.9" height="0.9" fill="#8090d8" opacity="0.5"/>
<rect x="143.3" y="401.6" width="0.9" height="0.9" fill="#b4b8e4" opacity="0.5"/>
<rect x="141.0" y="393.4" width="0.9" height="0.9" fill="#5470cc" opacity="0.5"/>
<rect x="135.6" y="385.5" width="0.9" height="0.9" fill="#8090d8" opacity="0.5"/>
<rect x="141.1" y="403.9" width="0.9" height="0.9" fill="#b4b8e4" opacity="0.5"/>
<rect x="140.0" y="387.0" width="0.9" height="0.9" fill="#5470cc" opacity="0.5"/>
<rect x="141.3" y="399.2" width="0.9" height="0.9" fill="#8090d8" opacity="0.5"/>
<rect x="134.9" y="396.8" width="0.9" height="0.9" fill="#8090d8" opacity="0.5"/>
<rect x="135.5" y="391.8" width="0.9" height="0.9" fill="#8090d8" opacity="0.5"/>
<rect x="140.2" y="392.0" width="0.9" height="0.9" fill="#5470cc" opacity="0.5"/>
<rect x="133.9" y="394.3" width="0.9" height="0.9" fill="#b4b8e4" opacity="0.5"/>
<rect x="134.1" y="396.4" width="0.9" height="0.9" fill="#b4b8e4" opacity="0.5"/>
<rect x="132.6" y="388.2" width="0.9" height="0.9" fill="#b4b8e4" opacity="0.5"/>
<rect x="137.1" y="386.8" width="0.9" height="0.9" fill="#5470cc" opacity="0.5"/>
<rect x="139.3" y="393.4" width="0.9" height="0.9" fill="#5470cc" opacity="0.5"/>
<rect x="144.3" y="394.7" width="0.9" height="0.9" fill="#b4b8e4" opacity="0.5"/>
<rect x="142.1" y="383.9" width="0.9" height="0.9" fill="#b4b8e4" opacity="0.5"/>
<rect x="142.0" y="397.6" width="0.9" height="0.9" fill="#8090d8" opacity="0.5"/>
<rect x="142.9" y="401.3" width="0.9" height="0.9" fill="#b4b8e4" opacity="0.5"/>
<rect x="135.8" y="382.6" width="0.9" height="0.9" fill="#b4b8e4" opacity="0.5"/>
<rect x="136.1" y="387.3" width="0.9" height="0.9" fill="#8090d8" opacity="0.5"/>
<rect x="143.0" y="378.0" width="0.9" height="0.9" fill="#b4b8e4" opacity="0.5"/>
<rect x="138.7" y="398.5" width="0.9" height="0.9" fill="#8090d8" opacity="0.5"/>
<rect x="138.1" y="381.8" width="0.9" height="0.9" fill="#8090d8" opacity="0.5"/>
<rect x="135.8" y="395.3" width="0.9" height="0.9" fill="#8090d8" opacity="0.5"/>
<rect x="140.9" y="390.5" width="0.9" height="0.9" fill="#5470cc" opacity="0.5"/>
<rect x="139.6" y="401.2" width="0.9" height="0.9" fill="#8090d8" opacity="0.5"/>
<rect x="137.5" y="405.2" width="0.9" height="0.9" fill="#b4b8e4" opacity="0.5"/>
<rect x="135.4" y="404.7" width="0.9" height="0.9" fill="#b4b8e4" opacity="0.5"/>
<rect x="134.0" y="400.8" width="0.9" height="0.9" fill="#b4b8e4" opacity="0.5"/>
<rect x="138.6" y="381.0" width="0.9" height="0.9" fill="#b4b8e4" opacity="0.5"/>
<rect x="138.9" y="395.3" width="0.9" height="0.9" fill="#5470cc" opacity="0.5"/>
<rect x="140.4" y="392.3" width="0.9" height="0.9" fill="#5470cc" opacity="0.5"/>
<rect x="138.0" y="389.5" width="0.9" height="0.9" fill="#5470cc" opacity="0.5"/>
<rect x="138.9" y="399.9" width="0.9" height="0.9" fill="#8090d8" opacity="0.5"/>
<rect x="140.1" y="396.4" width="0.9" height="0.9" fill="#5470cc" opacity="0.5"/>
<rect x="139.2" y="401.2" width="0.9" height="0.9" fill="#8090d8" opacity="0.5"/>
<rect x="134.7" y="385.6" width="0.9" height="0.9" fill="#8090d8" opacity="0.5"/>
<rect x="135.2" y="389.1" width="0.9" height="0.9" fill="#8090d8" opacity="0.5"/>
<rect x="144.8" y="389.0" width="0.9" height="0.9" fill="#b4b8e4" opacity="0.5"/>
<rect x="138.9" y="390.1" width="0.9" height="0.9" fill="#5470cc" opacity="0.5"/>
<rect x="132.5" y="383.3" width="0.9" height="0.9" fill="#b4b8e4" opacity="0.5"/>
<rect x="136.2" y="385.6" width="0.9" height="0.9" fill="#8090d8" opacity="0.5"/>
<rect x="137.4" y="388.3" width="0.9" height="0.9" fill="#5470cc" opacity="0.5"/>
<rect x="137.8" y="380.3" width="0.9" height="0.9" fill="#b4b8e4" opacity="0.5"/>
<rect x="141.8" y="394.9" width="0.9" height="0.9" fill="#8090d8" opacity="0.5"/>
<rect x="136.2" y="388.1" width="0.9" height="0.9" fill="#5470cc" opacity="0.5"/>
<rect x="135.7" y="378.2" width="0.9" height="0.9" fill="#b4b8e4" opacity="0.5"/>
<rect x="140.7" y="388.5" width="0.9" height="0.9" fill="#5470cc" opacity="0.5"/>
<rect x="142.0" y="401.9" width="0.9" height="0.9" fill="#b4b8e4" opacity="0.5"/>
<rect x="134.2" y="383.6" width="0.9" height="0.9" fill="#b4b8e4" opacity="0.5"/>
<rect x="140.2" y="387.7" width="0.9" height="0.9" fill="#5470cc" opacity="0.5"/>
<rect x="136.4" y="388.7" width="0.9" height="0.9" fill="#5470cc" opacity="0.5"/>
<rect x="139.9" y="382.0" width="0.9" height="0.9" fill="#8090d8" opacity="0.5"/>
<rect x="138.8" y="399.2" width="0.9" height="0.9" fill="#8090d8" opacity="0.5"/>
<rect x="136.7" y="388.9" width="0.9" height="0.9" fill="#5470cc" opacity="0.5"/>
<rect x="140.0" y="398.3" width="0.9" height="0.9" fill="#8090d8" opacity="0.5"/>
<rect x="141.7" y="394.9" width="0.9" height="0.9" fill="#8090d8" opacity="0.5"/>
<rect x="143.8" y="387.1" width="0.9" height="0.9" fill="#b4b8e4" opacity="0.5"/>
<rect x="143.8" y="395.6" width="0.9" height="0.9" fill="#b4b8e4" opacity="0.5"/>
<rect x="137.6" y="381.6" width="0.9" height="0.9" fill="#8090d8" opacity="0.5"/>
<rect x="143.5" y="393.4" width="0.9" height="0.9" fill="#b4b8e4" opacity="0.5"/>
<rect x="140.4" y="402.6" width="0.9" height="0.9" fill="#b4b8e4" opacity="0.5"/>
<rect x="137.3" y="397.1" width="0.9" height="0.9" fill="#5470cc" opacity="0.5"/>
<rect x="141.4" y="403.1" width="0.9" height="0.9" fill="#b4b8e4" opacity="0.5"/>
<rect x="139.6" y="404.5" width="0.9" height="0.9" fill="#b4b8e4" opacity="0.5"/>
<rect x="136.9" y="391.2" width="0.9" height="0.9" fill="#5470cc" opacity="0.5"/>
<rect x="136.5" y="384.9" width="0.9" height="0.9" fill="#8090d8" opacity="0.5"/>
<rect x="144.1" y="393.6" width="0.9" height="0.9" fill="#b4b8e4" opacity="0.5"/>
<rect x="138.5" y="393.0" width="0.9" height="0.9" fill="#5470cc" opacity="0.5"/>
<rect x="139.0" y="381.1" width="0.9" height="0.9" fill="#b4b8e4" opacity="0.5"/>
<rect x="137.1" y="394.3" width="0.9" height="0.9" fill="#5470cc" opacity="0.5"/>
<rect x="134.6" y="390.1" width="0.9" height="0.9" fill="#8090d8" opacity="0.5"/>
<rect x="137.3" y="384.6" width="0.9" height="0.9" fill="#8090d8" opacity="0.5"/>
<rect x="134.2" y="387.3" width="0.9" height="0.9" fill="#b4b8e4" opacity="0.5"/>
<rect x="139.3" y="395.4" width="0.9" height="0.9" fill="#5470cc" opacity="0.5"/>
<rect x="133.5" y="392.6" width="0.9" height="0.9" fill="#b4b8e4" opacity="0.5"/>
<rect x="140.5" y="379.5" width="0.9" height="0.9" fill="#b4b8e4" opacity="0.5"/>
<rect x="134.2" y="395.4" width="0.9" height="0.9" fill="#b4b8e4" opacity="0.5"/>
<rect x="140.9" y="395.5" width="0.9" height="0.9" fill="#5470cc" opacity="0.5"/>
<rect x="143.8" y="396.6" width="0.9" height="0.9" fill="#b4b8e4" opacity="0.5"/>
<rect x="143.0" y="391.5" width="0.9" height="0.9" fill="#8090d8" opacity="0.5"/>
<rect x="138.6" y="385.3" width="0.9" height="0.9" fill="#5470cc" opacity="0.5"/>
<rect x="138.9" y="388.9" width="0.9" height="0.9" fill="#5470cc" opacity="0.5"/>
<rect x="136.6" y="395.9" width="0.9" height="0.9" fill="#5470cc" opacity="0.5"/>
<rect x="139.8" y="388.5" width="0.9" height="0.9" fill="#5470cc" opacity="0.5"/>
<rect x="139.3" y="393.9" width="0.9" height="0.9" fill="#5470cc" opacity="0.5"/>
<rect x="140.0" y="386.8" width="0.9" height="0.9" fill="#5470cc" opacity="0.5"/>
<rect x="140.7" y="388.3" width="0.9" height="0.9" fill="#5470cc" opacity="0.5"/>
<rect x="139.6" y="387.9" width="0.9" height="0.9" fill="#5470cc" opacity="0.5"/>
<rect x="145.2" y="381.5" width="0.9" height="0.9" fill="#b4b8e4" opacity="0.5"/>
<rect x="141.9" y="384.6" width="0.9" height="0.9" fill="#8090d8" opacity="0.5"/>
<rect x="143.8" y="382.8" width="0.9" height="0.9" fill="#b4b8e4" opacity="0.5"/>
<rect x="140.9" y="390.4" width="0.9" height="0.9" fill="#5470cc" opacity="0.5"/>
<rect x="141.6" y="382.4" width="0.9" height="0.9" fill="#b4b8e4" opacity="0.5"/>
<rect x="137.5" y="394.8" width="0.9" height="0.9" fill="#5470cc" opacity="0.5"/>
<rect x="141.3" y="387.2" width="0.9" height="0.9" fill="#8090d8" opacity="0.5"/>
<rect x="132.4" y="389.0" width="0.9" height="0.9" fill="#b4b8e4" opacity="0.5"/>
<rect x="136.3" y="392.1" width="0.9" height="0.9" fill="#5470cc" opacity="0.5"/>
<rect x="137.1" y="384.2" width="0.9" height="0.9" fill="#8090d8" opacity="0.5"/>
<rect x="137.9" y="401.4" width="0.9" height="0.9" fill="#8090d8" opacity="0.5"/>
<rect x="140.4" y="388.8" width="0.9" height="0.9" fill="#5470cc" opacity="0.5"/>
<rect x="140.5" y="381.5" width="0.9" height="0.9" fill="#b4b8e4" opacity="0.5"/>
<rect x="136.6" y="391.0" width="0.9" height="0.9" fill="#5470cc" opacity="0.5"/>
<rect x="132.8" y="401.2" width="0.9" height="0.9" fill="#5470cc" opacity="0.6"/>
<rect x="133.0" y="402.8" width="0.9" height="0.9" fill="#5470cc" opacity="0.6"/>
<rect x="132.9" y="398.9" width="0.9" height="0.9" fill="#8090d8" opacity="0.6"/>
<rect x="135.2" y="401.1" width="0.9" height="0.9" fill="#5470cc" opacity="0.6"/>
<rect x="132.5" y="401.8" width="0.9" height="0.9" fill="#5470cc" opacity="0.6"/>
<rect x="134.7" y="403.6" width="0.9" height="0.9" fill="#8090d8" opacity="0.6"/>
<rect x="136.8" y="401.7" width="0.9" height="0.9" fill="#5470cc" opacity="0.6"/>
<rect x="129.9" y="399.7" width="0.9" height="0.9" fill="#8090d8" opacity="0.6"/>
<rect x="134.8" y="403.9" width="0.9" height="0.9" fill="#8090d8" opacity="0.6"/>
<rect x="133.8" y="401.4" width="0.9" height="0.9" fill="#5470cc" opacity="0.6"/>
<rect x="136.2" y="398.9" width="0.9" height="0.9" fill="#8090d8" opacity="0.6"/>
<rect x="132.0" y="402.4" width="0.9" height="0.9" fill="#5470cc" opacity="0.6"/>
<rect x="137.9" y="401.1" width="0.9" height="0.9" fill="#5470cc" opacity="0.6"/>
<rect x="135.4" y="402.0" width="0.9" height="0.9" fill="#5470cc" opacity="0.6"/>
<rect x="137.5" y="399.5" width="0.9" height="0.9" fill="#8090d8" opacity="0.6"/>
<rect x="136.4" y="398.8" width="0.9" height="0.9" fill="#b4b8e4" opacity="0.6"/>
<rect x="120.5" y="400.5" width="0.9" height="0.9" fill="#b4b8e4" opacity="0.6"/>
<rect x="129.0" y="403.1" width="0.9" height="0.9" fill="#8090d8" opacity="0.6"/>
<rect x="136.9" y="399.4" width="0.9" height="0.9" fill="#8090d8" opacity="0.6"/>
<rect x="137.8" y="399.7" width="0.9" height="0.9" fill="#8090d8" opacity="0.6"/>
<rect x="133.1" y="401.0" width="0.9" height="0.9" fill="#5470cc" opacity="0.6"/>
<rect x="134.1" y="403.0" width="0.9" height="0.9" fill="#5470cc" opacity="0.6"/>
<rect x="136.7" y="402.2" width="0.9" height="0.9" fill="#5470cc" opacity="0.6"/>
<rect x="136.8" y="402.4" width="0.9" height="0.9" fill="#5470cc" opacity="0.6"/>
<rect x="130.4" y="400.3" width="0.9" height="0.9" fill="#5470cc" opacity="0.6"/>
<rect x="131.2" y="402.4" width="0.9" height="0.9" fill="#5470cc" opacity="0.6"/>
<rect x="132.3" y="405.8" width="0.9" height="0.9" fill="#b4b8e4" opacity="0.6"/>
<rect x="129.5" y="399.6" width="0.9" height="0.9" fill="#8090d8" opacity="0.6"/>
<rect x="137.4" y="404.1" width="0.9" height="0.9" fill="#b4b8e4" opacity="0.6"/>
<rect x="136.1" y="403.1" width="0.9" height="0.9" fill="#5470cc" opacity="0.6"/>
<rect x="140.7" y="401.4" width="0.9" height="0.9" fill="#8090d8" opacity="0.6"/>
<rect x="126.4" y="400.6" width="0.9" height="0.9" fill="#8090d8" opacity="0.6"/>
<rect x="138.3" y="399.0" width="0.9" height="0.9" fill="#b4b8e4" opacity="0.6"/>
<rect x="133.7" y="402.0" width="0.9" height="0.9" fill="#5470cc" opacity="0.6"/>
<rect x="132.0" y="402.9" width="0.9" height="0.9" fill="#5470cc" opacity="0.6"/>
<rect x="136.5" y="405.7" width="0.9" height="0.9" fill="#b4b8e4" opacity="0.6"/>
<rect x="136.6" y="400.5" width="0.9" height="0.9" fill="#5470cc" opacity="0.6"/>
<rect x="130.7" y="400.1" width="0.9" height="0.9" fill="#8090d8" opacity="0.6"/>
<rect x="138.3" y="400.5" width="0.9" height="0.9" fill="#8090d8" opacity="0.6"/>
<rect x="133.2" y="402.9" width="0.9" height="0.9" fill="#5470cc" opacity="0.6"/>
<rect x="129.9" y="401.0" width="0.9" height="0.9" fill="#5470cc" opacity="0.6"/>
<rect x="124.3" y="399.6" width="0.9" height="0.9" fill="#b4b8e4" opacity="0.6"/>
<rect x="130.7" y="402.3" width="0.9" height="0.9" fill="#5470cc" opacity="0.6"/>
<rect x="139.5" y="401.5" width="0.9" height="0.9" fill="#8090d8" opacity="0.6"/>
<rect x="134.9" y="401.9" width="0.9" height="0.9" fill="#5470cc" opacity="0.6"/>
<rect x="139.0" y="403.2" width="0.9" height="0.9" fill="#8090d8" opacity="0.6"/>
<rect x="134.9" y="399.7" width="0.9" height="0.9" fill="#8090d8" opacity="0.6"/>
<rect x="138.1" y="402.2" width="0.9" height="0.9" fill="#5470cc" opacity="0.6"/>
<rect x="139.7" y="401.5" width="0.9" height="0.9" fill="#8090d8" opacity="0.6"/>
<rect x="143.3" y="400.9" width="0.9" height="0.9" fill="#b4b8e4" opacity="0.6"/>
<rect x="141.5" y="401.8" width="0.9" height="0.9" fill="#b4b8e4" opacity="0.6"/>
<rect x="131.0" y="399.5" width="0.9" height="0.9" fill="#8090d8" opacity="0.6"/>
<rect x="132.8" y="404.1" width="0.9" height="0.9" fill="#8090d8" opacity="0.6"/>
<rect x="137.6" y="402.8" width="0.9" height="0.9" fill="#8090d8" opacity="0.6"/>
<rect x="121.7" y="402.8" width="0.9" height="0.9" fill="#b4b8e4" opacity="0.6"/>
<rect x="136.3" y="400.6" width="0.9" height="0.9" fill="#5470cc" opacity="0.6"/>
<rect x="130.4" y="401.5" width="0.9" height="0.9" fill="#5470cc" opacity="0.6"/>
<rect x="142.2" y="399.7" width="0.9" height="0.9" fill="#b4b8e4" opacity="0.6"/>
<rect x="131.4" y="404.0" width="0.9" height="0.9" fill="#8090d8" opacity="0.6"/>
<rect x="131.3" y="400.9" width="0.9" height="0.9" fill="#5470cc" opacity="0.6"/>
<rect x="134.0" y="399.3" width="0.9" height="0.9" fill="#8090d8" opacity="0.6"/>
<rect x="134.6" y="399.4" width="0.9" height="0.9" fill="#8090d8" opacity="0.6"/>
<rect x="138.0" y="401.6" width="0.9" height="0.9" fill="#5470cc" opacity="0.6"/>
<rect x="145.0" y="402.1" width="0.9" height="0.9" fill="#b4b8e4" opacity="0.6"/>
<rect x="140.4" y="399.2" width="0.9" height="0.9" fill="#b4b8e4" opacity="0.6"/>
<rect x="132.9" y="402.1" width="0.9" height="0.9" fill="#5470cc" opacity="0.6"/>
<rect x="142.3" y="398.5" width="0.9" height="0.9" fill="#b4b8e4" opacity="0.6"/>
<rect x="138.5" y="402.6" width="0.9" height="0.9" fill="#8090d8" opacity="0.6"/>
<rect x="141.2" y="402.8" width="0.9" height="0.9" fill="#b4b8e4" opacity="0.6"/>
<rect x="133.8" y="400.6" width="0.9" height="0.9" fill="#5470cc" opacity="0.6"/>
<rect x="127.3" y="401.9" width="0.9" height="0.9" fill="#8090d8" opacity="0.6"/>
<rect x="132.6" y="405.2" width="0.9" height="0.9" fill="#b4b8e4" opacity="0.6"/>
<rect x="130.5" y="402.1" width="0.9" height="0.9" fill="#5470cc" opacity="0.6"/>
<rect x="125.7" y="400.8" width="0.9" height="0.9" fill="#b4b8e4" opacity="0.6"/>
<rect x="134.9" y="403.0" width="0.9" height="0.9" fill="#5470cc" opacity="0.6"/>
<rect x="140.8" y="401.5" width="0.9" height="0.9" fill="#8090d8" opacity="0.6"/>
<rect x="128.0" y="402.4" width="0.9" height="0.9" fill="#8090d8" opacity="0.6"/>
<rect x="136.1" y="402.4" width="0.9" height="0.9" fill="#5470cc" opacity="0.6"/>
<rect x="130.0" y="403.6" width="0.9" height="0.9" fill="#8090d8" opacity="0.6"/>
<rect x="134.0" y="402.8" width="0.9" height="0.9" fill="#5470cc" opacity="0.6"/>
<rect x="139.9" y="402.6" width="0.9" height="0.9" fill="#8090d8" opacity="0.6"/>
<rect x="135.0" y="405.4" width="0.9" height="0.9" fill="#b4b8e4" opacity="0.6"/>
<rect x="134.8" y="401.0" width="0.9" height="0.9" fill="#5470cc" opacity="0.6"/>
<rect x="134.1" y="404.2" width="0.9" height="0.9" fill="#8090d8" opacity="0.6"/>
<rect x="134.1" y="402.5" width="0.9" height="0.9" fill="#5470cc" opacity="0.6"/>
<rect x="139.5" y="400.6" width="0.9" height="0.9" fill="#8090d8" opacity="0.6"/>
<rect x="124.9" y="402.1" width="0.9" height="0.9" fill="#b4b8e4" opacity="0.6"/>
<rect x="134.7" y="400.5" width="0.9" height="0.9" fill="#5470cc" opacity="0.6"/>
<rect x="137.9" y="402.6" width="0.9" height="0.9" fill="#8090d8" opacity="0.6"/>
<rect x="128.6" y="402.5" width="0.9" height="0.9" fill="#8090d8" opacity="0.6"/>
<rect x="132.6" y="398.9" width="0.9" height="0.9" fill="#8090d8" opacity="0.6"/>
<rect x="135.8" y="401.5" width="0.9" height="0.9" fill="#5470cc" opacity="0.6"/>
<rect x="129.8" y="402.5" width="0.9" height="0.9" fill="#5470cc" opacity="0.6"/>
<rect x="136.0" y="400.5" width="0.9" height="0.9" fill="#5470cc" opacity="0.6"/>
<rect x="135.6" y="403.4" width="0.9" height="0.9" fill="#8090d8" opacity="0.6"/>
<rect x="130.0" y="402.2" width="0.9" height="0.9" fill="#5470cc" opacity="0.6"/>
<rect x="133.6" y="405.6" width="0.9" height="0.9" fill="#b4b8e4" opacity="0.6"/>
<rect x="124.2" y="402.8" width="0.9" height="0.9" fill="#b4b8e4" opacity="0.6"/>
<rect x="132.0" y="401.4" width="0.9" height="0.9" fill="#5470cc" opacity="0.6"/>
<rect x="143.1" y="401.5" width="0.9" height="0.9" fill="#b4b8e4" opacity="0.6"/>
<rect x="144.8" y="400.8" width="0.9" height="0.9" fill="#b4b8e4" opacity="0.6"/>
<rect x="135.3" y="400.7" width="0.9" height="0.9" fill="#5470cc" opacity="0.6"/>
<rect x="130.1" y="401.7" width="0.9" height="0.9" fill="#5470cc" opacity="0.6"/>
<rect x="132.1" y="401.9" width="0.9" height="0.9" fill="#5470cc" opacity="0.6"/>
<rect x="123.0" y="405.2" width="0.9" height="0.9" fill="#b4b8e4" opacity="0.6"/>
<rect x="132.7" y="404.7" width="0.9" height="0.9" fill="#b4b8e4" opacity="0.6"/>
<rect x="128.5" y="402.1" width="0.9" height="0.9" fill="#8090d8" opacity="0.6"/>
<rect x="149.4" y="400.0" width="0.9" height="0.9" fill="#b4b8e4" opacity="0.6"/>
<rect x="126.1" y="400.6" width="0.9" height="0.9" fill="#b4b8e4" opacity="0.6"/>
<rect x="135.9" y="402.8" width="0.9" height="0.9" fill="#5470cc" opacity="0.6"/>
<rect x="140.0" y="401.1" width="0.9" height="0.9" fill="#8090d8" opacity="0.6"/>
<rect x="125.5" y="400.8" width="0.9" height="0.9" fill="#b4b8e4" opacity="0.6"/>
<rect x="139.8" y="402.4" width="0.9" height="0.9" fill="#8090d8" opacity="0.6"/>
<rect x="123.8" y="401.5" width="0.9" height="0.9" fill="#b4b8e4" opacity="0.6"/>
<rect x="140.5" y="405.4" width="0.9" height="0.9" fill="#b4b8e4" opacity="0.6"/>
<rect x="136.4" y="402.1" width="0.9" height="0.9" fill="#5470cc" opacity="0.6"/>
<rect x="127.3" y="400.0" width="0.9" height="0.9" fill="#8090d8" opacity="0.6"/>
<rect x="133.8" y="402.5" width="0.9" height="0.9" fill="#5470cc" opacity="0.6"/>
<rect x="136.5" y="400.7" width="0.9" height="0.9" fill="#5470cc" opacity="0.6"/>
<rect x="127.8" y="400.1" width="0.9" height="0.9" fill="#8090d8" opacity="0.6"/>
<g filter="url(#fb)">
<ellipse cx="135" cy="402.8" rx="5.460000000000001" ry="2.3400000000000003" fill="#9aa8e4" opacity="0.45"/>
<ellipse cx="135" cy="402.8" rx="4.2" ry="1.8" fill="#5a78d4" opacity="0.6"/>
<ellipse cx="135" cy="402.8" rx="3.024" ry="1.35" fill="#58b8b0" opacity="0.85"/>
<ellipse cx="135" cy="402.8" rx="2.1" ry="0.9900000000000001" fill="#9ccc58"/>
<ellipse cx="135" cy="402.8" rx="1.3860000000000001" ry="0.7200000000000001" fill="#dcc828"/>
</g>
<rect x="189.7" y="402.3" width="0.9" height="0.9" fill="#8090d8" opacity="0.5"/>
<rect x="192.5" y="403.9" width="0.9" height="0.9" fill="#b4b8e4" opacity="0.5"/>
<rect x="190.0" y="402.6" width="0.9" height="0.9" fill="#8090d8" opacity="0.5"/>
<rect x="192.3" y="395.8" width="0.9" height="0.9" fill="#8090d8" opacity="0.5"/>
<rect x="194.3" y="396.2" width="0.9" height="0.9" fill="#b4b8e4" opacity="0.5"/>
<rect x="185.5" y="395.9" width="0.9" height="0.9" fill="#8090d8" opacity="0.5"/>
<rect x="187.1" y="395.6" width="0.9" height="0.9" fill="#5470cc" opacity="0.5"/>
<rect x="192.6" y="397.5" width="0.9" height="0.9" fill="#8090d8" opacity="0.5"/>
<rect x="195.4" y="396.8" width="0.9" height="0.9" fill="#b4b8e4" opacity="0.5"/>
<rect x="191.8" y="398.1" width="0.9" height="0.9" fill="#5470cc" opacity="0.5"/>
<rect x="184.1" y="398.6" width="0.9" height="0.9" fill="#b4b8e4" opacity="0.5"/>
<rect x="191.4" y="402.5" width="0.9" height="0.9" fill="#8090d8" opacity="0.5"/>
<rect x="186.0" y="402.8" width="0.9" height="0.9" fill="#b4b8e4" opacity="0.5"/>
<rect x="194.1" y="394.5" width="0.9" height="0.9" fill="#b4b8e4" opacity="0.5"/>
<rect x="191.3" y="403.9" width="0.9" height="0.9" fill="#b4b8e4" opacity="0.5"/>
<rect x="184.3" y="400.4" width="0.9" height="0.9" fill="#b4b8e4" opacity="0.5"/>
<rect x="183.1" y="399.2" width="0.9" height="0.9" fill="#b4b8e4" opacity="0.5"/>
<rect x="195.1" y="396.9" width="0.9" height="0.9" fill="#b4b8e4" opacity="0.5"/>
<rect x="192.1" y="391.0" width="0.9" height="0.9" fill="#b4b8e4" opacity="0.5"/>
<rect x="188.0" y="396.2" width="0.9" height="0.9" fill="#5470cc" opacity="0.5"/>
<rect x="192.9" y="397.2" width="0.9" height="0.9" fill="#8090d8" opacity="0.5"/>
<rect x="192.7" y="398.0" width="0.9" height="0.9" fill="#8090d8" opacity="0.5"/>
<rect x="187.8" y="398.9" width="0.9" height="0.9" fill="#5470cc" opacity="0.5"/>
<rect x="191.0" y="397.1" width="0.9" height="0.9" fill="#5470cc" opacity="0.5"/>
<rect x="192.7" y="394.7" width="0.9" height="0.9" fill="#8090d8" opacity="0.5"/>
<rect x="190.8" y="400.9" width="0.9" height="0.9" fill="#5470cc" opacity="0.5"/>
<rect x="188.1" y="398.2" width="0.9" height="0.9" fill="#5470cc" opacity="0.5"/>
<rect x="189.9" y="391.8" width="0.9" height="0.9" fill="#8090d8" opacity="0.5"/>
<rect x="195.2" y="396.7" width="0.9" height="0.9" fill="#b4b8e4" opacity="0.5"/>
<rect x="191.8" y="384.3" width="0.9" height="0.9" fill="#b4b8e4" opacity="0.5"/>
<rect x="193.5" y="395.2" width="0.9" height="0.9" fill="#8090d8" opacity="0.5"/>
<rect x="186.0" y="396.4" width="0.9" height="0.9" fill="#8090d8" opacity="0.5"/>
<rect x="192.2" y="389.2" width="0.9" height="0.9" fill="#b4b8e4" opacity="0.5"/>
<rect x="192.3" y="390.9" width="0.9" height="0.9" fill="#b4b8e4" opacity="0.5"/>
<rect x="192.6" y="398.3" width="0.9" height="0.9" fill="#8090d8" opacity="0.5"/>
<rect x="192.9" y="400.3" width="0.9" height="0.9" fill="#8090d8" opacity="0.5"/>
<rect x="186.2" y="395.1" width="0.9" height="0.9" fill="#8090d8" opacity="0.5"/>
<rect x="190.9" y="395.3" width="0.9" height="0.9" fill="#5470cc" opacity="0.5"/>
<rect x="189.0" y="392.3" width="0.9" height="0.9" fill="#8090d8" opacity="0.5"/>
<rect x="192.7" y="399.0" width="0.9" height="0.9" fill="#8090d8" opacity="0.5"/>
<rect x="185.6" y="396.4" width="0.9" height="0.9" fill="#8090d8" opacity="0.5"/>
<rect x="193.3" y="397.0" width="0.9" height="0.9" fill="#8090d8" opacity="0.5"/>
<rect x="191.4" y="395.4" width="0.9" height="0.9" fill="#5470cc" opacity="0.5"/>
<rect x="187.9" y="397.8" width="0.9" height="0.9" fill="#5470cc" opacity="0.5"/>
<rect x="187.5" y="394.3" width="0.9" height="0.9" fill="#8090d8" opacity="0.5"/>
<rect x="189.9" y="395.6" width="0.9" height="0.9" fill="#5470cc" opacity="0.5"/>
<rect x="182.2" y="399.8" width="0.9" height="0.9" fill="#b4b8e4" opacity="0.5"/>
<rect x="193.9" y="398.0" width="0.9" height="0.9" fill="#8090d8" opacity="0.5"/>
<rect x="187.4" y="391.8" width="0.9" height="0.9" fill="#b4b8e4" opacity="0.5"/>
<rect x="186.2" y="395.9" width="0.9" height="0.9" fill="#8090d8" opacity="0.5"/>
<rect x="191.9" y="396.7" width="0.9" height="0.9" fill="#5470cc" opacity="0.5"/>
<rect x="188.3" y="391.9" width="0.9" height="0.9" fill="#8090d8" opacity="0.5"/>
<rect x="189.1" y="393.0" width="0.9" height="0.9" fill="#8090d8" opacity="0.5"/>
<rect x="194.7" y="398.3" width="0.9" height="0.9" fill="#b4b8e4" opacity="0.5"/>
<rect x="188.6" y="404.4" width="0.9" height="0.9" fill="#b4b8e4" opacity="0.5"/>
<rect x="194.7" y="397.0" width="0.9" height="0.9" fill="#b4b8e4" opacity="0.5"/>
<rect x="184.7" y="402.1" width="0.9" height="0.9" fill="#b4b8e4" opacity="0.5"/>
<rect x="187.6" y="399.9" width="0.9" height="0.9" fill="#5470cc" opacity="0.5"/>
<rect x="185.6" y="395.0" width="0.9" height="0.9" fill="#8090d8" opacity="0.5"/>
<rect x="190.9" y="402.0" width="0.9" height="0.9" fill="#5470cc" opacity="0.6"/>
<rect x="188.8" y="399.8" width="0.9" height="0.9" fill="#8090d8" opacity="0.6"/>
<rect x="193.4" y="401.3" width="0.9" height="0.9" fill="#8090d8" opacity="0.6"/>
<rect x="191.6" y="401.5" width="0.9" height="0.9" fill="#5470cc" opacity="0.6"/>
<rect x="193.7" y="402.0" width="0.9" height="0.9" fill="#8090d8" opacity="0.6"/>
<rect x="191.1" y="403.7" width="0.9" height="0.9" fill="#5470cc" opacity="0.6"/>
<rect x="188.8" y="401.7" width="0.9" height="0.9" fill="#5470cc" opacity="0.6"/>
<rect x="189.1" y="402.2" width="0.9" height="0.9" fill="#5470cc" opacity="0.6"/>
<rect x="191.8" y="402.6" width="0.9" height="0.9" fill="#5470cc" opacity="0.6"/>
<rect x="189.9" y="403.6" width="0.9" height="0.9" fill="#5470cc" opacity="0.6"/>
<rect x="190.3" y="400.0" width="0.9" height="0.9" fill="#8090d8" opacity="0.6"/>
<rect x="194.9" y="398.7" width="0.9" height="0.9" fill="#b4b8e4" opacity="0.6"/>
<rect x="197.2" y="399.1" width="0.9" height="0.9" fill="#b4b8e4" opacity="0.6"/>
<rect x="184.2" y="400.7" width="0.9" height="0.9" fill="#8090d8" opacity="0.6"/>
<rect x="193.2" y="400.4" width="0.9" height="0.9" fill="#8090d8" opacity="0.6"/>
<rect x="192.6" y="403.9" width="0.9" height="0.9" fill="#8090d8" opacity="0.6"/>
<rect x="187.1" y="401.8" width="0.9" height="0.9" fill="#5470cc" opacity="0.6"/>
<rect x="191.7" y="402.8" width="0.9" height="0.9" fill="#5470cc" opacity="0.6"/>
<rect x="187.2" y="398.6" width="0.9" height="0.9" fill="#b4b8e4" opacity="0.6"/>
<rect x="187.2" y="400.3" width="0.9" height="0.9" fill="#8090d8" opacity="0.6"/>
<rect x="189.9" y="402.1" width="0.9" height="0.9" fill="#5470cc" opacity="0.6"/>
<rect x="186.8" y="400.0" width="0.9" height="0.9" fill="#8090d8" opacity="0.6"/>
<rect x="187.2" y="402.4" width="0.9" height="0.9" fill="#5470cc" opacity="0.6"/>
<rect x="191.4" y="402.9" width="0.9" height="0.9" fill="#5470cc" opacity="0.6"/>
<rect x="193.3" y="404.0" width="0.9" height="0.9" fill="#8090d8" opacity="0.6"/>
<rect x="187.8" y="404.4" width="0.9" height="0.9" fill="#8090d8" opacity="0.6"/>
<rect x="185.0" y="403.1" width="0.9" height="0.9" fill="#8090d8" opacity="0.6"/>
<rect x="189.3" y="398.6" width="0.9" height="0.9" fill="#b4b8e4" opacity="0.6"/>
<rect x="195.5" y="406.1" width="0.9" height="0.9" fill="#b4b8e4" opacity="0.6"/>
<rect x="194.0" y="399.1" width="0.9" height="0.9" fill="#b4b8e4" opacity="0.6"/>
<rect x="180.1" y="403.5" width="0.9" height="0.9" fill="#b4b8e4" opacity="0.6"/>
<rect x="190.7" y="400.7" width="0.9" height="0.9" fill="#5470cc" opacity="0.6"/>
<rect x="186.5" y="398.5" width="0.9" height="0.9" fill="#b4b8e4" opacity="0.6"/>
<rect x="189.7" y="397.8" width="0.9" height="0.9" fill="#b4b8e4" opacity="0.6"/>
<rect x="183.7" y="401.5" width="0.9" height="0.9" fill="#8090d8" opacity="0.6"/>
<rect x="194.8" y="403.4" width="0.9" height="0.9" fill="#8090d8" opacity="0.6"/>
<rect x="193.4" y="404.6" width="0.9" height="0.9" fill="#b4b8e4" opacity="0.6"/>
<rect x="192.7" y="400.9" width="0.9" height="0.9" fill="#5470cc" opacity="0.6"/>
<rect x="190.6" y="402.3" width="0.9" height="0.9" fill="#5470cc" opacity="0.6"/>
<rect x="187.2" y="401.9" width="0.9" height="0.9" fill="#5470cc" opacity="0.6"/>
<rect x="189.2" y="399.3" width="0.9" height="0.9" fill="#8090d8" opacity="0.6"/>
<rect x="183.6" y="402.0" width="0.9" height="0.9" fill="#8090d8" opacity="0.6"/>
<rect x="192.1" y="403.8" width="0.9" height="0.9" fill="#8090d8" opacity="0.6"/>
<rect x="194.4" y="402.8" width="0.9" height="0.9" fill="#8090d8" opacity="0.6"/>
<rect x="190.2" y="400.9" width="0.9" height="0.9" fill="#5470cc" opacity="0.6"/>
<rect x="184.7" y="396.1" width="0.9" height="0.9" fill="#b4b8e4" opacity="0.6"/>
<rect x="188.3" y="403.3" width="0.9" height="0.9" fill="#5470cc" opacity="0.6"/>
<rect x="189.4" y="405.8" width="0.9" height="0.9" fill="#b4b8e4" opacity="0.6"/>
<rect x="195.6" y="403.7" width="0.9" height="0.9" fill="#b4b8e4" opacity="0.6"/>
<rect x="189.1" y="405.4" width="0.9" height="0.9" fill="#b4b8e4" opacity="0.6"/>
<rect x="195.4" y="399.5" width="0.9" height="0.9" fill="#b4b8e4" opacity="0.6"/>
<rect x="191.3" y="404.4" width="0.9" height="0.9" fill="#8090d8" opacity="0.6"/>
<rect x="186.2" y="405.8" width="0.9" height="0.9" fill="#b4b8e4" opacity="0.6"/>
<rect x="188.9" y="403.2" width="0.9" height="0.9" fill="#5470cc" opacity="0.6"/>
<rect x="188.1" y="402.5" width="0.9" height="0.9" fill="#5470cc" opacity="0.6"/>
<rect x="190.6" y="405.1" width="0.9" height="0.9" fill="#8090d8" opacity="0.6"/>
<rect x="188.4" y="403.2" width="0.9" height="0.9" fill="#5470cc" opacity="0.6"/>
<rect x="192.4" y="401.4" width="0.9" height="0.9" fill="#5470cc" opacity="0.6"/>
<rect x="191.3" y="399.1" width="0.9" height="0.9" fill="#8090d8" opacity="0.6"/>
<rect x="184.1" y="401.0" width="0.9" height="0.9" fill="#8090d8" opacity="0.6"/>
<rect x="182.8" y="400.2" width="0.9" height="0.9" fill="#b4b8e4" opacity="0.6"/>
<rect x="188.5" y="400.6" width="0.9" height="0.9" fill="#5470cc" opacity="0.6"/>
<rect x="186.9" y="400.1" width="0.9" height="0.9" fill="#8090d8" opacity="0.6"/>
<rect x="191.3" y="401.6" width="0.9" height="0.9" fill="#5470cc" opacity="0.6"/>
<rect x="179.6" y="403.6" width="0.9" height="0.9" fill="#b4b8e4" opacity="0.6"/>
<rect x="195.4" y="403.4" width="0.9" height="0.9" fill="#b4b8e4" opacity="0.6"/>
<rect x="194.0" y="400.4" width="0.9" height="0.9" fill="#8090d8" opacity="0.6"/>
<rect x="196.0" y="403.3" width="0.9" height="0.9" fill="#b4b8e4" opacity="0.6"/>
<rect x="189.1" y="404.5" width="0.9" height="0.9" fill="#8090d8" opacity="0.6"/>
<rect x="191.0" y="400.5" width="0.9" height="0.9" fill="#5470cc" opacity="0.6"/>
<rect x="189.6" y="403.0" width="0.9" height="0.9" fill="#5470cc" opacity="0.6"/>
<rect x="188.5" y="402.8" width="0.9" height="0.9" fill="#5470cc" opacity="0.6"/>
<rect x="187.0" y="398.5" width="0.9" height="0.9" fill="#b4b8e4" opacity="0.6"/>
<rect x="194.2" y="402.9" width="0.9" height="0.9" fill="#8090d8" opacity="0.6"/>
<rect x="191.4" y="398.7" width="0.9" height="0.9" fill="#b4b8e4" opacity="0.6"/>
<rect x="189.1" y="404.5" width="0.9" height="0.9" fill="#8090d8" opacity="0.6"/>
<rect x="187.6" y="399.8" width="0.9" height="0.9" fill="#8090d8" opacity="0.6"/>
<rect x="198.3" y="402.0" width="0.9" height="0.9" fill="#b4b8e4" opacity="0.6"/>
<rect x="191.6" y="401.8" width="0.9" height="0.9" fill="#5470cc" opacity="0.6"/>
<rect x="194.8" y="402.5" width="0.9" height="0.9" fill="#8090d8" opacity="0.6"/>
<g filter="url(#fb)">
<ellipse cx="190.2" cy="403" rx="5.460000000000001" ry="3.12" fill="#9aa8e4" opacity="0.45"/>
<ellipse cx="190.2" cy="403" rx="4.2" ry="2.4" fill="#5a78d4" opacity="0.6"/>
<ellipse cx="190.2" cy="403" rx="3.024" ry="1.7999999999999998" fill="#58b8b0" opacity="0.85"/>
<ellipse cx="190.2" cy="403" rx="2.1" ry="1.32" fill="#9ccc58"/>
<ellipse cx="190.2" cy="403" rx="1.3860000000000001" ry="0.96" fill="#dcc828"/>
</g>
<rect x="48.1" y="385.0" width="0.9" height="0.9" fill="#b8bee6" opacity="0.35"/>
<rect x="62.5" y="376.4" width="0.9" height="0.9" fill="#b8bee6" opacity="0.35"/>
<rect x="53.6" y="398.4" width="0.9" height="0.9" fill="#b8bee6" opacity="0.35"/>
<rect x="51.1" y="385.4" width="0.9" height="0.9" fill="#b8bee6" opacity="0.35"/>
<rect x="52.9" y="389.6" width="0.9" height="0.9" fill="#b8bee6" opacity="0.35"/>
<rect x="65.8" y="396.8" width="0.9" height="0.9" fill="#b8bee6" opacity="0.35"/>
<rect x="70.4" y="375.1" width="0.9" height="0.9" fill="#b8bee6" opacity="0.35"/>
<rect x="54.1" y="377.8" width="0.9" height="0.9" fill="#b8bee6" opacity="0.35"/>
<rect x="55.0" y="386.8" width="0.9" height="0.9" fill="#b8bee6" opacity="0.35"/>
<rect x="58.5" y="376.2" width="0.9" height="0.9" fill="#b8bee6" opacity="0.35"/>
<rect x="53.0" y="411.7" width="0.9" height="0.9" fill="#b8bee6" opacity="0.35"/>
<rect x="46.1" y="407.9" width="0.9" height="0.9" fill="#b8bee6" opacity="0.35"/>
<rect x="48.3" y="373.1" width="0.9" height="0.9" fill="#b8bee6" opacity="0.35"/>
<rect x="55.6" y="380.0" width="0.9" height="0.9" fill="#b8bee6" opacity="0.35"/>
<rect x="57.9" y="377.0" width="0.9" height="0.9" fill="#b8bee6" opacity="0.35"/>
<rect x="55.6" y="387.4" width="0.9" height="0.9" fill="#b8bee6" opacity="0.35"/>
<rect x="67.6" y="388.0" width="0.9" height="0.9" fill="#b8bee6" opacity="0.35"/>
<rect x="68.4" y="385.4" width="0.9" height="0.9" fill="#b8bee6" opacity="0.35"/>
<rect x="78.6" y="355.4" width="0.9" height="0.9" fill="#b8bee6" opacity="0.35"/>
<rect x="55.7" y="386.8" width="0.9" height="0.9" fill="#b8bee6" opacity="0.35"/>
<rect x="57.7" y="387.5" width="0.9" height="0.9" fill="#b8bee6" opacity="0.35"/>
<rect x="62.1" y="398.2" width="0.9" height="0.9" fill="#b8bee6" opacity="0.35"/>
<rect x="57.9" y="382.9" width="0.9" height="0.9" fill="#b8bee6" opacity="0.35"/>
<rect x="50.1" y="385.4" width="0.9" height="0.9" fill="#b8bee6" opacity="0.35"/>
<rect x="55.7" y="387.8" width="0.9" height="0.9" fill="#b8bee6" opacity="0.35"/>
<rect x="119.5" y="381.9" width="0.9" height="0.9" fill="#b8bee6" opacity="0.35"/>
<rect x="121.1" y="383.2" width="0.9" height="0.9" fill="#b8bee6" opacity="0.35"/>
<rect x="95.8" y="389.2" width="0.9" height="0.9" fill="#b8bee6" opacity="0.35"/>
<rect x="107.9" y="393.9" width="0.9" height="0.9" fill="#b8bee6" opacity="0.35"/>
<rect x="126.7" y="406.2" width="0.9" height="0.9" fill="#b8bee6" opacity="0.35"/>
<rect x="120.1" y="384.0" width="0.9" height="0.9" fill="#b8bee6" opacity="0.35"/>
<rect x="121.8" y="392.4" width="0.9" height="0.9" fill="#b8bee6" opacity="0.35"/>
<rect x="99.1" y="382.5" width="0.9" height="0.9" fill="#b8bee6" opacity="0.35"/>
<rect x="107.9" y="395.7" width="0.9" height="0.9" fill="#b8bee6" opacity="0.35"/>
<rect x="117.9" y="390.4" width="0.9" height="0.9" fill="#b8bee6" opacity="0.35"/>
<rect x="124.5" y="390.5" width="0.9" height="0.9" fill="#b8bee6" opacity="0.35"/>
<rect x="103.0" y="379.2" width="0.9" height="0.9" fill="#b8bee6" opacity="0.35"/>
<rect x="121.6" y="381.2" width="0.9" height="0.9" fill="#b8bee6" opacity="0.35"/>
<rect x="109.0" y="393.9" width="0.9" height="0.9" fill="#b8bee6" opacity="0.35"/>
<rect x="121.8" y="381.7" width="0.9" height="0.9" fill="#b8bee6" opacity="0.35"/>
<rect x="112.2" y="394.8" width="0.9" height="0.9" fill="#b8bee6" opacity="0.35"/>
<rect x="111.9" y="377.0" width="0.9" height="0.9" fill="#b8bee6" opacity="0.35"/>
<rect x="121.3" y="398.9" width="0.9" height="0.9" fill="#b8bee6" opacity="0.35"/>
<rect x="104.0" y="378.6" width="0.9" height="0.9" fill="#b8bee6" opacity="0.35"/>
<rect x="121.3" y="385.2" width="0.9" height="0.9" fill="#b8bee6" opacity="0.35"/>
<rect x="121.4" y="390.2" width="0.9" height="0.9" fill="#b8bee6" opacity="0.35"/>
<rect x="137.0" y="367.8" width="0.9" height="0.9" fill="#b8bee6" opacity="0.35"/>
<rect x="119.5" y="376.7" width="0.9" height="0.9" fill="#b8bee6" opacity="0.35"/>
<rect x="97.0" y="376.0" width="0.9" height="0.9" fill="#b8bee6" opacity="0.35"/>
<rect x="109.5" y="393.0" width="0.9" height="0.9" fill="#b8bee6" opacity="0.35"/>
<rect x="162.5" y="387.4" width="0.9" height="0.9" fill="#b8bee6" opacity="0.35"/>
<rect x="178.3" y="378.3" width="0.9" height="0.9" fill="#b8bee6" opacity="0.35"/>
<rect x="182.3" y="393.2" width="0.9" height="0.9" fill="#b8bee6" opacity="0.35"/>
<rect x="174.9" y="387.6" width="0.9" height="0.9" fill="#b8bee6" opacity="0.35"/>
<rect x="180.9" y="390.9" width="0.9" height="0.9" fill="#b8bee6" opacity="0.35"/>
<rect x="176.3" y="373.1" width="0.9" height="0.9" fill="#b8bee6" opacity="0.35"/>
<rect x="172.5" y="403.6" width="0.9" height="0.9" fill="#b8bee6" opacity="0.35"/>
<rect x="175.1" y="378.1" width="0.9" height="0.9" fill="#b8bee6" opacity="0.35"/>
<rect x="167.5" y="399.4" width="0.9" height="0.9" fill="#b8bee6" opacity="0.35"/>
<rect x="189.1" y="380.8" width="0.9" height="0.9" fill="#b8bee6" opacity="0.35"/>
<rect x="179.8" y="373.5" width="0.9" height="0.9" fill="#b8bee6" opacity="0.35"/>
<rect x="171.3" y="398.2" width="0.9" height="0.9" fill="#b8bee6" opacity="0.35"/>
<rect x="158.0" y="390.8" width="0.9" height="0.9" fill="#b8bee6" opacity="0.35"/>
<rect x="163.5" y="385.1" width="0.9" height="0.9" fill="#b8bee6" opacity="0.35"/>
<rect x="171.5" y="382.9" width="0.9" height="0.9" fill="#b8bee6" opacity="0.35"/>
<rect x="165.2" y="392.1" width="0.9" height="0.9" fill="#b8bee6" opacity="0.35"/>
<rect x="174.0" y="383.5" width="0.9" height="0.9" fill="#b8bee6" opacity="0.35"/>
<rect x="150.5" y="373.3" width="0.9" height="0.9" fill="#b8bee6" opacity="0.35"/>
<rect x="153.8" y="369.8" width="0.9" height="0.9" fill="#b8bee6" opacity="0.35"/>
<rect x="161.9" y="391.2" width="0.9" height="0.9" fill="#b8bee6" opacity="0.35"/>
<rect x="163.6" y="391.5" width="0.9" height="0.9" fill="#b8bee6" opacity="0.35"/>
<rect x="167.5" y="387.8" width="0.9" height="0.9" fill="#b8bee6" opacity="0.35"/>
<rect x="184.1" y="383.0" width="0.9" height="0.9" fill="#b8bee6" opacity="0.35"/>
<rect x="164.7" y="373.4" width="0.9" height="0.9" fill="#b8bee6" opacity="0.35"/>
<rect x="171.5" y="391.4" width="0.9" height="0.9" fill="#b8bee6" opacity="0.35"/>
<path d="M43,321.8 H209 M43,364.9 H209 M43,408.6 H209 M43,321.8 V409.2 M97.9,321.8 V409.2 M153.3,321.8 V409.2" stroke="#868686" stroke-width="1.3" fill="none"/>
<text x="90.70" y="332.80" font-size="7.6" text-anchor="end" font-weight="normal" font-style="normal" fill="#222" textLength="12.9" lengthAdjust="spacingAndGlyphs" >33.7</text>
<text x="151.10" y="332.80" font-size="7.6" text-anchor="end" font-weight="normal" font-style="normal" fill="#222" textLength="12.2" lengthAdjust="spacingAndGlyphs" >34.1</text>
<text x="207.00" y="332.80" font-size="7.6" text-anchor="end" font-weight="normal" font-style="normal" fill="#222" textLength="12.7" lengthAdjust="spacingAndGlyphs" >34.1</text>
<text x="90.40" y="373.60" font-size="7.6" text-anchor="end" font-weight="normal" font-style="normal" fill="#222" textLength="13.7" lengthAdjust="spacingAndGlyphs" >30.6</text>
<text x="150.00" y="373.60" font-size="7.6" text-anchor="end" font-weight="normal" font-style="normal" fill="#222" textLength="13" lengthAdjust="spacingAndGlyphs" >23.4</text>
<text x="205.70" y="373.70" font-size="7.6" text-anchor="end" font-weight="normal" font-style="normal" fill="#222" textLength="9.5" lengthAdjust="spacingAndGlyphs" >3.9</text>
<path d="M21.4,342.5 V357.6 H31.4" stroke="#111" stroke-width="1.1" fill="none"/>
<path d="M19,343 L21.4,339 L23.8,343 Z" fill="#111"/>
<path d="M30.9,355.20000000000005 L34.9,357.6 L30.9,360.0 Z" fill="#111"/>
<path d="M21.4,385.0 V398.7 H32.5" stroke="#111" stroke-width="1.1" fill="none"/>
<path d="M19,385.5 L21.4,381.5 L23.8,385.5 Z" fill="#111"/>
<path d="M32,396.3 L36,398.7 L32,401.09999999999997 Z" fill="#111"/>
<text transform="translate(16.40,347.90) rotate(-90)" x="0" y="0" font-size="10" text-anchor="middle" fill="#333" textLength="12" lengthAdjust="spacingAndGlyphs">SSC</text>
<text transform="translate(16.40,389.10) rotate(-90)" x="0" y="0" font-size="10" text-anchor="middle" fill="#333" textLength="22" lengthAdjust="spacingAndGlyphs">CD138</text>
<text x="19.60" y="369.10" font-size="9.2" text-anchor="start" font-weight="normal" font-style="normal" fill="#2a2a2a" textLength="17.5" lengthAdjust="spacingAndGlyphs" >B220</text>
<text x="19.60" y="409.10" font-size="9.2" text-anchor="start" font-weight="normal" font-style="normal" fill="#2a2a2a" textLength="17.5" lengthAdjust="spacingAndGlyphs" >B220</text>
<line x1="252.4" y1="313.7" x2="252.4" y2="398.3" stroke="#222" stroke-width="1.4"/>
<line x1="251.70000000000002" y1="398.3" x2="307" y2="398.3" stroke="#222" stroke-width="1.4"/>
<line x1="248.9" y1="315.8" x2="252.4" y2="315.8" stroke="#222" stroke-width="1"/>
<text x="246.90" y="318.79" font-size="8.3" text-anchor="end" font-weight="normal" font-style="normal" fill="#333" >60</text>
<line x1="248.9" y1="343.3" x2="252.4" y2="343.3" stroke="#222" stroke-width="1"/>
<text x="246.90" y="346.29" font-size="8.3" text-anchor="end" font-weight="normal" font-style="normal" fill="#333" >40</text>
<line x1="248.9" y1="370.8" x2="252.4" y2="370.8" stroke="#222" stroke-width="1"/>
<text x="246.90" y="373.79" font-size="8.3" text-anchor="end" font-weight="normal" font-style="normal" fill="#333" >20</text>
<line x1="248.9" y1="398.3" x2="252.4" y2="398.3" stroke="#222" stroke-width="1"/>
<text x="246.90" y="401.29" font-size="8.3" text-anchor="end" font-weight="normal" font-style="normal" fill="#333" >0</text>
<rect x="259.20" y="336.50" width="12.00" height="61.80" fill="#8d93b9"/>
<rect x="274.10" y="342.10" width="12.00" height="56.20" fill="#efc58d"/>
<rect x="289.50" y="358.20" width="12.00" height="40.10" fill="#b8d49e"/>
<line x1="265.20" y1="326.60" x2="265.20" y2="346.30" stroke="#1f3d80" stroke-width="1"/>
<line x1="262.20" y1="326.60" x2="268.20" y2="326.60" stroke="#1f3d80" stroke-width="1"/>
<line x1="262.20" y1="346.30" x2="268.20" y2="346.30" stroke="#1f3d80" stroke-width="1"/>
<circle cx="265.00" cy="318.20" r="1.75" fill="#1f3d80"/>
<circle cx="262.50" cy="330.50" r="1.75" fill="#1f3d80"/>
<circle cx="269.50" cy="330.50" r="1.75" fill="#1f3d80"/>
<circle cx="262.00" cy="335.50" r="1.75" fill="#1f3d80"/>
<circle cx="267.50" cy="335.50" r="1.75" fill="#1f3d80"/>
<circle cx="266.50" cy="339.50" r="1.75" fill="#1f3d80"/>
<circle cx="261.00" cy="342.00" r="1.75" fill="#1f3d80"/>
<circle cx="265.00" cy="343.00" r="1.75" fill="#1f3d80"/>
<circle cx="269.00" cy="343.00" r="1.75" fill="#1f3d80"/>
<circle cx="265.00" cy="352.50" r="1.75" fill="#1f3d80"/>
<line x1="280.10" y1="325.80" x2="280.10" y2="357.40" stroke="#e38b19" stroke-width="1"/>
<line x1="277.10" y1="325.80" x2="283.10" y2="325.80" stroke="#e38b19" stroke-width="1"/>
<line x1="277.10" y1="357.40" x2="283.10" y2="357.40" stroke="#e38b19" stroke-width="1"/>
<circle cx="280.00" cy="321.80" r="1.75" fill="#e38b19"/>
<circle cx="276.50" cy="329.50" r="1.75" fill="#e38b19"/>
<circle cx="280.00" cy="331.00" r="1.75" fill="#e38b19"/>
<circle cx="283.50" cy="331.00" r="1.75" fill="#e38b19"/>
<circle cx="280.00" cy="337.50" r="1.75" fill="#e38b19"/>
<circle cx="280.00" cy="347.00" r="1.75" fill="#e38b19"/>
<circle cx="277.50" cy="351.50" r="1.75" fill="#e38b19"/>
<circle cx="282.50" cy="354.00" r="1.75" fill="#e38b19"/>
<circle cx="280.00" cy="372.50" r="1.75" fill="#e38b19"/>
<line x1="295.50" y1="351.90" x2="295.50" y2="364.50" stroke="#5ba73a" stroke-width="1"/>
<line x1="292.50" y1="351.90" x2="298.50" y2="351.90" stroke="#5ba73a" stroke-width="1"/>
<line x1="292.50" y1="364.50" x2="298.50" y2="364.50" stroke="#5ba73a" stroke-width="1"/>
<circle cx="292.00" cy="351.80" r="1.75" fill="#5ba73a"/>
<circle cx="299.50" cy="351.80" r="1.75" fill="#5ba73a"/>
<circle cx="291.00" cy="359.80" r="1.75" fill="#5ba73a"/>
<circle cx="301.00" cy="363.50" r="1.75" fill="#5ba73a"/>
<circle cx="295.50" cy="364.80" r="1.75" fill="#5ba73a"/>
<circle cx="295.80" cy="341.30" r="1.15" fill="#111"/>
<circle cx="295.80" cy="344.90" r="1.15" fill="#111"/>
<text transform="translate(232.30,357.20) rotate(-90)" x="0" y="0" font-size="8.8" text-anchor="middle" fill="#333" textLength="17" lengthAdjust="spacingAndGlyphs">% PB</text>
<text x="280.1" y="408.8" font-size="8.5" text-anchor="middle" fill="#333">B220<tspan font-size="5.5" dy="-3">+</tspan></text>
<line x1="351.4" y1="313.9" x2="351.4" y2="398.3" stroke="#222" stroke-width="1.4"/>
<line x1="350.7" y1="398.3" x2="406" y2="398.3" stroke="#222" stroke-width="1.4"/>
<line x1="347.9" y1="316.1" x2="351.4" y2="316.1" stroke="#222" stroke-width="1"/>
<text x="345.90" y="319.09" font-size="8.3" text-anchor="end" font-weight="normal" font-style="normal" fill="#333" >40</text>
<line x1="347.9" y1="336.65000000000003" x2="351.4" y2="336.65000000000003" stroke="#222" stroke-width="1"/>
<text x="345.90" y="339.64" font-size="8.3" text-anchor="end" font-weight="normal" font-style="normal" fill="#333" >30</text>
<line x1="347.9" y1="357.20000000000005" x2="351.4" y2="357.20000000000005" stroke="#222" stroke-width="1"/>
<text x="345.90" y="360.19" font-size="8.3" text-anchor="end" font-weight="normal" font-style="normal" fill="#333" >20</text>
<line x1="347.9" y1="377.75" x2="351.4" y2="377.75" stroke="#222" stroke-width="1"/>
<text x="345.90" y="380.74" font-size="8.3" text-anchor="end" font-weight="normal" font-style="normal" fill="#333" >10</text>
<line x1="347.9" y1="398.3" x2="351.4" y2="398.3" stroke="#222" stroke-width="1"/>
<text x="345.90" y="401.29" font-size="8.3" text-anchor="end" font-weight="normal" font-style="normal" fill="#333" >0</text>
<rect x="357.90" y="344.80" width="12.00" height="53.50" fill="#8d93b9"/>
<rect x="372.90" y="365.00" width="12.00" height="33.30" fill="#efc58d"/>
<rect x="388.20" y="376.40" width="12.00" height="21.90" fill="#b8d49e"/>
<line x1="363.90" y1="333.40" x2="363.90" y2="355.50" stroke="#1f3d80" stroke-width="1"/>
<line x1="360.90" y1="333.40" x2="366.90" y2="333.40" stroke="#1f3d80" stroke-width="1"/>
<line x1="360.90" y1="355.50" x2="366.90" y2="355.50" stroke="#1f3d80" stroke-width="1"/>
<circle cx="363.40" cy="329.70" r="1.75" fill="#1f3d80"/>
<circle cx="361.00" cy="333.70" r="1.75" fill="#1f3d80"/>
<circle cx="368.60" cy="335.30" r="1.75" fill="#1f3d80"/>
<circle cx="365.80" cy="339.20" r="1.75" fill="#1f3d80"/>
<circle cx="361.00" cy="342.40" r="1.75" fill="#1f3d80"/>
<circle cx="359.80" cy="352.30" r="1.75" fill="#1f3d80"/>
<circle cx="363.40" cy="352.30" r="1.75" fill="#1f3d80"/>
<circle cx="367.00" cy="351.40" r="1.75" fill="#1f3d80"/>
<circle cx="363.40" cy="363.70" r="1.75" fill="#1f3d80"/>
<line x1="378.90" y1="353.00" x2="378.90" y2="376.00" stroke="#e38b19" stroke-width="1"/>
<line x1="375.90" y1="353.00" x2="381.90" y2="353.00" stroke="#e38b19" stroke-width="1"/>
<line x1="375.90" y1="376.00" x2="381.90" y2="376.00" stroke="#e38b19" stroke-width="1"/>
<circle cx="381.60" cy="345.50" r="1.75" fill="#e38b19"/>
<circle cx="376.10" cy="350.30" r="1.75" fill="#e38b19"/>
<circle cx="376.10" cy="359.80" r="1.75" fill="#e38b19"/>
<circle cx="381.30" cy="360.20" r="1.75" fill="#e38b19"/>
<circle cx="378.80" cy="368.50" r="1.75" fill="#e38b19"/>
<circle cx="375.30" cy="372.40" r="1.75" fill="#e38b19"/>
<circle cx="382.40" cy="370.80" r="1.75" fill="#e38b19"/>
<circle cx="378.80" cy="381.10" r="1.75" fill="#e38b19"/>
<line x1="394.20" y1="366.10" x2="394.20" y2="386.10" stroke="#5ba73a" stroke-width="1"/>
<line x1="391.20" y1="366.10" x2="397.20" y2="366.10" stroke="#5ba73a" stroke-width="1"/>
<line x1="391.20" y1="386.10" x2="397.20" y2="386.10" stroke="#5ba73a" stroke-width="1"/>
<circle cx="396.60" cy="365.00" r="1.75" fill="#5ba73a"/>
<circle cx="391.40" cy="369.20" r="1.75" fill="#5ba73a"/>
<circle cx="391.40" cy="376.70" r="1.75" fill="#5ba73a"/>
<circle cx="396.30" cy="380.80" r="1.75" fill="#5ba73a"/>
<circle cx="393.90" cy="390.60" r="1.75" fill="#5ba73a"/>
<circle cx="378.90" cy="335.30" r="1.15" fill="#111"/>
<circle cx="378.90" cy="338.90" r="1.15" fill="#111"/>
<circle cx="394.20" cy="355.00" r="1.15" fill="#111"/>
<circle cx="394.20" cy="358.60" r="1.15" fill="#111"/>
<text transform="translate(329.80,357.35) rotate(-90)" x="0" y="0" font-size="8.8" text-anchor="middle" fill="#333" textLength="29.5" lengthAdjust="spacingAndGlyphs">% B220<tspan font-size="5.8" dy="-3">+</tspan></text>
<text x="379.4" y="409" font-size="8.5" text-anchor="middle" fill="#333">CD138<tspan font-size="5.5" dy="-3">+</tspan></text>
<line x1="454.6" y1="313.7" x2="454.6" y2="398.3" stroke="#222" stroke-width="1.4"/>
<line x1="453.90000000000003" y1="398.3" x2="508.8" y2="398.3" stroke="#222" stroke-width="1.4"/>
<line x1="451.1" y1="316.1" x2="454.6" y2="316.1" stroke="#222" stroke-width="1"/>
<text x="449.10" y="319.09" font-size="8.3" text-anchor="end" font-weight="normal" font-style="normal" fill="#333" >160</text>
<line x1="451.1" y1="336.65000000000003" x2="454.6" y2="336.65000000000003" stroke="#222" stroke-width="1"/>
<text x="449.10" y="339.64" font-size="8.3" text-anchor="end" font-weight="normal" font-style="normal" fill="#333" >120</text>
<line x1="451.1" y1="357.20000000000005" x2="454.6" y2="357.20000000000005" stroke="#222" stroke-width="1"/>
<text x="449.10" y="360.19" font-size="8.3" text-anchor="end" font-weight="normal" font-style="normal" fill="#333" >80</text>
<line x1="451.1" y1="377.75" x2="454.6" y2="377.75" stroke="#222" stroke-width="1"/>
<text x="449.10" y="380.74" font-size="8.3" text-anchor="end" font-weight="normal" font-style="normal" fill="#333" >40</text>
<line x1="451.1" y1="398.3" x2="454.6" y2="398.3" stroke="#222" stroke-width="1"/>
<text x="449.10" y="401.29" font-size="8.3" text-anchor="end" font-weight="normal" font-style="normal" fill="#333" >0</text>
<rect x="461.20" y="351.00" width="11.80" height="47.30" fill="#8d93b9"/>
<rect x="476.20" y="339.20" width="11.80" height="59.10" fill="#efc58d"/>
<rect x="491.20" y="366.10" width="11.80" height="32.20" fill="#b8d49e"/>
<line x1="467.10" y1="338.10" x2="467.10" y2="364.50" stroke="#1f3d80" stroke-width="1"/>
<line x1="464.10" y1="338.10" x2="470.10" y2="338.10" stroke="#1f3d80" stroke-width="1"/>
<line x1="464.10" y1="364.50" x2="470.10" y2="364.50" stroke="#1f3d80" stroke-width="1"/>
<circle cx="466.90" cy="326.60" r="1.75" fill="#1f3d80"/>
<circle cx="466.90" cy="333.40" r="1.75" fill="#1f3d80"/>
<circle cx="464.40" cy="339.20" r="1.75" fill="#1f3d80"/>
<circle cx="469.30" cy="338.10" r="1.75" fill="#1f3d80"/>
<circle cx="467.20" cy="350.30" r="1.75" fill="#1f3d80"/>
<circle cx="468.80" cy="352.30" r="1.75" fill="#1f3d80"/>
<circle cx="464.40" cy="356.10" r="1.75" fill="#1f3d80"/>
<circle cx="470.40" cy="356.60" r="1.75" fill="#1f3d80"/>
<circle cx="463.30" cy="360.50" r="1.75" fill="#1f3d80"/>
<circle cx="467.50" cy="361.30" r="1.75" fill="#1f3d80"/>
<circle cx="464.10" cy="368.10" r="1.75" fill="#1f3d80"/>
<circle cx="468.80" cy="367.20" r="1.75" fill="#1f3d80"/>
<line x1="482.10" y1="324.50" x2="482.10" y2="353.00" stroke="#e38b19" stroke-width="1"/>
<line x1="479.10" y1="324.50" x2="485.10" y2="324.50" stroke="#e38b19" stroke-width="1"/>
<line x1="479.10" y1="353.00" x2="485.10" y2="353.00" stroke="#e38b19" stroke-width="1"/>
<circle cx="478.00" cy="320.30" r="1.75" fill="#e38b19"/>
<circle cx="481.40" cy="320.30" r="1.75" fill="#e38b19"/>
<circle cx="485.40" cy="317.90" r="1.75" fill="#e38b19"/>
<circle cx="479.90" cy="334.20" r="1.75" fill="#e38b19"/>
<circle cx="484.60" cy="332.10" r="1.75" fill="#e38b19"/>
<circle cx="478.30" cy="342.40" r="1.75" fill="#e38b19"/>
<circle cx="485.40" cy="344.00" r="1.75" fill="#e38b19"/>
<circle cx="481.80" cy="346.30" r="1.75" fill="#e38b19"/>
<circle cx="481.80" cy="352.30" r="1.75" fill="#e38b19"/>
<circle cx="484.60" cy="356.60" r="1.75" fill="#e38b19"/>
<circle cx="479.50" cy="360.60" r="1.75" fill="#e38b19"/>
<line x1="497.10" y1="357.10" x2="497.10" y2="376.40" stroke="#5ba73a" stroke-width="1"/>
<line x1="494.10" y1="357.10" x2="500.10" y2="357.10" stroke="#5ba73a" stroke-width="1"/>
<line x1="494.10" y1="376.40" x2="500.10" y2="376.40" stroke="#5ba73a" stroke-width="1"/>
<circle cx="497.50" cy="352.30" r="1.75" fill="#5ba73a"/>
<circle cx="493.80" cy="355.80" r="1.75" fill="#5ba73a"/>
<circle cx="501.20" cy="355.00" r="1.75" fill="#5ba73a"/>
<circle cx="497.50" cy="364.00" r="1.75" fill="#5ba73a"/>
<circle cx="494.90" cy="368.50" r="1.75" fill="#5ba73a"/>
<circle cx="498.80" cy="369.70" r="1.75" fill="#5ba73a"/>
<circle cx="494.10" cy="376.00" r="1.75" fill="#5ba73a"/>
<circle cx="497.50" cy="377.90" r="1.75" fill="#5ba73a"/>
<circle cx="500.90" cy="376.40" r="1.75" fill="#5ba73a"/>
<circle cx="497.50" cy="342.90" r="1.15" fill="#111"/>
<circle cx="497.50" cy="346.50" r="1.15" fill="#111"/>
<text transform="translate(429.50,356.75) rotate(-90)" x="0" y="0" font-size="8.8" text-anchor="middle" fill="#333" textLength="72.5" lengthAdjust="spacingAndGlyphs">ASC/1.76 x 10<tspan font-size="5.8" dy="-3">6</tspan><tspan dy="3"> SRBC</tspan></text>
<line x1="38.7" y1="450.3" x2="38.7" y2="535.3" stroke="#222" stroke-width="1.4"/>
<line x1="38.0" y1="535.3" x2="202.9" y2="535.3" stroke="#222" stroke-width="1.4"/>
<line x1="35.2" y1="453.29999999999995" x2="38.7" y2="453.29999999999995" stroke="#222" stroke-width="1"/>
<text x="33.20" y="456.29" font-size="8.3" text-anchor="end" font-weight="normal" font-style="normal" fill="#333" >2.0</text>
<line x1="35.2" y1="473.79999999999995" x2="38.7" y2="473.79999999999995" stroke="#222" stroke-width="1"/>
<text x="33.20" y="476.79" font-size="8.3" text-anchor="end" font-weight="normal" font-style="normal" fill="#333" >1.5</text>
<line x1="35.2" y1="494.29999999999995" x2="38.7" y2="494.29999999999995" stroke="#222" stroke-width="1"/>
<text x="33.20" y="497.29" font-size="8.3" text-anchor="end" font-weight="normal" font-style="normal" fill="#333" >1.0</text>
<line x1="35.2" y1="514.8" x2="38.7" y2="514.8" stroke="#222" stroke-width="1"/>
<text x="33.20" y="517.79" font-size="8.3" text-anchor="end" font-weight="normal" font-style="normal" fill="#333" >0.5</text>
<line x1="35.2" y1="535.3" x2="38.7" y2="535.3" stroke="#222" stroke-width="1"/>
<text x="33.20" y="538.29" font-size="8.3" text-anchor="end" font-weight="normal" font-style="normal" fill="#333" >0.0</text>
<text x="38.90" y="444.70" font-size="10" text-anchor="start" font-weight="normal" font-style="normal" fill="#111" textLength="24.3" lengthAdjust="spacingAndGlyphs" >Day 0</text>
<rect x="41.70" y="494.30" width="5.90" height="41.00" fill="#8d93b9"/>
<rect x="47.95" y="490.20" width="5.90" height="45.10" fill="#efc58d"/>
<rect x="54.20" y="490.20" width="5.90" height="45.10" fill="#b8d49e"/>
<line x1="44.65" y1="486.10" x2="44.65" y2="502.50" stroke="#1f3d80" stroke-width="0.9"/>
<line x1="42.85" y1="486.10" x2="46.45" y2="486.10" stroke="#1f3d80" stroke-width="0.9"/>
<line x1="42.85" y1="502.50" x2="46.45" y2="502.50" stroke="#1f3d80" stroke-width="0.9"/>
<circle cx="44.50" cy="485.50" r="1.45" fill="#1f3d80"/>
<circle cx="45.30" cy="486.80" r="1.45" fill="#1f3d80"/>
<circle cx="41.60" cy="492.90" r="1.45" fill="#1f3d80"/>
<circle cx="46.10" cy="495.70" r="1.45" fill="#1f3d80"/>
<circle cx="44.50" cy="501.30" r="1.45" fill="#1f3d80"/>
<circle cx="43.70" cy="502.90" r="1.45" fill="#1f3d80"/>
<circle cx="45.30" cy="498.90" r="1.45" fill="#1f3d80"/>
<line x1="50.90" y1="481.18" x2="50.90" y2="499.22" stroke="#e38b19" stroke-width="0.9"/>
<line x1="49.10" y1="481.18" x2="52.70" y2="481.18" stroke="#e38b19" stroke-width="0.9"/>
<line x1="49.10" y1="499.22" x2="52.70" y2="499.22" stroke="#e38b19" stroke-width="0.9"/>
<circle cx="50.60" cy="481.10" r="1.45" fill="#e38b19"/>
<circle cx="50.60" cy="486.80" r="1.45" fill="#e38b19"/>
<circle cx="50.60" cy="491.60" r="1.45" fill="#e38b19"/>
<circle cx="50.60" cy="496.50" r="1.45" fill="#e38b19"/>
<circle cx="49.60" cy="501.30" r="1.45" fill="#e38b19"/>
<line x1="57.15" y1="479.54" x2="57.15" y2="500.86" stroke="#5ba73a" stroke-width="0.9"/>
<line x1="55.35" y1="479.54" x2="58.95" y2="479.54" stroke="#5ba73a" stroke-width="0.9"/>
<line x1="55.35" y1="500.86" x2="58.95" y2="500.86" stroke="#5ba73a" stroke-width="0.9"/>
<circle cx="56.10" cy="477.90" r="1.45" fill="#5ba73a"/>
<circle cx="57.40" cy="481.90" r="1.45" fill="#5ba73a"/>
<circle cx="54.20" cy="492.40" r="1.45" fill="#5ba73a"/>
<circle cx="58.20" cy="494.00" r="1.45" fill="#5ba73a"/>
<circle cx="59.00" cy="498.90" r="1.45" fill="#5ba73a"/>
<circle cx="55.40" cy="502.60" r="1.45" fill="#5ba73a"/>
<line x1="50.90" y1="535.3" x2="50.90" y2="539.0999999999999" stroke="#222" stroke-width="1"/>
<text transform="translate(53.90,545.80) rotate(-45)" x="0" y="0" font-size="8.6" text-anchor="end" fill="#333">IgG1</text>
<rect x="61.68" y="494.71" width="5.90" height="40.59" fill="#8d93b9"/>
<rect x="67.93" y="482.00" width="5.90" height="53.30" fill="#efc58d"/>
<rect x="74.18" y="482.82" width="5.90" height="52.48" fill="#b8d49e"/>
<line x1="64.63" y1="488.15" x2="64.63" y2="501.27" stroke="#1f3d80" stroke-width="0.9"/>
<line x1="62.83" y1="488.15" x2="66.43" y2="488.15" stroke="#1f3d80" stroke-width="0.9"/>
<line x1="62.83" y1="501.27" x2="66.43" y2="501.27" stroke="#1f3d80" stroke-width="0.9"/>
<circle cx="67.10" cy="485.60" r="1.45" fill="#1f3d80"/>
<circle cx="63.00" cy="487.60" r="1.45" fill="#1f3d80"/>
<circle cx="62.20" cy="491.60" r="1.45" fill="#1f3d80"/>
<circle cx="66.30" cy="494.80" r="1.45" fill="#1f3d80"/>
<circle cx="64.70" cy="496.50" r="1.45" fill="#1f3d80"/>
<circle cx="66.80" cy="500.50" r="1.45" fill="#1f3d80"/>
<circle cx="63.00" cy="502.90" r="1.45" fill="#1f3d80"/>
<line x1="70.88" y1="473.80" x2="70.88" y2="490.20" stroke="#e38b19" stroke-width="0.9"/>
<line x1="69.08" y1="473.80" x2="72.68" y2="473.80" stroke="#e38b19" stroke-width="0.9"/>
<line x1="69.08" y1="490.20" x2="72.68" y2="490.20" stroke="#e38b19" stroke-width="0.9"/>
<circle cx="70.80" cy="477.10" r="1.45" fill="#e38b19"/>
<circle cx="71.90" cy="477.90" r="1.45" fill="#e38b19"/>
<circle cx="70.80" cy="482.70" r="1.45" fill="#e38b19"/>
<circle cx="70.80" cy="490.00" r="1.45" fill="#e38b19"/>
<line x1="77.13" y1="460.27" x2="77.13" y2="505.37" stroke="#5ba73a" stroke-width="0.9"/>
<line x1="75.33" y1="460.27" x2="78.93" y2="460.27" stroke="#5ba73a" stroke-width="0.9"/>
<line x1="75.33" y1="505.37" x2="78.93" y2="505.37" stroke="#5ba73a" stroke-width="0.9"/>
<circle cx="76.80" cy="469.00" r="1.45" fill="#5ba73a"/>
<circle cx="75.50" cy="479.50" r="1.45" fill="#5ba73a"/>
<circle cx="79.70" cy="477.90" r="1.45" fill="#5ba73a"/>
<circle cx="76.80" cy="490.80" r="1.45" fill="#5ba73a"/>
<circle cx="78.10" cy="500.50" r="1.45" fill="#5ba73a"/>
<circle cx="75.50" cy="507.00" r="1.45" fill="#5ba73a"/>
<circle cx="79.70" cy="505.40" r="1.45" fill="#5ba73a"/>
<line x1="70.88" y1="535.3" x2="70.88" y2="539.0999999999999" stroke="#222" stroke-width="1"/>
<text transform="translate(73.88,545.80) rotate(-45)" x="0" y="0" font-size="8.6" text-anchor="end" fill="#333">IgG2a</text>
<rect x="81.66" y="494.30" width="5.90" height="41.00" fill="#8d93b9"/>
<rect x="87.91" y="486.10" width="5.90" height="49.20" fill="#efc58d"/>
<rect x="94.16" y="497.17" width="5.90" height="38.13" fill="#b8d49e"/>
<line x1="84.61" y1="487.33" x2="84.61" y2="501.27" stroke="#1f3d80" stroke-width="0.9"/>
<line x1="82.81" y1="487.33" x2="86.41" y2="487.33" stroke="#1f3d80" stroke-width="0.9"/>
<line x1="82.81" y1="501.27" x2="86.41" y2="501.27" stroke="#1f3d80" stroke-width="0.9"/>
<circle cx="87.30" cy="487.10" r="1.45" fill="#1f3d80"/>
<circle cx="83.20" cy="488.70" r="1.45" fill="#1f3d80"/>
<circle cx="85.30" cy="493.20" r="1.45" fill="#1f3d80"/>
<circle cx="82.40" cy="494.00" r="1.45" fill="#1f3d80"/>
<circle cx="87.30" cy="494.80" r="1.45" fill="#1f3d80"/>
<circle cx="86.50" cy="499.70" r="1.45" fill="#1f3d80"/>
<circle cx="84.00" cy="497.30" r="1.45" fill="#1f3d80"/>
<line x1="90.86" y1="473.80" x2="90.86" y2="498.40" stroke="#e38b19" stroke-width="0.9"/>
<line x1="89.06" y1="473.80" x2="92.66" y2="473.80" stroke="#e38b19" stroke-width="0.9"/>
<line x1="89.06" y1="498.40" x2="92.66" y2="498.40" stroke="#e38b19" stroke-width="0.9"/>
<circle cx="90.50" cy="473.00" r="1.45" fill="#e38b19"/>
<circle cx="90.50" cy="482.70" r="1.45" fill="#e38b19"/>
<circle cx="89.40" cy="487.60" r="1.45" fill="#e38b19"/>
<circle cx="90.50" cy="492.40" r="1.45" fill="#e38b19"/>
<circle cx="90.50" cy="496.10" r="1.45" fill="#e38b19"/>
<line x1="97.11" y1="473.80" x2="97.11" y2="520.54" stroke="#5ba73a" stroke-width="0.9"/>
<line x1="95.31" y1="473.80" x2="98.91" y2="473.80" stroke="#5ba73a" stroke-width="0.9"/>
<line x1="95.31" y1="520.54" x2="98.91" y2="520.54" stroke="#5ba73a" stroke-width="0.9"/>
<circle cx="94.50" cy="475.50" r="1.45" fill="#5ba73a"/>
<circle cx="98.60" cy="477.10" r="1.45" fill="#5ba73a"/>
<circle cx="97.00" cy="486.80" r="1.45" fill="#5ba73a"/>
<circle cx="97.00" cy="493.20" r="1.45" fill="#5ba73a"/>
<circle cx="97.00" cy="502.10" r="1.45" fill="#5ba73a"/>
<circle cx="97.00" cy="514.20" r="1.45" fill="#5ba73a"/>
<circle cx="97.00" cy="525.90" r="1.45" fill="#5ba73a"/>
<line x1="90.86" y1="535.3" x2="90.86" y2="539.0999999999999" stroke="#222" stroke-width="1"/>
<text transform="translate(93.86,545.80) rotate(-45)" x="0" y="0" font-size="8.6" text-anchor="end" fill="#333">IgG2b</text>
<rect x="101.64" y="494.71" width="5.90" height="40.59" fill="#8d93b9"/>
<rect x="107.89" y="486.92" width="5.90" height="48.38" fill="#efc58d"/>
<rect x="114.14" y="492.25" width="5.90" height="43.05" fill="#b8d49e"/>
<line x1="104.59" y1="485.28" x2="104.59" y2="504.14" stroke="#1f3d80" stroke-width="0.9"/>
<line x1="102.79" y1="485.28" x2="106.39" y2="485.28" stroke="#1f3d80" stroke-width="0.9"/>
<line x1="102.79" y1="504.14" x2="106.39" y2="504.14" stroke="#1f3d80" stroke-width="0.9"/>
<circle cx="104.60" cy="482.70" r="1.45" fill="#1f3d80"/>
<circle cx="103.90" cy="489.20" r="1.45" fill="#1f3d80"/>
<circle cx="105.00" cy="491.60" r="1.45" fill="#1f3d80"/>
<circle cx="103.40" cy="496.50" r="1.45" fill="#1f3d80"/>
<circle cx="104.20" cy="499.70" r="1.45" fill="#1f3d80"/>
<circle cx="104.20" cy="505.80" r="1.45" fill="#1f3d80"/>
<line x1="110.84" y1="482.82" x2="110.84" y2="491.02" stroke="#e38b19" stroke-width="0.9"/>
<line x1="109.04" y1="482.82" x2="112.64" y2="482.82" stroke="#e38b19" stroke-width="0.9"/>
<line x1="109.04" y1="491.02" x2="112.64" y2="491.02" stroke="#e38b19" stroke-width="0.9"/>
<circle cx="109.10" cy="487.60" r="1.45" fill="#e38b19"/>
<circle cx="111.50" cy="487.30" r="1.45" fill="#e38b19"/>
<circle cx="113.10" cy="488.40" r="1.45" fill="#e38b19"/>
<circle cx="112.30" cy="490.30" r="1.45" fill="#e38b19"/>
<circle cx="110.40" cy="489.20" r="1.45" fill="#e38b19"/>
<line x1="117.09" y1="479.95" x2="117.09" y2="504.55" stroke="#5ba73a" stroke-width="0.9"/>
<line x1="115.29" y1="479.95" x2="118.89" y2="479.95" stroke="#5ba73a" stroke-width="0.9"/>
<line x1="115.29" y1="504.55" x2="118.89" y2="504.55" stroke="#5ba73a" stroke-width="0.9"/>
<circle cx="115.50" cy="479.50" r="1.45" fill="#5ba73a"/>
<circle cx="119.60" cy="477.90" r="1.45" fill="#5ba73a"/>
<circle cx="116.80" cy="486.00" r="1.45" fill="#5ba73a"/>
<circle cx="117.20" cy="490.80" r="1.45" fill="#5ba73a"/>
<circle cx="116.40" cy="500.50" r="1.45" fill="#5ba73a"/>
<circle cx="115.50" cy="509.10" r="1.45" fill="#5ba73a"/>
<line x1="110.84" y1="535.3" x2="110.84" y2="539.0999999999999" stroke="#222" stroke-width="1"/>
<text transform="translate(113.84,545.80) rotate(-45)" x="0" y="0" font-size="8.6" text-anchor="end" fill="#333">IgG3</text>
<rect x="121.62" y="495.53" width="5.90" height="39.77" fill="#8d93b9"/>
<rect x="127.87" y="490.20" width="5.90" height="45.10" fill="#efc58d"/>
<rect x="134.12" y="496.76" width="5.90" height="38.54" fill="#b8d49e"/>
<line x1="124.57" y1="491.43" x2="124.57" y2="499.63" stroke="#1f3d80" stroke-width="0.9"/>
<line x1="122.77" y1="491.43" x2="126.37" y2="491.43" stroke="#1f3d80" stroke-width="0.9"/>
<line x1="122.77" y1="499.63" x2="126.37" y2="499.63" stroke="#1f3d80" stroke-width="0.9"/>
<circle cx="122.40" cy="490.30" r="1.45" fill="#1f3d80"/>
<circle cx="125.70" cy="491.60" r="1.45" fill="#1f3d80"/>
<circle cx="127.30" cy="490.80" r="1.45" fill="#1f3d80"/>
<circle cx="123.20" cy="495.70" r="1.45" fill="#1f3d80"/>
<circle cx="125.70" cy="496.50" r="1.45" fill="#1f3d80"/>
<circle cx="124.50" cy="494.00" r="1.45" fill="#1f3d80"/>
<circle cx="127.30" cy="494.80" r="1.45" fill="#1f3d80"/>
<line x1="130.82" y1="485.28" x2="130.82" y2="495.12" stroke="#e38b19" stroke-width="0.9"/>
<line x1="129.02" y1="485.28" x2="132.62" y2="485.28" stroke="#e38b19" stroke-width="0.9"/>
<line x1="129.02" y1="495.12" x2="132.62" y2="495.12" stroke="#e38b19" stroke-width="0.9"/>
<circle cx="131.00" cy="486.80" r="1.45" fill="#e38b19"/>
<circle cx="131.00" cy="488.40" r="1.45" fill="#e38b19"/>
<circle cx="131.00" cy="492.40" r="1.45" fill="#e38b19"/>
<circle cx="131.00" cy="495.70" r="1.45" fill="#e38b19"/>
<line x1="137.07" y1="488.56" x2="137.07" y2="504.96" stroke="#5ba73a" stroke-width="0.9"/>
<line x1="135.27" y1="488.56" x2="138.87" y2="488.56" stroke="#5ba73a" stroke-width="0.9"/>
<line x1="135.27" y1="504.96" x2="138.87" y2="504.96" stroke="#5ba73a" stroke-width="0.9"/>
<circle cx="134.20" cy="489.70" r="1.45" fill="#5ba73a"/>
<circle cx="138.10" cy="491.60" r="1.45" fill="#5ba73a"/>
<circle cx="139.40" cy="491.90" r="1.45" fill="#5ba73a"/>
<circle cx="136.20" cy="497.30" r="1.45" fill="#5ba73a"/>
<circle cx="137.00" cy="507.50" r="1.45" fill="#5ba73a"/>
<circle cx="137.00" cy="513.90" r="1.45" fill="#5ba73a"/>
<line x1="130.82" y1="535.3" x2="130.82" y2="539.0999999999999" stroke="#222" stroke-width="1"/>
<text transform="translate(133.82,545.80) rotate(-45)" x="0" y="0" font-size="8.6" text-anchor="end" fill="#333">IgM</text>
<rect x="141.60" y="494.71" width="5.90" height="40.59" fill="#8d93b9"/>
<rect x="147.85" y="491.84" width="5.90" height="43.46" fill="#efc58d"/>
<rect x="154.10" y="497.17" width="5.90" height="38.13" fill="#b8d49e"/>
<line x1="144.55" y1="488.56" x2="144.55" y2="500.86" stroke="#1f3d80" stroke-width="0.9"/>
<line x1="142.75" y1="488.56" x2="146.35" y2="488.56" stroke="#1f3d80" stroke-width="0.9"/>
<line x1="142.75" y1="500.86" x2="146.35" y2="500.86" stroke="#1f3d80" stroke-width="0.9"/>
<circle cx="142.30" cy="486.00" r="1.45" fill="#1f3d80"/>
<circle cx="144.20" cy="490.30" r="1.45" fill="#1f3d80"/>
<circle cx="146.20" cy="490.80" r="1.45" fill="#1f3d80"/>
<circle cx="142.60" cy="498.10" r="1.45" fill="#1f3d80"/>
<circle cx="145.80" cy="498.40" r="1.45" fill="#1f3d80"/>
<circle cx="143.90" cy="503.30" r="1.45" fill="#1f3d80"/>
<line x1="150.80" y1="486.10" x2="150.80" y2="497.58" stroke="#e38b19" stroke-width="0.9"/>
<line x1="149.00" y1="486.10" x2="152.60" y2="486.10" stroke="#e38b19" stroke-width="0.9"/>
<line x1="149.00" y1="497.58" x2="152.60" y2="497.58" stroke="#e38b19" stroke-width="0.9"/>
<circle cx="150.70" cy="484.80" r="1.45" fill="#e38b19"/>
<circle cx="150.70" cy="486.80" r="1.45" fill="#e38b19"/>
<circle cx="150.70" cy="490.30" r="1.45" fill="#e38b19"/>
<circle cx="150.70" cy="503.70" r="1.45" fill="#e38b19"/>
<line x1="157.05" y1="488.97" x2="157.05" y2="505.37" stroke="#5ba73a" stroke-width="0.9"/>
<line x1="155.25" y1="488.97" x2="158.85" y2="488.97" stroke="#5ba73a" stroke-width="0.9"/>
<line x1="155.25" y1="505.37" x2="158.85" y2="505.37" stroke="#5ba73a" stroke-width="0.9"/>
<circle cx="156.80" cy="480.30" r="1.45" fill="#5ba73a"/>
<circle cx="155.20" cy="491.30" r="1.45" fill="#5ba73a"/>
<circle cx="158.80" cy="491.30" r="1.45" fill="#5ba73a"/>
<circle cx="157.20" cy="500.00" r="1.45" fill="#5ba73a"/>
<circle cx="157.20" cy="503.70" r="1.45" fill="#5ba73a"/>
<circle cx="156.80" cy="512.30" r="1.45" fill="#5ba73a"/>
<line x1="150.80" y1="535.3" x2="150.80" y2="539.0999999999999" stroke="#222" stroke-width="1"/>
<text transform="translate(153.80,545.80) rotate(-45)" x="0" y="0" font-size="8.6" text-anchor="end" fill="#333">IgA</text>
<rect x="161.58" y="494.71" width="5.90" height="40.59" fill="#8d93b9"/>
<rect x="167.83" y="486.92" width="5.90" height="48.38" fill="#efc58d"/>
<rect x="174.08" y="494.71" width="5.90" height="40.59" fill="#b8d49e"/>
<line x1="164.53" y1="489.79" x2="164.53" y2="499.63" stroke="#1f3d80" stroke-width="0.9"/>
<line x1="162.73" y1="489.79" x2="166.33" y2="489.79" stroke="#1f3d80" stroke-width="0.9"/>
<line x1="162.73" y1="499.63" x2="166.33" y2="499.63" stroke="#1f3d80" stroke-width="0.9"/>
<circle cx="162.30" cy="488.70" r="1.45" fill="#1f3d80"/>
<circle cx="164.40" cy="491.60" r="1.45" fill="#1f3d80"/>
<circle cx="166.80" cy="491.90" r="1.45" fill="#1f3d80"/>
<circle cx="162.80" cy="496.10" r="1.45" fill="#1f3d80"/>
<circle cx="165.20" cy="496.80" r="1.45" fill="#1f3d80"/>
<circle cx="164.40" cy="495.70" r="1.45" fill="#1f3d80"/>
<line x1="170.78" y1="478.72" x2="170.78" y2="495.12" stroke="#e38b19" stroke-width="0.9"/>
<line x1="168.98" y1="478.72" x2="172.58" y2="478.72" stroke="#e38b19" stroke-width="0.9"/>
<line x1="168.98" y1="495.12" x2="172.58" y2="495.12" stroke="#e38b19" stroke-width="0.9"/>
<circle cx="168.50" cy="482.70" r="1.45" fill="#e38b19"/>
<circle cx="170.90" cy="479.50" r="1.45" fill="#e38b19"/>
<circle cx="171.70" cy="486.00" r="1.45" fill="#e38b19"/>
<circle cx="170.90" cy="500.50" r="1.45" fill="#e38b19"/>
<line x1="177.03" y1="483.23" x2="177.03" y2="506.19" stroke="#5ba73a" stroke-width="0.9"/>
<line x1="175.23" y1="483.23" x2="178.83" y2="483.23" stroke="#5ba73a" stroke-width="0.9"/>
<line x1="175.23" y1="506.19" x2="178.83" y2="506.19" stroke="#5ba73a" stroke-width="0.9"/>
<circle cx="176.90" cy="473.00" r="1.45" fill="#5ba73a"/>
<circle cx="176.90" cy="485.20" r="1.45" fill="#5ba73a"/>
<circle cx="174.90" cy="501.30" r="1.45" fill="#5ba73a"/>
<circle cx="177.40" cy="502.10" r="1.45" fill="#5ba73a"/>
<circle cx="179.00" cy="498.90" r="1.45" fill="#5ba73a"/>
<circle cx="176.50" cy="495.70" r="1.45" fill="#5ba73a"/>
<line x1="170.78" y1="535.3" x2="170.78" y2="539.0999999999999" stroke="#222" stroke-width="1"/>
<text transform="translate(173.78,545.80) rotate(-45)" x="0" y="0" font-size="8.6" text-anchor="end" fill="#333">Igκ</text>
<rect x="181.56" y="494.71" width="5.90" height="40.59" fill="#8d93b9"/>
<rect x="187.81" y="489.38" width="5.90" height="45.92" fill="#efc58d"/>
<rect x="194.06" y="496.76" width="5.90" height="38.54" fill="#b8d49e"/>
<line x1="184.51" y1="490.61" x2="184.51" y2="498.81" stroke="#1f3d80" stroke-width="0.9"/>
<line x1="182.71" y1="490.61" x2="186.31" y2="490.61" stroke="#1f3d80" stroke-width="0.9"/>
<line x1="182.71" y1="498.81" x2="186.31" y2="498.81" stroke="#1f3d80" stroke-width="0.9"/>
<circle cx="184.60" cy="490.80" r="1.45" fill="#1f3d80"/>
<circle cx="184.60" cy="493.20" r="1.45" fill="#1f3d80"/>
<circle cx="184.60" cy="497.30" r="1.45" fill="#1f3d80"/>
<circle cx="183.80" cy="495.70" r="1.45" fill="#1f3d80"/>
<line x1="190.76" y1="484.46" x2="190.76" y2="494.30" stroke="#e38b19" stroke-width="0.9"/>
<line x1="188.96" y1="484.46" x2="192.56" y2="484.46" stroke="#e38b19" stroke-width="0.9"/>
<line x1="188.96" y1="494.30" x2="192.56" y2="494.30" stroke="#e38b19" stroke-width="0.9"/>
<circle cx="190.80" cy="482.70" r="1.45" fill="#e38b19"/>
<circle cx="190.80" cy="490.80" r="1.45" fill="#e38b19"/>
<circle cx="189.80" cy="491.60" r="1.45" fill="#e38b19"/>
<circle cx="191.90" cy="491.30" r="1.45" fill="#e38b19"/>
<line x1="197.01" y1="484.46" x2="197.01" y2="509.06" stroke="#5ba73a" stroke-width="0.9"/>
<line x1="195.21" y1="484.46" x2="198.81" y2="484.46" stroke="#5ba73a" stroke-width="0.9"/>
<line x1="195.21" y1="509.06" x2="198.81" y2="509.06" stroke="#5ba73a" stroke-width="0.9"/>
<circle cx="197.20" cy="476.80" r="1.45" fill="#5ba73a"/>
<circle cx="194.60" cy="484.80" r="1.45" fill="#5ba73a"/>
<circle cx="198.80" cy="485.20" r="1.45" fill="#5ba73a"/>
<circle cx="197.20" cy="500.50" r="1.45" fill="#5ba73a"/>
<circle cx="194.60" cy="504.90" r="1.45" fill="#5ba73a"/>
<circle cx="198.40" cy="509.40" r="1.45" fill="#5ba73a"/>
<circle cx="197.20" cy="517.50" r="1.45" fill="#5ba73a"/>
<line x1="190.76" y1="535.3" x2="190.76" y2="539.0999999999999" stroke="#222" stroke-width="1"/>
<text transform="translate(193.76,545.80) rotate(-45)" x="0" y="0" font-size="8.6" text-anchor="end" fill="#333">Igλ</text>
<circle cx="71.10" cy="466.10" r="1.1" fill="#111"/>
<circle cx="71.10" cy="469.70" r="1.1" fill="#111"/>
<text transform="translate(15.40,494.30) rotate(-90)" x="0" y="0" font-size="9" text-anchor="middle" fill="#333" textLength="64.6" lengthAdjust="spacingAndGlyphs">Relative expression</text>
<line x1="235.8" y1="450.9" x2="235.8" y2="534.9" stroke="#222" stroke-width="1.4"/>
<line x1="235.10000000000002" y1="534.9" x2="400.2" y2="534.9" stroke="#222" stroke-width="1.4"/>
<line x1="232.3" y1="452.9" x2="235.8" y2="452.9" stroke="#222" stroke-width="1"/>
<text x="230.30" y="455.89" font-size="8.3" text-anchor="end" font-weight="normal" font-style="normal" fill="#333" >2.0</text>
<line x1="232.3" y1="473.4" x2="235.8" y2="473.4" stroke="#222" stroke-width="1"/>
<text x="230.30" y="476.39" font-size="8.3" text-anchor="end" font-weight="normal" font-style="normal" fill="#333" >1.5</text>
<line x1="232.3" y1="493.9" x2="235.8" y2="493.9" stroke="#222" stroke-width="1"/>
<text x="230.30" y="496.89" font-size="8.3" text-anchor="end" font-weight="normal" font-style="normal" fill="#333" >1.0</text>
<line x1="232.3" y1="514.4" x2="235.8" y2="514.4" stroke="#222" stroke-width="1"/>
<text x="230.30" y="517.39" font-size="8.3" text-anchor="end" font-weight="normal" font-style="normal" fill="#333" >0.5</text>
<line x1="232.3" y1="534.9" x2="235.8" y2="534.9" stroke="#222" stroke-width="1"/>
<text x="230.30" y="537.89" font-size="8.3" text-anchor="end" font-weight="normal" font-style="normal" fill="#333" >0.0</text>
<text x="236.00" y="444.70" font-size="10" text-anchor="start" font-weight="normal" font-style="normal" fill="#111" textLength="23.8" lengthAdjust="spacingAndGlyphs" >Day 8</text>
<rect x="238.50" y="493.90" width="5.90" height="41.00" fill="#8d93b9"/>
<rect x="244.75" y="489.80" width="5.90" height="45.10" fill="#efc58d"/>
<rect x="251.00" y="490.62" width="5.90" height="44.28" fill="#b8d49e"/>
<line x1="241.45" y1="492.26" x2="241.45" y2="495.54" stroke="#1f3d80" stroke-width="0.9"/>
<line x1="239.65" y1="492.26" x2="243.25" y2="492.26" stroke="#1f3d80" stroke-width="0.9"/>
<line x1="239.65" y1="495.54" x2="243.25" y2="495.54" stroke="#1f3d80" stroke-width="0.9"/>
<circle cx="239.50" cy="494.00" r="1.45" fill="#1f3d80"/>
<circle cx="241.00" cy="493.00" r="1.45" fill="#1f3d80"/>
<circle cx="242.50" cy="494.50" r="1.45" fill="#1f3d80"/>
<circle cx="244.00" cy="493.50" r="1.45" fill="#1f3d80"/>
<circle cx="240.50" cy="495.50" r="1.45" fill="#1f3d80"/>
<circle cx="243.00" cy="496.00" r="1.45" fill="#1f3d80"/>
<circle cx="241.50" cy="492.50" r="1.45" fill="#1f3d80"/>
<line x1="247.70" y1="484.88" x2="247.70" y2="494.72" stroke="#e38b19" stroke-width="0.9"/>
<line x1="245.90" y1="484.88" x2="249.50" y2="484.88" stroke="#e38b19" stroke-width="0.9"/>
<line x1="245.90" y1="494.72" x2="249.50" y2="494.72" stroke="#e38b19" stroke-width="0.9"/>
<circle cx="245.50" cy="481.90" r="1.45" fill="#e38b19"/>
<circle cx="249.50" cy="485.20" r="1.45" fill="#e38b19"/>
<circle cx="247.10" cy="494.00" r="1.45" fill="#e38b19"/>
<circle cx="250.30" cy="494.00" r="1.45" fill="#e38b19"/>
<circle cx="248.70" cy="491.60" r="1.45" fill="#e38b19"/>
<line x1="253.95" y1="486.52" x2="253.95" y2="494.72" stroke="#5ba73a" stroke-width="0.9"/>
<line x1="252.15" y1="486.52" x2="255.75" y2="486.52" stroke="#5ba73a" stroke-width="0.9"/>
<line x1="252.15" y1="494.72" x2="255.75" y2="494.72" stroke="#5ba73a" stroke-width="0.9"/>
<circle cx="254.10" cy="481.10" r="1.45" fill="#5ba73a"/>
<circle cx="253.10" cy="490.80" r="1.45" fill="#5ba73a"/>
<circle cx="255.20" cy="492.40" r="1.45" fill="#5ba73a"/>
<circle cx="253.60" cy="494.80" r="1.45" fill="#5ba73a"/>
<circle cx="255.20" cy="495.70" r="1.45" fill="#5ba73a"/>
<line x1="247.70" y1="534.9" x2="247.70" y2="538.6999999999999" stroke="#222" stroke-width="1"/>
<text transform="translate(250.70,545.40) rotate(-45)" x="0" y="0" font-size="8.6" text-anchor="end" fill="#333">IgG1</text>
<rect x="258.45" y="493.08" width="5.90" height="41.82" fill="#8d93b9"/>
<rect x="264.70" y="496.36" width="5.90" height="38.54" fill="#efc58d"/>
<rect x="270.95" y="505.38" width="5.90" height="29.52" fill="#b8d49e"/>
<line x1="261.40" y1="486.11" x2="261.40" y2="500.05" stroke="#1f3d80" stroke-width="0.9"/>
<line x1="259.60" y1="486.11" x2="263.20" y2="486.11" stroke="#1f3d80" stroke-width="0.9"/>
<line x1="259.60" y1="500.05" x2="263.20" y2="500.05" stroke="#1f3d80" stroke-width="0.9"/>
<circle cx="261.20" cy="484.80" r="1.45" fill="#1f3d80"/>
<circle cx="262.10" cy="487.60" r="1.45" fill="#1f3d80"/>
<circle cx="259.20" cy="491.60" r="1.45" fill="#1f3d80"/>
<circle cx="263.30" cy="494.80" r="1.45" fill="#1f3d80"/>
<circle cx="260.80" cy="497.30" r="1.45" fill="#1f3d80"/>
<circle cx="261.70" cy="502.10" r="1.45" fill="#1f3d80"/>
<line x1="267.65" y1="471.76" x2="267.65" y2="520.96" stroke="#e38b19" stroke-width="0.9"/>
<line x1="265.85" y1="471.76" x2="269.45" y2="471.76" stroke="#e38b19" stroke-width="0.9"/>
<line x1="265.85" y1="520.96" x2="269.45" y2="520.96" stroke="#e38b19" stroke-width="0.9"/>
<circle cx="267.80" cy="460.60" r="1.45" fill="#e38b19"/>
<circle cx="268.10" cy="498.10" r="1.45" fill="#e38b19"/>
<circle cx="268.10" cy="504.90" r="1.45" fill="#e38b19"/>
<circle cx="268.10" cy="518.30" r="1.45" fill="#e38b19"/>
<line x1="273.90" y1="493.08" x2="273.90" y2="517.68" stroke="#5ba73a" stroke-width="0.9"/>
<line x1="272.10" y1="493.08" x2="275.70" y2="493.08" stroke="#5ba73a" stroke-width="0.9"/>
<line x1="272.10" y1="517.68" x2="275.70" y2="517.68" stroke="#5ba73a" stroke-width="0.9"/>
<circle cx="273.80" cy="477.10" r="1.45" fill="#5ba73a"/>
<circle cx="275.10" cy="496.50" r="1.45" fill="#5ba73a"/>
<circle cx="273.00" cy="503.70" r="1.45" fill="#5ba73a"/>
<circle cx="274.60" cy="506.50" r="1.45" fill="#5ba73a"/>
<circle cx="273.40" cy="509.10" r="1.45" fill="#5ba73a"/>
<circle cx="274.10" cy="511.30" r="1.45" fill="#5ba73a"/>
<line x1="267.65" y1="534.9" x2="267.65" y2="538.6999999999999" stroke="#222" stroke-width="1"/>
<text transform="translate(270.65,545.40) rotate(-45)" x="0" y="0" font-size="8.6" text-anchor="end" fill="#333">IgG2a</text>
<rect x="278.40" y="493.90" width="5.90" height="41.00" fill="#8d93b9"/>
<rect x="284.65" y="488.16" width="5.90" height="46.74" fill="#efc58d"/>
<rect x="290.90" y="493.90" width="5.90" height="41.00" fill="#b8d49e"/>
<line x1="281.35" y1="493.08" x2="281.35" y2="494.72" stroke="#1f3d80" stroke-width="0.9"/>
<line x1="279.55" y1="493.08" x2="283.15" y2="493.08" stroke="#1f3d80" stroke-width="0.9"/>
<line x1="279.55" y1="494.72" x2="283.15" y2="494.72" stroke="#1f3d80" stroke-width="0.9"/>
<circle cx="278.80" cy="494.00" r="1.45" fill="#1f3d80"/>
<circle cx="280.50" cy="494.00" r="1.45" fill="#1f3d80"/>
<circle cx="282.20" cy="494.00" r="1.45" fill="#1f3d80"/>
<circle cx="283.80" cy="494.00" r="1.45" fill="#1f3d80"/>
<line x1="287.60" y1="475.86" x2="287.60" y2="500.46" stroke="#e38b19" stroke-width="0.9"/>
<line x1="285.80" y1="475.86" x2="289.40" y2="475.86" stroke="#e38b19" stroke-width="0.9"/>
<line x1="285.80" y1="500.46" x2="289.40" y2="500.46" stroke="#e38b19" stroke-width="0.9"/>
<circle cx="287.50" cy="471.40" r="1.45" fill="#e38b19"/>
<circle cx="287.50" cy="486.00" r="1.45" fill="#e38b19"/>
<circle cx="285.90" cy="497.30" r="1.45" fill="#e38b19"/>
<circle cx="289.60" cy="496.10" r="1.45" fill="#e38b19"/>
<circle cx="288.00" cy="494.80" r="1.45" fill="#e38b19"/>
<line x1="293.85" y1="482.83" x2="293.85" y2="504.97" stroke="#5ba73a" stroke-width="0.9"/>
<line x1="292.05" y1="482.83" x2="295.65" y2="482.83" stroke="#5ba73a" stroke-width="0.9"/>
<line x1="292.05" y1="504.97" x2="295.65" y2="504.97" stroke="#5ba73a" stroke-width="0.9"/>
<circle cx="294.00" cy="472.60" r="1.45" fill="#5ba73a"/>
<circle cx="296.10" cy="490.80" r="1.45" fill="#5ba73a"/>
<circle cx="292.40" cy="492.40" r="1.45" fill="#5ba73a"/>
<circle cx="295.10" cy="498.10" r="1.45" fill="#5ba73a"/>
<circle cx="296.40" cy="502.90" r="1.45" fill="#5ba73a"/>
<circle cx="292.40" cy="505.40" r="1.45" fill="#5ba73a"/>
<line x1="287.60" y1="534.9" x2="287.60" y2="538.6999999999999" stroke="#222" stroke-width="1"/>
<text transform="translate(290.60,545.40) rotate(-45)" x="0" y="0" font-size="8.6" text-anchor="end" fill="#333">IgG2b</text>
<rect x="298.35" y="494.72" width="5.90" height="40.18" fill="#8d93b9"/>
<rect x="304.60" y="483.65" width="5.90" height="51.25" fill="#efc58d"/>
<rect x="310.85" y="494.31" width="5.90" height="40.59" fill="#b8d49e"/>
<line x1="301.30" y1="490.62" x2="301.30" y2="498.82" stroke="#1f3d80" stroke-width="0.9"/>
<line x1="299.50" y1="490.62" x2="303.10" y2="490.62" stroke="#1f3d80" stroke-width="0.9"/>
<line x1="299.50" y1="498.82" x2="303.10" y2="498.82" stroke="#1f3d80" stroke-width="0.9"/>
<circle cx="301.60" cy="490.00" r="1.45" fill="#1f3d80"/>
<circle cx="300.40" cy="492.40" r="1.45" fill="#1f3d80"/>
<circle cx="300.90" cy="494.80" r="1.45" fill="#1f3d80"/>
<circle cx="301.20" cy="497.30" r="1.45" fill="#1f3d80"/>
<circle cx="299.90" cy="496.10" r="1.45" fill="#1f3d80"/>
<line x1="307.55" y1="471.35" x2="307.55" y2="495.95" stroke="#e38b19" stroke-width="0.9"/>
<line x1="305.75" y1="471.35" x2="309.35" y2="471.35" stroke="#e38b19" stroke-width="0.9"/>
<line x1="305.75" y1="495.95" x2="309.35" y2="495.95" stroke="#e38b19" stroke-width="0.9"/>
<circle cx="306.40" cy="475.50" r="1.45" fill="#e38b19"/>
<circle cx="310.10" cy="470.60" r="1.45" fill="#e38b19"/>
<circle cx="308.00" cy="491.30" r="1.45" fill="#e38b19"/>
<circle cx="307.70" cy="496.80" r="1.45" fill="#e38b19"/>
<line x1="313.80" y1="486.11" x2="313.80" y2="502.51" stroke="#5ba73a" stroke-width="0.9"/>
<line x1="312.00" y1="486.11" x2="315.60" y2="486.11" stroke="#5ba73a" stroke-width="0.9"/>
<line x1="312.00" y1="502.51" x2="315.60" y2="502.51" stroke="#5ba73a" stroke-width="0.9"/>
<circle cx="316.60" cy="484.80" r="1.45" fill="#5ba73a"/>
<circle cx="312.50" cy="487.60" r="1.45" fill="#5ba73a"/>
<circle cx="313.80" cy="490.80" r="1.45" fill="#5ba73a"/>
<circle cx="314.50" cy="494.80" r="1.45" fill="#5ba73a"/>
<circle cx="312.50" cy="505.40" r="1.45" fill="#5ba73a"/>
<circle cx="316.60" cy="502.10" r="1.45" fill="#5ba73a"/>
<line x1="307.55" y1="534.9" x2="307.55" y2="538.6999999999999" stroke="#222" stroke-width="1"/>
<text transform="translate(310.55,545.40) rotate(-45)" x="0" y="0" font-size="8.6" text-anchor="end" fill="#333">IgG3</text>
<rect x="318.30" y="494.72" width="5.90" height="40.18" fill="#8d93b9"/>
<rect x="324.55" y="497.18" width="5.90" height="37.72" fill="#efc58d"/>
<rect x="330.80" y="497.18" width="5.90" height="37.72" fill="#b8d49e"/>
<line x1="321.25" y1="489.80" x2="321.25" y2="499.64" stroke="#1f3d80" stroke-width="0.9"/>
<line x1="319.45" y1="489.80" x2="323.05" y2="489.80" stroke="#1f3d80" stroke-width="0.9"/>
<line x1="319.45" y1="499.64" x2="323.05" y2="499.64" stroke="#1f3d80" stroke-width="0.9"/>
<circle cx="321.70" cy="487.60" r="1.45" fill="#1f3d80"/>
<circle cx="322.50" cy="491.90" r="1.45" fill="#1f3d80"/>
<circle cx="320.50" cy="494.00" r="1.45" fill="#1f3d80"/>
<circle cx="323.30" cy="494.80" r="1.45" fill="#1f3d80"/>
<circle cx="319.60" cy="500.00" r="1.45" fill="#1f3d80"/>
<line x1="327.50" y1="484.88" x2="327.50" y2="509.48" stroke="#e38b19" stroke-width="0.9"/>
<line x1="325.70" y1="484.88" x2="329.30" y2="484.88" stroke="#e38b19" stroke-width="0.9"/>
<line x1="325.70" y1="509.48" x2="329.30" y2="509.48" stroke="#e38b19" stroke-width="0.9"/>
<circle cx="327.60" cy="482.20" r="1.45" fill="#e38b19"/>
<circle cx="325.40" cy="497.30" r="1.45" fill="#e38b19"/>
<circle cx="329.70" cy="497.80" r="1.45" fill="#e38b19"/>
<circle cx="327.60" cy="505.40" r="1.45" fill="#e38b19"/>
<line x1="333.75" y1="493.08" x2="333.75" y2="501.28" stroke="#5ba73a" stroke-width="0.9"/>
<line x1="331.95" y1="493.08" x2="335.55" y2="493.08" stroke="#5ba73a" stroke-width="0.9"/>
<line x1="331.95" y1="501.28" x2="335.55" y2="501.28" stroke="#5ba73a" stroke-width="0.9"/>
<circle cx="331.30" cy="494.00" r="1.45" fill="#5ba73a"/>
<circle cx="334.10" cy="495.70" r="1.45" fill="#5ba73a"/>
<circle cx="336.70" cy="494.80" r="1.45" fill="#5ba73a"/>
<circle cx="333.80" cy="499.40" r="1.45" fill="#5ba73a"/>
<circle cx="334.60" cy="502.90" r="1.45" fill="#5ba73a"/>
<line x1="327.50" y1="534.9" x2="327.50" y2="538.6999999999999" stroke="#222" stroke-width="1"/>
<text transform="translate(330.50,545.40) rotate(-45)" x="0" y="0" font-size="8.6" text-anchor="end" fill="#333">IgM</text>
<rect x="338.25" y="493.90" width="5.90" height="41.00" fill="#8d93b9"/>
<rect x="344.50" y="494.72" width="5.90" height="40.18" fill="#efc58d"/>
<rect x="350.75" y="499.23" width="5.90" height="35.67" fill="#b8d49e"/>
<line x1="341.20" y1="491.03" x2="341.20" y2="496.77" stroke="#1f3d80" stroke-width="0.9"/>
<line x1="339.40" y1="491.03" x2="343.00" y2="491.03" stroke="#1f3d80" stroke-width="0.9"/>
<line x1="339.40" y1="496.77" x2="343.00" y2="496.77" stroke="#1f3d80" stroke-width="0.9"/>
<circle cx="341.00" cy="490.80" r="1.45" fill="#1f3d80"/>
<circle cx="342.20" cy="492.40" r="1.45" fill="#1f3d80"/>
<circle cx="341.50" cy="494.80" r="1.45" fill="#1f3d80"/>
<circle cx="341.80" cy="496.50" r="1.45" fill="#1f3d80"/>
<line x1="347.45" y1="488.57" x2="347.45" y2="500.87" stroke="#e38b19" stroke-width="0.9"/>
<line x1="345.65" y1="488.57" x2="349.25" y2="488.57" stroke="#e38b19" stroke-width="0.9"/>
<line x1="345.65" y1="500.87" x2="349.25" y2="500.87" stroke="#e38b19" stroke-width="0.9"/>
<circle cx="347.50" cy="488.40" r="1.45" fill="#e38b19"/>
<circle cx="345.40" cy="492.40" r="1.45" fill="#e38b19"/>
<circle cx="349.10" cy="494.50" r="1.45" fill="#e38b19"/>
<circle cx="348.00" cy="502.10" r="1.45" fill="#e38b19"/>
<line x1="353.70" y1="494.31" x2="353.70" y2="504.15" stroke="#5ba73a" stroke-width="0.9"/>
<line x1="351.90" y1="494.31" x2="355.50" y2="494.31" stroke="#5ba73a" stroke-width="0.9"/>
<line x1="351.90" y1="504.15" x2="355.50" y2="504.15" stroke="#5ba73a" stroke-width="0.9"/>
<circle cx="354.00" cy="494.00" r="1.45" fill="#5ba73a"/>
<circle cx="352.30" cy="497.30" r="1.45" fill="#5ba73a"/>
<circle cx="355.60" cy="502.10" r="1.45" fill="#5ba73a"/>
<circle cx="352.80" cy="505.40" r="1.45" fill="#5ba73a"/>
<line x1="347.45" y1="534.9" x2="347.45" y2="538.6999999999999" stroke="#222" stroke-width="1"/>
<text transform="translate(350.45,545.40) rotate(-45)" x="0" y="0" font-size="8.6" text-anchor="end" fill="#333">IgA</text>
<rect x="358.20" y="494.31" width="5.90" height="40.59" fill="#8d93b9"/>
<rect x="364.45" y="498.00" width="5.90" height="36.90" fill="#efc58d"/>
<rect x="370.70" y="502.92" width="5.90" height="31.98" fill="#b8d49e"/>
<line x1="361.15" y1="491.03" x2="361.15" y2="497.59" stroke="#1f3d80" stroke-width="0.9"/>
<line x1="359.35" y1="491.03" x2="362.95" y2="491.03" stroke="#1f3d80" stroke-width="0.9"/>
<line x1="359.35" y1="497.59" x2="362.95" y2="497.59" stroke="#1f3d80" stroke-width="0.9"/>
<circle cx="359.30" cy="489.70" r="1.45" fill="#1f3d80"/>
<circle cx="361.20" cy="492.40" r="1.45" fill="#1f3d80"/>
<circle cx="363.20" cy="494.00" r="1.45" fill="#1f3d80"/>
<circle cx="360.40" cy="495.70" r="1.45" fill="#1f3d80"/>
<circle cx="362.00" cy="496.80" r="1.45" fill="#1f3d80"/>
<line x1="367.40" y1="483.65" x2="367.40" y2="512.35" stroke="#e38b19" stroke-width="0.9"/>
<line x1="365.60" y1="483.65" x2="369.20" y2="483.65" stroke="#e38b19" stroke-width="0.9"/>
<line x1="365.60" y1="512.35" x2="369.20" y2="512.35" stroke="#e38b19" stroke-width="0.9"/>
<circle cx="367.70" cy="480.30" r="1.45" fill="#e38b19"/>
<circle cx="367.70" cy="495.70" r="1.45" fill="#e38b19"/>
<circle cx="366.10" cy="502.10" r="1.45" fill="#e38b19"/>
<circle cx="369.30" cy="502.10" r="1.45" fill="#e38b19"/>
<line x1="373.65" y1="498.82" x2="373.65" y2="507.02" stroke="#5ba73a" stroke-width="0.9"/>
<line x1="371.85" y1="498.82" x2="375.45" y2="498.82" stroke="#5ba73a" stroke-width="0.9"/>
<line x1="371.85" y1="507.02" x2="375.45" y2="507.02" stroke="#5ba73a" stroke-width="0.9"/>
<circle cx="376.10" cy="494.00" r="1.45" fill="#5ba73a"/>
<circle cx="373.40" cy="497.30" r="1.45" fill="#5ba73a"/>
<circle cx="374.50" cy="502.10" r="1.45" fill="#5ba73a"/>
<circle cx="377.10" cy="501.30" r="1.45" fill="#5ba73a"/>
<circle cx="374.20" cy="511.80" r="1.45" fill="#5ba73a"/>
<line x1="367.40" y1="534.9" x2="367.40" y2="538.6999999999999" stroke="#222" stroke-width="1"/>
<text transform="translate(370.40,545.40) rotate(-45)" x="0" y="0" font-size="8.6" text-anchor="end" fill="#333">Igκ</text>
<rect x="378.15" y="493.08" width="5.90" height="41.82" fill="#8d93b9"/>
<rect x="384.40" y="489.80" width="5.90" height="45.10" fill="#efc58d"/>
<rect x="390.65" y="502.92" width="5.90" height="31.98" fill="#b8d49e"/>
<line x1="381.10" y1="491.03" x2="381.10" y2="495.13" stroke="#1f3d80" stroke-width="0.9"/>
<line x1="379.30" y1="491.03" x2="382.90" y2="491.03" stroke="#1f3d80" stroke-width="0.9"/>
<line x1="379.30" y1="495.13" x2="382.90" y2="495.13" stroke="#1f3d80" stroke-width="0.9"/>
<circle cx="381.40" cy="491.30" r="1.45" fill="#1f3d80"/>
<circle cx="381.40" cy="494.00" r="1.45" fill="#1f3d80"/>
<circle cx="381.40" cy="496.50" r="1.45" fill="#1f3d80"/>
<line x1="387.35" y1="481.60" x2="387.35" y2="498.00" stroke="#e38b19" stroke-width="0.9"/>
<line x1="385.55" y1="481.60" x2="389.15" y2="481.60" stroke="#e38b19" stroke-width="0.9"/>
<line x1="385.55" y1="498.00" x2="389.15" y2="498.00" stroke="#e38b19" stroke-width="0.9"/>
<circle cx="387.90" cy="482.70" r="1.45" fill="#e38b19"/>
<circle cx="387.90" cy="487.60" r="1.45" fill="#e38b19"/>
<circle cx="387.90" cy="503.70" r="1.45" fill="#e38b19"/>
<line x1="393.60" y1="490.62" x2="393.60" y2="515.22" stroke="#5ba73a" stroke-width="0.9"/>
<line x1="391.80" y1="490.62" x2="395.40" y2="490.62" stroke="#5ba73a" stroke-width="0.9"/>
<line x1="391.80" y1="515.22" x2="395.40" y2="515.22" stroke="#5ba73a" stroke-width="0.9"/>
<circle cx="394.40" cy="479.50" r="1.45" fill="#5ba73a"/>
<circle cx="394.40" cy="499.70" r="1.45" fill="#5ba73a"/>
<circle cx="394.40" cy="503.70" r="1.45" fill="#5ba73a"/>
<circle cx="394.40" cy="510.20" r="1.45" fill="#5ba73a"/>
<circle cx="394.40" cy="513.90" r="1.45" fill="#5ba73a"/>
<line x1="387.35" y1="534.9" x2="387.35" y2="538.6999999999999" stroke="#222" stroke-width="1"/>
<text transform="translate(390.35,545.40) rotate(-45)" x="0" y="0" font-size="8.6" text-anchor="end" fill="#333">Igλ</text>
<circle cx="374.20" cy="482.70" r="1.1" fill="#111"/>
<circle cx="374.20" cy="486.30" r="1.1" fill="#111"/>
<rect x="409.2" y="453.8" width="13.3" height="6.7" fill="#8d93b9"/>
<text x="425.9" y="459.8" font-size="8.5" font-style="italic" fill="#222"><tspan textLength="16.1" lengthAdjust="spacingAndGlyphs">Ubr5</tspan><tspan font-size="5.8" dy="-3.4" textLength="7.8" lengthAdjust="spacingAndGlyphs">WT</tspan></text>
<rect x="409.2" y="466" width="13.3" height="6.7" fill="#efc58d"/>
<text x="425.9" y="472" font-size="8.5" font-style="italic" fill="#222"><tspan textLength="16.1" lengthAdjust="spacingAndGlyphs">Ubr5</tspan><tspan font-size="5.8" dy="-3.4" textLength="27.1" lengthAdjust="spacingAndGlyphs">ΔHECT/WT</tspan></text>
<rect x="409.2" y="478.1" width="13.3" height="6.7" fill="#b8d49e"/>
<text x="425.9" y="483.8" font-size="8.5" font-style="italic" fill="#222"><tspan textLength="16.1" lengthAdjust="spacingAndGlyphs">Ubr5</tspan><tspan font-size="5.8" dy="-3.4" textLength="17" lengthAdjust="spacingAndGlyphs">ΔHECT</tspan></text>
</svg></body></html>
